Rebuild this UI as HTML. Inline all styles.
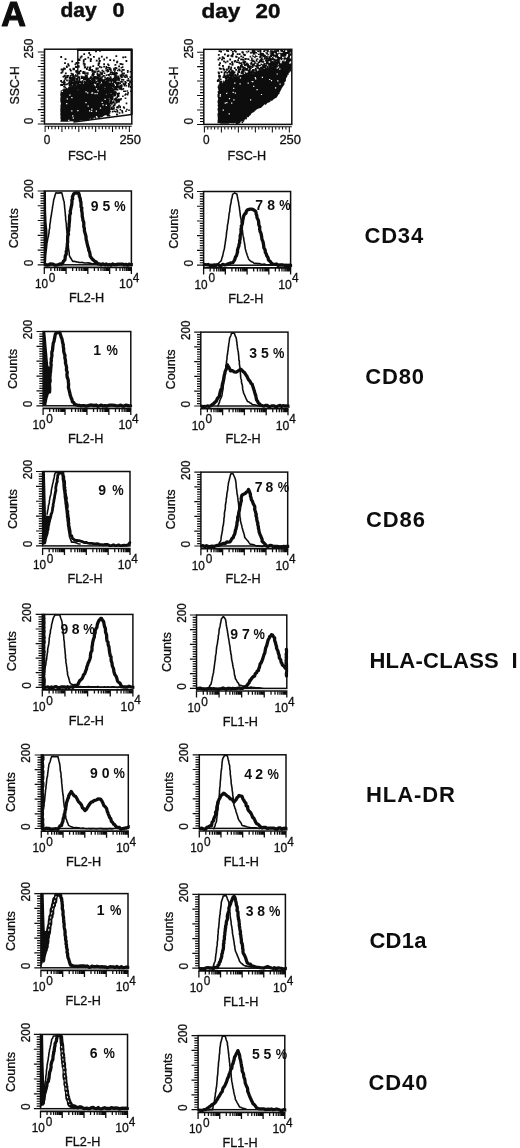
<!DOCTYPE html>
<html><head><meta charset="utf-8"><title>Figure A</title>
<style>
html,body{margin:0;padding:0;background:#fff;}
svg{display:block;}
text{font-family:"Liberation Sans",sans-serif;fill:#111;}
text.r{stroke:#111;stroke-width:0.3px;}
text.hA{stroke:#111;stroke-width:1.1px;stroke-linejoin:round;}
text.hd{stroke:#111;stroke-width:0.45px;}
</style></head><body>
<svg width="520" height="1148" viewBox="0 0 520 1148">
<rect width="520" height="1148" fill="#fff"/>
<filter id="soft" x="0" y="0" width="520" height="1148" filterUnits="userSpaceOnUse"><feGaussianBlur stdDeviation="0.45"/></filter>
<g filter="url(#soft)">
<text x="1.3" y="25.9" font-size="34.2" font-weight="bold" class="hA">A</text>
<text font-size="19.5" font-weight="bold" class="hd"><tspan x="60.4" y="17.2" textLength="36.2" lengthAdjust="spacingAndGlyphs">day</tspan> <tspan x="112.6" y="17.2" textLength="12.0" lengthAdjust="spacingAndGlyphs">0</tspan></text>
<text font-size="19.5" font-weight="bold" class="hd"><tspan x="201.4" y="18.2" textLength="38.8" lengthAdjust="spacingAndGlyphs">day</tspan> <tspan x="255.6" y="18.2" textLength="24.8" lengthAdjust="spacingAndGlyphs">20</tspan></text>
<rect x="44.5" y="49.2" width="87.3" height="74.8" fill="none" stroke="#111" stroke-width="1.5"/>
<path d="M37.8 124.00H44.5M40.7 121.12H44.5M40.7 118.25H44.5M40.7 115.37H44.5M40.7 112.49H44.5M37.8 109.62H44.5M40.7 106.74H44.5M40.7 103.86H44.5M40.7 100.98H44.5M40.7 98.11H44.5M37.8 95.23H44.5M40.7 92.35H44.5M40.7 89.48H44.5M40.7 86.60H44.5M40.7 83.72H44.5M37.8 80.85H44.5M40.7 77.97H44.5M40.7 75.09H44.5M40.7 72.22H44.5M40.7 69.34H44.5M37.8 66.46H44.5M40.7 63.58H44.5M40.7 60.71H44.5M40.7 57.83H44.5M40.7 54.95H44.5M37.8 52.08H44.5" stroke="#111" stroke-width="1.05" fill="none"/>
<path d="M44.5 126.3H131.8M45.10 126.3v5.8M48.47 126.3v2.9M51.84 126.3v2.9M55.21 126.3v2.9M58.58 126.3v2.9M61.95 126.3v5.8M65.32 126.3v2.9M68.69 126.3v2.9M72.07 126.3v2.9M75.44 126.3v2.9M78.81 126.3v5.8M82.18 126.3v2.9M85.55 126.3v2.9M88.92 126.3v2.9M92.29 126.3v2.9M95.66 126.3v5.8M99.03 126.3v2.9M102.40 126.3v2.9M105.77 126.3v2.9M109.14 126.3v2.9M112.51 126.3v5.8M115.88 126.3v2.9M119.25 126.3v2.9M122.63 126.3v2.9M126.00 126.3v2.9M129.37 126.3v5.8" stroke="#111" stroke-width="1.05" fill="none"/>
<text x="43.7" y="144.0" font-size="12" class="r" textLength="6.6" lengthAdjust="spacingAndGlyphs">0</text>
<text x="119.4" y="144.0" font-size="12" class="r" textLength="21.6" lengthAdjust="spacingAndGlyphs">250</text>
<text x="87.2" y="159.8" font-size="12.3" class="r" textLength="38.6" lengthAdjust="spacingAndGlyphs" text-anchor="middle">FSC-H</text>
<text transform="translate(33.3,58.4) rotate(-90)" font-size="12" class="r" textLength="19.8" lengthAdjust="spacingAndGlyphs">250</text>
<text transform="translate(33.3,124.2) rotate(-90)" font-size="12" class="r" textLength="6.6" lengthAdjust="spacingAndGlyphs">0</text>
<text transform="translate(19.1,104.4) rotate(-90)" font-size="12.3" class="r" textLength="38.2" lengthAdjust="spacingAndGlyphs">SSC-H</text>
<clipPath id="c1"><rect x="45.0" y="49.7" width="86.30000000000001" height="73.8"/></clipPath><g clip-path="url(#c1)">
<path d="M60.5 91.1 L60.7 91.7 L60.3 94.2 L60.3 95.6 L60.7 96.7 L60.3 98.0 L60.3 99.8 L60.3 101.5 L61.0 103.4 L60.5 105.3 L60.3 105.7 L60.5 107.1 L60.3 109.3 L60.3 111.4 L60.5 112.4 L60.3 113.6 L60.3 115.1 L60.6 116.7 L60.3 118.0 L60.8 119.8 L60.3 121.8 L61.9 121.8 L63.6 121.8 L64.4 121.8 L66.6 121.8 L68.0 121.8 L69.1 121.6 L71.0 121.3 L73.3 121.6 L75.1 121.8 L76.1 121.8 L77.8 121.1 L79.0 120.9 L80.5 120.5 L82.8 120.4 L83.9 120.3 L85.8 120.6 L86.3 120.6 L88.9 120.4 L89.9 119.1 L91.0 119.9 L93.0 118.6 L95.0 119.0 L96.1 118.4 L97.5 117.8 L98.7 118.2 L101.0 117.3 L102.4 117.1 L103.7 116.1 L105.3 115.3 L108.1 114.8 L108.8 113.3 L110.9 111.8 L110.4 110.5 L110.0 108.5 L110.5 107.3 L109.5 105.6 L108.9 103.9 L109.6 101.6 L108.6 101.1 L107.6 99.3 L108.2 97.7 L107.3 95.7 L105.8 94.3 L105.0 92.7 L105.2 91.4 L103.0 90.1 L102.4 89.4 L101.1 88.6 L99.0 88.3 L97.5 87.1 L95.2 86.8 L93.4 86.1 L91.1 85.5 L89.9 86.4 L87.7 86.3 L86.4 86.3 L84.8 86.6 L82.9 85.7 L81.2 85.1 L79.7 86.2 L79.0 85.0 L77.1 85.5 L75.6 86.2 L73.6 87.0 L72.3 87.0 L71.0 86.9 L68.6 87.6 L68.1 88.6 L66.5 88.1 L65.3 89.5 L63.8 89.6 L62.4 89.4Z" fill="#111"/>
<path d="M84.3 87.6h0M100.4 87.0h0M98.1 93.2h0M86.5 87.9h0M92.9 87.8h0M82.6 90.5h0M76.6 79.8h0M95.5 90.0h0M105.9 93.0h0M72.2 89.9h0M99.5 88.5h0M87.1 79.9h0M106.1 90.8h0M104.7 90.3h0M94.3 76.7h0M110.6 92.3h0M68.9 88.1h0M107.5 92.4h0M97.5 93.5h0M82.6 93.2h0M83.1 91.8h0M72.5 92.9h0M104.5 73.2h0M89.2 88.5h0M92.2 88.5h0M98.4 92.2h0M73.4 91.8h0M92.3 84.4h0M73.3 92.7h0M95.3 88.7h0M96.9 87.4h0M92.1 90.9h0M105.5 85.3h0M87.4 91.2h0M82.3 90.9h0M66.6 92.0h0M82.3 93.0h0M85.5 84.6h0M95.6 87.5h0M103.1 88.5h0M106.6 91.0h0M84.5 81.7h0M91.6 89.1h0M72.4 78.1h0M84.5 92.7h0M101.7 91.7h0M107.5 88.7h0M101.7 87.0h0M68.2 90.9h0M84.0 92.0h0M103.2 90.0h0M76.5 90.6h0M75.0 89.5h0M107.0 81.2h0M109.7 92.6h0M98.0 91.9h0M75.7 83.3h0M103.9 93.2h0M86.9 86.7h0M80.1 90.5h0M85.3 91.0h0M67.9 90.6h0M100.1 90.0h0M92.2 92.7h0M79.5 93.4h0M104.7 92.5h0M99.7 88.4h0M76.9 91.7h0M105.6 91.2h0M75.5 81.8h0M89.1 91.5h0M103.7 91.6h0M84.7 92.3h0M101.2 89.5h0M70.5 90.4h0M80.0 87.1h0M88.9 89.1h0M65.5 90.0h0M107.4 92.4h0M88.8 85.3h0M75.7 85.4h0M87.3 85.6h0M93.3 88.7h0M89.1 87.5h0M82.7 93.0h0M87.3 92.4h0M108.2 85.9h0M94.7 91.5h0M82.3 90.1h0M72.2 86.9h0M105.1 93.1h0M86.5 88.5h0M80.5 82.1h0M65.9 93.2h0M81.1 88.9h0M75.2 90.0h0M70.9 89.3h0M102.7 81.7h0M91.2 88.3h0M72.8 92.6h0M100.4 88.7h0M71.5 91.0h0M95.5 88.5h0M81.1 93.0h0M92.2 93.0h0M78.3 92.3h0M83.3 93.2h0M72.4 86.9h0M75.6 90.8h0M101.5 80.1h0M108.1 86.9h0M107.1 89.0h0M98.2 81.1h0M97.2 83.5h0M83.2 89.0h0M80.5 88.6h0M97.8 84.6h0M81.7 90.5h0M91.8 79.4h0M99.3 76.9h0M77.6 87.7h0M94.2 78.4h0M90.9 93.2h0M92.0 84.7h0M104.8 93.2h0M71.5 89.2h0M78.8 93.2h0M70.2 91.3h0M101.9 88.0h0M79.0 93.3h0M86.5 88.5h0M64.0 86.7h0M110.2 88.0h0M72.6 82.9h0M88.4 92.0h0M91.3 91.7h0M64.4 86.3h0M104.5 92.3h0M91.0 93.3h0M97.6 90.2h0M104.9 92.7h0M97.0 90.3h0M77.0 88.8h0M75.8 91.7h0M74.2 87.3h0M93.0 90.6h0M84.4 91.9h0M77.2 92.2h0M95.5 92.9h0M79.7 92.5h0M80.4 87.7h0M85.2 89.6h0M95.1 89.4h0M72.2 93.1h0M70.8 83.8h0M68.4 90.6h0M83.2 71.9h0M70.1 90.2h0M75.4 92.4h0M88.2 90.3h0M108.2 90.6h0M96.4 87.6h0M105.5 93.2h0M89.9 92.1h0M98.2 90.5h0M96.2 92.2h0M109.6 92.1h0M76.3 88.4h0M87.2 89.4h0M93.8 92.5h0M73.0 93.2h0M86.2 93.4h0M86.8 82.1h0M71.4 91.0h0M79.1 92.0h0M97.1 92.2h0M104.5 92.1h0M85.4 89.9h0M90.6 93.3h0M74.1 84.9h0M79.6 89.1h0M76.6 87.6h0M87.6 88.8h0M75.3 89.7h0M73.8 92.0h0M99.4 83.9h0M93.8 93.5h0M93.6 86.2h0M78.9 89.3h0M98.0 93.5h0M96.8 92.7h0M90.5 83.4h0M100.2 87.2h0M81.4 91.1h0M77.1 83.8h0M88.0 89.3h0M82.2 86.9h0M86.0 93.3h0M81.4 84.2h0M74.5 92.2h0M89.2 91.6h0M76.0 88.5h0M108.2 91.3h0M66.4 90.2h0M103.8 88.5h0M87.2 85.7h0M94.6 91.7h0M78.6 88.6h0M101.5 92.3h0M85.7 89.4h0M64.4 92.1h0M98.3 92.1h0M108.9 92.2h0M94.1 93.2h0M99.9 91.4h0M105.1 91.7h0M68.9 92.2h0M67.9 89.5h0M79.1 91.4h0M92.4 90.2h0M77.2 93.5h0M77.0 83.2h0M83.9 77.2h0M88.2 87.8h0M99.6 82.5h0M89.7 91.9h0M88.0 92.0h0M79.1 84.9h0M105.1 77.2h0M89.1 92.5h0M87.8 92.0h0M80.9 93.4h0M75.8 75.1h0M67.9 90.8h0M83.1 93.4h0M87.0 87.2h0M99.4 86.4h0M76.5 93.5h0M90.3 86.2h0M93.1 92.3h0M95.9 89.0h0M107.2 89.7h0M99.8 88.3h0M108.4 89.4h0M75.5 93.3h0M87.5 93.1h0M99.3 75.4h0M93.7 91.9h0M91.1 87.6h0M70.9 90.2h0M97.6 90.9h0M71.8 83.0h0M88.6 85.9h0M109.0 91.8h0M104.3 92.5h0M79.7 92.0h0M92.2 89.4h0M91.3 92.4h0M72.4 93.5h0M80.0 93.0h0M80.5 92.4h0M69.2 87.9h0M70.2 89.8h0M104.2 92.9h0M92.0 92.1h0M96.7 90.0h0M78.0 87.9h0M97.6 75.1h0M89.4 91.5h0M109.1 90.4h0M78.8 89.7h0M84.0 87.5h0M83.8 88.3h0M107.2 91.9h0M71.0 87.4h0M84.8 93.2h0M110.9 90.1h0M87.3 92.3h0M65.3 87.5h0M77.1 91.6h0M89.5 91.9h0M101.0 89.8h0M92.4 89.8h0M79.4 90.9h0M96.7 88.8h0M107.1 82.3h0M99.6 89.6h0M101.6 87.5h0M102.3 76.6h0M87.4 84.1h0M66.1 89.6h0M64.1 89.3h0M67.8 84.0h0M83.1 92.0h0M63.3 76.7h0M68.0 93.2h0M89.9 90.9h0M76.0 88.8h0M75.3 87.1h0M101.4 92.9h0M90.7 85.3h0M99.0 89.1h0M67.1 90.2h0M85.7 90.6h0M92.8 92.6h0M104.9 93.3h0M80.7 87.9h0M101.5 85.5h0M86.8 89.1h0M87.3 93.3h0M99.2 78.8h0M97.4 90.0h0M89.5 84.6h0M106.3 66.7h0M94.5 93.3h0M80.7 92.3h0M101.0 84.4h0M80.9 86.0h0M97.7 88.3h0M81.3 82.7h0M97.2 84.8h0M86.4 91.8h0M94.0 87.9h0M66.2 88.5h0M101.9 92.1h0M84.8 89.0h0M105.9 92.8h0M101.5 91.8h0M108.7 91.0h0M99.9 92.6h0M102.0 89.2h0M103.5 93.0h0M95.1 92.3h0M73.1 88.6h0M93.6 78.9h0M67.0 93.4h0M106.7 90.5h0M98.8 91.1h0M71.7 93.4h0M105.2 92.4h0M101.5 80.1h0M65.5 92.8h0M85.1 74.0h0M105.3 88.9h0M91.5 92.3h0M66.5 84.4h0M68.3 75.8h0M90.6 59.2h0M103.5 92.2h0M81.0 93.2h0M86.2 84.2h0M89.9 83.7h0M68.7 92.5h0M92.5 93.0h0M100.6 85.7h0M96.2 91.6h0M67.0 90.1h0M83.6 91.1h0M87.7 90.8h0M106.3 90.9h0M109.7 92.4h0M86.6 93.1h0M102.4 76.9h0M96.5 93.5h0M100.6 87.2h0M88.3 84.4h0M69.9 85.6h0M101.6 91.7h0M101.8 90.6h0M82.0 88.5h0M74.5 88.7h0M104.9 90.9h0M87.5 91.8h0M99.5 81.7h0M100.7 85.4h0M89.0 91.4h0M92.2 92.0h0M109.8 89.9h0M82.8 82.9h0M66.5 91.1h0M93.5 76.0h0M110.0 92.3h0M87.2 88.1h0M104.0 93.1h0M79.2 90.8h0M90.7 93.0h0M97.5 91.6h0M106.3 92.4h0M77.8 92.9h0M90.7 90.0h0M98.7 91.1h0M103.2 82.9h0M84.6 92.9h0M84.2 90.5h0M75.6 85.5h0M100.0 92.0h0M90.9 87.5h0M101.2 73.9h0M73.6 88.6h0M70.0 86.4h0" stroke="#111" stroke-width="1.6" stroke-linecap="square" fill="none"/>
<path d="M120.7 85.8h0M87.0 77.8h0M113.4 85.5h0M83.3 87.9h0M94.8 80.4h0M64.6 82.4h0M94.3 80.5h0M98.5 65.1h0M85.0 79.5h0M84.8 83.3h0M129.1 84.5h0M76.4 63.0h0M79.1 86.8h0M83.2 73.0h0M117.4 82.8h0M102.6 84.9h0M84.8 64.2h0M89.7 85.8h0M115.1 69.8h0M81.5 84.9h0M121.7 74.8h0M121.1 81.9h0M98.2 80.4h0M108.0 80.6h0M109.7 86.7h0M79.1 77.2h0M117.1 84.2h0M90.6 83.5h0M83.9 79.5h0M98.7 78.4h0M93.4 74.2h0M80.2 82.3h0M69.8 81.6h0M121.7 71.5h0M130.4 77.1h0M108.1 79.6h0M117.2 82.9h0M95.7 83.4h0M101.8 56.7h0M78.6 62.9h0M80.2 85.2h0M98.7 83.1h0M91.6 81.8h0M78.9 85.9h0M103.6 71.6h0M92.5 81.0h0M114.4 82.1h0M96.9 86.2h0M91.9 86.6h0M99.2 80.9h0M94.1 82.7h0M85.6 86.0h0M90.2 70.2h0M109.7 67.9h0M108.0 64.4h0M118.9 79.2h0M68.2 64.2h0M90.3 87.2h0M90.0 68.7h0M99.9 80.3h0M89.3 82.5h0M88.3 57.6h0M110.3 86.6h0M100.0 87.2h0M77.2 72.9h0M119.7 70.3h0M113.9 81.4h0M87.2 80.0h0M111.1 79.2h0M84.5 65.5h0M116.1 77.7h0M93.3 86.9h0M83.4 85.0h0M90.7 61.0h0M84.0 77.6h0M100.3 82.1h0M100.0 87.4h0M97.6 87.7h0M87.5 87.5h0M98.6 63.7h0M64.8 75.6h0M101.2 85.6h0M116.2 76.4h0M101.7 87.8h0M90.4 67.1h0M93.9 56.8h0M94.7 86.7h0M87.7 85.0h0M87.1 88.0h0M81.3 87.3h0M117.2 83.0h0M96.7 81.6h0M113.3 85.8h0M92.7 71.0h0M98.2 75.4h0M94.1 87.3h0M104.9 83.8h0M111.1 80.6h0M101.1 87.6h0M85.5 83.2h0M83.7 61.5h0M125.2 81.8h0M92.2 75.2h0M92.1 69.8h0M121.9 77.2h0M115.5 67.8h0M106.1 84.3h0M90.2 87.2h0M103.7 75.8h0M106.3 86.7h0M94.1 86.3h0M73.0 83.0h0M74.3 78.0h0M103.9 75.9h0M103.7 87.3h0M92.9 84.0h0M77.1 86.3h0M72.5 87.5h0M91.4 85.1h0M72.2 87.4h0M112.3 79.7h0M116.6 80.3h0M111.9 85.2h0M86.9 69.0h0M82.2 82.4h0M86.9 81.0h0M94.0 82.8h0M113.5 84.8h0M107.4 81.6h0M107.0 87.9h0M100.6 86.5h0M108.2 85.7h0M121.6 85.1h0M78.9 77.3h0M89.2 70.1h0M73.4 85.8h0M124.5 85.5h0M119.0 80.3h0M109.8 84.6h0M76.6 86.7h0M99.9 60.9h0M93.0 75.4h0M98.4 75.3h0M93.8 82.4h0M105.8 85.7h0M90.3 80.3h0M111.5 84.8h0M101.1 87.6h0M92.0 82.1h0M95.1 82.3h0M89.5 81.0h0M110.8 69.3h0M92.4 84.1h0M102.0 74.3h0M90.3 78.1h0M71.8 83.3h0M112.4 84.5h0M79.0 73.4h0M104.1 66.7h0M68.8 65.7h0M80.9 82.2h0M88.3 81.9h0M83.0 84.8h0M76.9 79.5h0M109.6 86.5h0M92.9 73.7h0M103.6 83.0h0M89.7 86.4h0M102.2 84.3h0M84.2 77.8h0M96.5 68.4h0M106.9 79.4h0M97.8 68.5h0M89.2 53.0h0M78.5 85.5h0M99.8 66.8h0M102.9 84.2h0M92.6 79.2h0M83.9 85.2h0M106.2 82.4h0M91.9 84.2h0M103.4 71.7h0M99.1 87.4h0M85.0 87.9h0M120.5 75.4h0M92.7 85.4h0M83.8 60.1h0M93.3 77.7h0M99.8 74.6h0M87.5 86.6h0M96.1 78.6h0M74.0 87.8h0M93.2 66.2h0M110.2 77.4h0M130.5 81.4h0M109.0 86.4h0M101.6 78.7h0M117.1 79.6h0M114.3 80.3h0M125.3 84.0h0M115.4 76.1h0M95.0 77.8h0M101.4 79.2h0M100.0 50.8h0M102.1 73.2h0M100.4 72.5h0M83.7 77.3h0M61.2 57.0h0M85.6 77.1h0M62.6 69.6h0M98.2 87.4h0M97.1 84.9h0M108.7 87.1h0M111.7 86.2h0M98.6 71.2h0M125.4 75.5h0M128.8 86.5h0M76.5 71.0h0M114.6 74.9h0M104.5 84.2h0M104.1 64.2h0M112.9 85.6h0M84.8 86.2h0M86.9 86.4h0M82.9 77.7h0M84.2 54.1h0M72.3 87.9h0M79.2 87.6h0M106.8 83.2h0M95.8 76.8h0M103.5 81.8h0M64.9 68.8h0M83.7 63.6h0M87.6 67.3h0M97.6 77.7h0M87.0 87.9h0M112.9 86.4h0M96.0 51.4h0M97.3 71.9h0M97.2 84.7h0M109.0 83.3h0M89.0 85.8h0M116.1 73.0h0M104.8 84.7h0M99.6 79.2h0M97.7 84.4h0" stroke="#111" stroke-width="1.8" stroke-linecap="square" fill="none"/>
<path d="M109.7 94.9h0M113.1 85.8h0M110.0 86.2h0M114.3 89.1h0M113.7 101.2h0M111.1 74.5h0M109.1 85.4h0M114.7 95.7h0M109.2 89.7h0M118.1 106.9h0M128.1 92.9h0M111.9 92.3h0M122.5 112.6h0M107.0 105.7h0M106.9 67.7h0M123.3 75.1h0M114.6 82.0h0M106.3 83.5h0M119.7 78.4h0M111.0 92.1h0M107.4 112.0h0M117.3 77.8h0M117.5 111.9h0M111.7 95.3h0M108.4 86.1h0M127.6 94.6h0M122.3 111.5h0M117.3 97.1h0M126.5 103.4h0M109.0 112.4h0M109.4 104.7h0M115.7 79.4h0M108.3 90.4h0M112.3 102.5h0M119.7 78.5h0M122.6 67.1h0M121.8 86.6h0M129.0 110.2h0M111.2 100.9h0M113.2 106.4h0M106.4 75.3h0M115.7 98.2h0M106.2 91.5h0M112.0 96.9h0M110.5 105.8h0M107.8 113.5h0M117.9 101.1h0M109.8 74.3h0M107.4 106.1h0M118.6 78.4h0M109.8 83.7h0M126.9 109.5h0M128.7 83.8h0M114.2 95.0h0M112.9 92.6h0M106.8 78.2h0M116.4 89.3h0M106.2 90.6h0M114.8 79.3h0M118.0 107.7h0M109.5 79.2h0M121.8 89.4h0M118.0 99.4h0M126.7 75.4h0M122.7 64.4h0M110.9 70.7h0M117.3 114.7h0M112.6 109.2h0M111.4 98.7h0M110.7 72.6h0M107.0 92.4h0M130.9 91.2h0M107.2 92.8h0M110.9 89.9h0M120.2 107.2h0M113.8 105.3h0M125.3 77.3h0M124.1 84.3h0M111.7 90.9h0M111.3 94.9h0M121.4 67.8h0M118.9 86.5h0M116.7 99.9h0M122.5 69.9h0M119.6 113.0h0M107.8 94.5h0M112.2 72.3h0M113.9 109.0h0M115.6 79.9h0M107.2 110.9h0M113.1 89.1h0M109.5 112.2h0M109.1 99.6h0M118.9 101.9h0M108.2 114.4h0M122.8 82.0h0M119.0 86.3h0M111.9 103.9h0M114.9 104.7h0M106.5 92.6h0M109.2 110.9h0M111.2 86.7h0M107.7 100.4h0M107.2 115.0h0M106.5 86.2h0M107.5 83.0h0M109.0 110.0h0M107.3 88.8h0M112.2 93.9h0M113.2 94.4h0M106.5 88.2h0M122.9 96.3h0M111.1 94.6h0M108.4 102.9h0M107.7 115.7h0M112.0 88.5h0M113.9 105.2h0M123.4 88.9h0M115.1 94.9h0M108.6 111.6h0M117.7 89.7h0M115.1 91.8h0M108.2 89.1h0M114.6 77.0h0M108.2 90.3h0M116.0 93.7h0M125.8 94.1h0M114.4 111.2h0M117.7 70.5h0M117.1 73.4h0M116.9 78.6h0M107.4 112.8h0M114.0 74.1h0M117.3 110.7h0M113.5 102.1h0M123.9 91.3h0M109.5 113.0h0M109.7 69.1h0M106.1 95.9h0M115.9 86.8h0M120.0 88.5h0M120.1 89.3h0M106.8 97.9h0M118.0 76.4h0M106.5 85.1h0M106.1 80.1h0M121.3 64.1h0M116.0 100.6h0M119.1 69.4h0M130.5 71.7h0M110.9 87.5h0M119.1 87.9h0M124.2 76.6h0M112.9 96.5h0M115.9 83.2h0M114.7 71.9h0M109.5 92.5h0M110.5 97.4h0M108.3 67.6h0M108.8 65.2h0M112.1 80.8h0M108.9 88.9h0M118.5 76.8h0M125.5 98.3h0M127.7 72.2h0M109.1 94.4h0M107.5 79.3h0M115.6 111.7h0M114.0 68.5h0M110.0 96.9h0M112.6 111.6h0M120.4 109.6h0M111.7 107.5h0M108.6 113.8h0M125.3 91.3h0M111.1 99.8h0M124.3 84.5h0M118.5 84.0h0M108.0 100.8h0M113.9 85.9h0M113.1 94.3h0M106.0 68.4h0M127.4 91.0h0M108.0 103.8h0M107.7 82.4h0M123.5 79.9h0M110.9 89.3h0M111.5 98.2h0M109.0 75.5h0M110.9 109.2h0M106.2 70.4h0M116.8 87.2h0M107.9 77.9h0M107.1 94.7h0M116.5 83.4h0M112.8 94.3h0M112.9 94.8h0M109.4 78.9h0M122.1 110.7h0M110.6 90.6h0M122.3 73.4h0M110.1 92.5h0M112.9 102.7h0M106.1 108.6h0M125.1 95.0h0M126.3 85.8h0M107.4 71.7h0M111.2 107.6h0M114.0 107.8h0M109.0 115.4h0M119.6 86.6h0M108.5 105.0h0M120.0 106.6h0M114.4 105.3h0M110.1 96.6h0M122.0 76.0h0M123.7 107.1h0M113.5 102.4h0M123.5 83.9h0M107.4 84.4h0M124.3 108.0h0M119.0 105.5h0M111.2 83.7h0M118.1 87.4h0M116.4 109.5h0M121.9 79.6h0M113.2 84.1h0M116.8 114.4h0M107.2 110.4h0M121.2 88.4h0M115.0 103.4h0M109.5 115.8h0M126.0 82.7h0M118.9 99.4h0M117.3 110.6h0M108.6 71.1h0M120.9 76.4h0M121.3 81.5h0M107.9 109.4h0M112.1 108.3h0M114.3 105.8h0M112.8 79.2h0M107.9 83.6h0M126.0 111.3h0M116.2 82.5h0M128.3 78.7h0M111.9 98.5h0M116.9 107.2h0M110.8 77.4h0" stroke="#111" stroke-width="1.6" stroke-linecap="square" fill="none"/>
<path d="M99.3 78.9h0M89.9 81.3h0M93.9 80.0h0M86.2 86.0h0M103.3 81.7h0M106.4 82.7h0M93.4 73.8h0M119.7 86.9h0M71.7 78.8h0M90.0 82.4h0M117.3 86.2h0M87.4 73.6h0M70.9 81.6h0M112.9 73.7h0M101.0 79.6h0M76.6 71.5h0M104.2 82.3h0M79.0 82.1h0M74.5 78.6h0M91.2 77.5h0M86.6 76.3h0M77.9 83.2h0M88.2 78.9h0M79.2 59.8h0M94.2 81.5h0M93.0 80.6h0M103.8 80.6h0M87.0 84.6h0M74.6 81.9h0M74.8 84.9h0M89.9 83.3h0M114.9 73.8h0M105.2 83.1h0M84.3 72.5h0M106.6 86.6h0M77.1 86.7h0M107.6 86.4h0M88.0 83.4h0M104.1 84.7h0M102.1 80.4h0M89.4 86.6h0M97.9 78.4h0M78.4 66.5h0M92.3 84.0h0M108.5 80.5h0M103.2 84.5h0M94.6 71.7h0M79.1 84.9h0M108.2 85.8h0M70.1 82.5h0M82.1 77.8h0M98.4 86.0h0M76.4 82.9h0M115.0 78.6h0M108.7 86.6h0M85.4 78.6h0M85.6 82.5h0M74.8 81.7h0M73.7 69.0h0M99.6 80.1h0M102.1 86.7h0M98.3 75.5h0M97.1 78.1h0M85.5 85.3h0M98.4 84.4h0M72.7 74.8h0M93.5 86.8h0M114.1 79.3h0M111.9 85.0h0M86.8 79.3h0M88.7 79.5h0M112.7 86.2h0M118.5 83.0h0M72.3 82.8h0" stroke="#111" stroke-width="2.5" stroke-linecap="square" fill="none"/>
<path d="M108.4 92.6h0M115.7 99.1h0M107.7 85.4h0M108.5 83.7h0M112.6 90.8h0M113.1 93.7h0M106.8 89.0h0M112.2 90.2h0M118.3 94.8h0M106.8 96.8h0M106.5 90.8h0M107.1 90.6h0M110.8 84.8h0M108.4 92.6h0M113.3 85.7h0M106.8 88.9h0M109.5 95.4h0M116.1 89.4h0M112.7 80.1h0M114.1 92.6h0M114.7 94.5h0M106.7 83.7h0M118.2 95.7h0M108.5 96.1h0M118.0 95.6h0M116.3 89.1h0M111.0 101.6h0M108.3 90.7h0M106.8 96.2h0M109.3 89.1h0M108.0 100.6h0M116.2 87.3h0M109.5 84.3h0M106.8 84.3h0M110.0 89.7h0M113.1 93.9h0M106.7 82.8h0M111.1 84.0h0M107.7 99.5h0M114.1 92.5h0M112.4 99.0h0M110.8 88.2h0" stroke="#111" stroke-width="2.4" stroke-linecap="square" fill="none"/>
<path d="M110.6 98.7h0M106.1 81.9h0M114.0 87.3h0M116.7 99.9h0M106.5 81.9h0M107.8 79.0h0M110.3 80.2h0M114.7 89.0h0M112.1 98.0h0M118.4 86.9h0M116.8 86.6h0M115.7 92.4h0M107.9 85.8h0M106.7 91.3h0M119.9 99.5h0M106.7 100.8h0M106.8 83.2h0M113.8 79.0h0M108.8 97.5h0M108.1 78.6h0M112.4 89.4h0M111.1 96.8h0M119.8 83.5h0M116.7 84.1h0M106.5 83.7h0M109.5 97.8h0M120.6 99.7h0M116.4 101.7h0M121.1 98.9h0M111.4 95.6h0M117.6 93.7h0M106.9 81.9h0M109.6 103.9h0M107.9 93.9h0M111.9 92.3h0M110.9 98.7h0M119.1 93.2h0M110.3 101.6h0M107.5 102.5h0M113.5 102.5h0M115.6 87.5h0M111.0 103.8h0M106.5 89.6h0M114.6 94.9h0M113.8 81.6h0M116.0 92.5h0M110.7 86.6h0M112.3 96.8h0M111.3 101.8h0M109.2 84.6h0M119.2 100.8h0M112.5 97.1h0M111.7 92.3h0M110.2 103.2h0M110.0 89.3h0M117.8 93.5h0M113.5 83.6h0M106.0 85.0h0M116.4 102.8h0M110.3 92.8h0M120.2 83.2h0M107.9 100.2h0M114.8 99.6h0M117.1 102.3h0M119.1 101.0h0M111.6 80.1h0M118.6 100.8h0M113.7 80.2h0M111.2 96.7h0M118.2 99.7h0M115.5 92.3h0M111.6 84.4h0M111.7 88.5h0M106.7 103.8h0M108.9 94.4h0M111.8 84.6h0M111.1 79.5h0M107.5 92.7h0M108.6 80.7h0M108.9 90.2h0" stroke="#111" stroke-width="1.6" stroke-linecap="square" fill="none"/>
<path d="M71.0 78.2h0M71.7 85.6h0M70.1 69.4h0M64.2 84.1h0M76.7 78.6h0M70.1 83.0h0M61.6 69.5h0M66.9 66.5h0M73.4 77.5h0M64.4 83.0h0M74.2 80.0h0M64.6 76.4h0M66.0 77.3h0M63.2 69.9h0M76.0 76.1h0M66.8 67.0h0M73.8 85.9h0M76.2 81.3h0M65.8 73.4h0M61.1 85.0h0M69.9 84.9h0M65.0 63.1h0M75.9 67.0h0M63.8 82.4h0M73.3 83.5h0M61.4 72.9h0M65.6 78.4h0M64.3 80.6h0M75.5 64.3h0M71.2 79.8h0M72.2 61.3h0M66.2 77.4h0M76.2 83.4h0M71.4 73.6h0M73.9 85.8h0M69.5 85.5h0M64.5 83.6h0M76.5 66.8h0M65.5 59.2h0M63.9 82.1h0M72.0 83.3h0M62.5 71.8h0M74.0 79.5h0M73.1 76.1h0M67.5 77.4h0M69.8 78.4h0M69.3 80.5h0M62.3 85.1h0M62.4 85.0h0M67.0 80.3h0M61.1 81.0h0M64.2 76.4h0M67.2 75.8h0M71.7 80.4h0M69.8 77.3h0M64.0 83.7h0M73.9 84.0h0M74.5 84.5h0M72.3 82.4h0M72.7 80.0h0M65.3 78.8h0M75.3 82.2h0M70.9 70.6h0M64.0 68.4h0M72.6 74.4h0M71.7 77.9h0M70.7 75.8h0M69.0 83.1h0M74.0 76.2h0M73.4 83.0h0M71.0 84.7h0M62.1 82.3h0M64.9 84.7h0" stroke="#111" stroke-width="1.8" stroke-linecap="square" fill="none"/>
<path d="M111.4 82.0h0M123.2 57.3h0M115.4 64.9h0M85.2 67.1h0M101.0 77.7h0M89.1 80.9h0M113.4 73.2h0M115.9 74.8h0M117.3 61.7h0M97.5 74.2h0M110.1 84.2h0M89.8 68.1h0M127.4 80.6h0M127.8 70.8h0M80.6 71.0h0M108.3 74.8h0M116.3 56.1h0M91.0 59.1h0M80.7 57.5h0M79.1 71.9h0M115.8 77.3h0M79.6 78.8h0M99.1 58.8h0M120.5 63.8h0M81.7 56.3h0M115.8 76.7h0M101.4 67.3h0M99.3 61.4h0M104.2 59.5h0M97.3 88.5h0M123.8 69.8h0M113.8 90.1h0M99.2 63.3h0M85.3 59.1h0M105.2 79.1h0M130.9 87.0h0M125.4 57.1h0M82.5 85.0h0M97.5 74.0h0M103.4 86.7h0M100.1 88.3h0M84.8 67.6h0M88.7 88.1h0M106.8 57.7h0M116.5 68.3h0M116.2 68.2h0M113.9 60.3h0M114.0 69.9h0M79.4 80.6h0M90.3 54.8h0M96.5 69.7h0M92.3 71.5h0M99.2 58.4h0M99.8 76.2h0M96.7 60.6h0M79.5 73.3h0M124.0 73.4h0M128.8 80.5h0M111.0 87.9h0M93.2 87.5h0M102.4 70.6h0M126.4 61.0h0M110.2 60.2h0M115.2 82.0h0M115.4 80.9h0M130.0 82.3h0M113.1 83.8h0M84.6 73.1h0M105.3 86.4h0M127.0 76.8h0M85.7 75.8h0M81.7 84.0h0M81.6 76.6h0M82.6 81.2h0M87.5 87.7h0M119.1 66.3h0M110.2 80.5h0M117.0 62.4h0M107.9 70.0h0M97.4 85.4h0" stroke="#111" stroke-width="1.8" stroke-linecap="square" fill="none"/>
<path d="M106.3 105.4h0M105.1 99.3h0M96.4 111.1h0M100.5 108.1h0M102.2 102.4h0M89.6 110.8h0M72.7 115.8h0M62.3 91.4h0M96.5 116.6h0M96.5 88.9h0M95.1 93.5h0M88.2 106.2h0M91.8 93.0h0M94.5 118.4h0M86.0 102.5h0M91.8 109.2h0M71.8 110.9h0M86.1 91.9h0M90.4 119.3h0M87.7 92.9h0M73.3 118.0h0M67.3 98.8h0M91.6 111.4h0M66.7 103.6h0M98.0 90.9h0M69.9 95.0h0M97.0 117.3h0M77.9 110.7h0M103.0 104.9h0M71.9 97.6h0M68.8 120.3h0M92.6 92.9h0M97.1 93.6h0M77.6 89.9h0" stroke="#fff" stroke-width="1.25" stroke-linecap="square" fill="none"/>
</g>
<path d="M77.8 49.5 L77.8 92.0" fill="none" stroke="#111" stroke-width="1.4" stroke-linejoin="round" stroke-linecap="round" />
<path d="M74.0 121.9 L131.6 114.4" fill="none" stroke="#111" stroke-width="1.5" stroke-linejoin="round" stroke-linecap="round" />
<path d="M77.8 49.8 L131.6 49.8 L131.6 114.3" fill="none" stroke="#111" stroke-width="2.2" stroke-linejoin="round" stroke-linecap="round" />
<rect x="203.8" y="49.3" width="88.0" height="75.1" fill="none" stroke="#111" stroke-width="1.5"/>
<path d="M197.1 124.40H203.8M200.0 121.51H203.8M200.0 118.62H203.8M200.0 115.73H203.8M200.0 112.85H203.8M197.1 109.96H203.8M200.0 107.07H203.8M200.0 104.18H203.8M200.0 101.29H203.8M200.0 98.40H203.8M197.1 95.52H203.8M200.0 92.63H203.8M200.0 89.74H203.8M200.0 86.85H203.8M200.0 83.96H203.8M197.1 81.07H203.8M200.0 78.18H203.8M200.0 75.30H203.8M200.0 72.41H203.8M200.0 69.52H203.8M197.1 66.63H203.8M200.0 63.74H203.8M200.0 60.85H203.8M200.0 57.97H203.8M200.0 55.08H203.8M197.1 52.19H203.8" stroke="#111" stroke-width="1.05" fill="none"/>
<path d="M203.8 126.7H291.8M204.40 126.7v5.8M207.80 126.7v2.9M211.20 126.7v2.9M214.59 126.7v2.9M217.99 126.7v2.9M221.39 126.7v5.8M224.79 126.7v2.9M228.18 126.7v2.9M231.58 126.7v2.9M234.98 126.7v2.9M238.38 126.7v5.8M241.77 126.7v2.9M245.17 126.7v2.9M248.57 126.7v2.9M251.97 126.7v2.9M255.37 126.7v5.8M258.76 126.7v2.9M262.16 126.7v2.9M265.56 126.7v2.9M268.96 126.7v2.9M272.35 126.7v5.8M275.75 126.7v2.9M279.15 126.7v2.9M282.55 126.7v2.9M285.94 126.7v2.9M289.34 126.7v5.8" stroke="#111" stroke-width="1.05" fill="none"/>
<text x="203.0" y="144.4" font-size="12" class="r" textLength="6.6" lengthAdjust="spacingAndGlyphs">0</text>
<text x="279.4" y="144.4" font-size="12" class="r" textLength="21.6" lengthAdjust="spacingAndGlyphs">250</text>
<text x="246.8" y="160.2" font-size="12.3" class="r" textLength="38.6" lengthAdjust="spacingAndGlyphs" text-anchor="middle">FSC-H</text>
<text transform="translate(192.6,58.5) rotate(-90)" font-size="12" class="r" textLength="19.8" lengthAdjust="spacingAndGlyphs">250</text>
<text transform="translate(192.6,124.6) rotate(-90)" font-size="12" class="r" textLength="6.6" lengthAdjust="spacingAndGlyphs">0</text>
<text transform="translate(178.4,104.6) rotate(-90)" font-size="12.3" class="r" textLength="38.2" lengthAdjust="spacingAndGlyphs">SSC-H</text>
<clipPath id="c2"><rect x="204.3" y="49.8" width="87.0" height="74.10000000000001"/></clipPath><g clip-path="url(#c2)">
<path d="M217.5 91.5 L218.0 93.5 L217.5 94.3 L217.5 96.8 L217.9 97.8 L218.2 99.6 L217.5 100.9 L217.5 102.4 L218.0 104.0 L217.5 105.5 L218.2 107.4 L217.5 108.5 L217.5 109.4 L218.2 112.4 L217.5 113.3 L217.5 114.3 L217.5 115.5 L217.8 117.5 L217.8 119.8 L217.6 120.5 L217.5 122.5 L217.8 123.8 L218.4 123.0 L221.1 123.8 L221.4 123.8 L222.8 123.7 L225.1 123.8 L225.9 123.8 L228.7 123.8 L229.9 122.9 L231.8 123.3 L232.8 123.3 L233.5 123.5 L235.7 122.4 L236.8 122.2 L238.4 122.8 L239.8 121.0 L242.0 119.7 L242.4 120.0 L243.9 119.0 L246.5 118.1 L246.7 116.5 L248.8 116.6 L250.3 115.1 L251.5 113.5 L252.9 111.9 L253.9 112.2 L254.9 110.8 L257.1 109.3 L258.6 108.6 L260.1 108.0 L260.8 108.1 L262.5 106.6 L262.8 106.0 L264.7 104.3 L265.7 104.9 L267.3 102.9 L268.8 102.6 L270.5 101.8 L270.4 100.5 L272.0 101.0 L273.6 99.3 L275.7 97.9 L276.2 98.0 L277.8 95.7 L278.2 94.7 L279.7 93.6 L279.6 92.3 L280.2 91.6 L281.1 89.7 L281.8 88.3 L282.6 86.9 L283.9 85.2 L284.6 84.1 L284.3 82.4 L286.2 80.7 L285.8 80.5 L286.1 77.9 L287.0 77.3 L287.4 76.0 L288.0 73.8 L289.6 72.3 L289.8 70.6 L290.0 70.0 L290.8 68.0 L291.7 67.0 L291.2 63.9 L292.2 62.6 L291.8 61.0 L290.4 61.8 L288.6 60.9 L287.2 61.4 L285.6 61.8 L283.8 63.4 L281.0 64.1 L280.3 63.6 L279.2 64.9 L276.9 66.0 L274.9 65.3 L274.4 65.8 L272.7 66.3 L271.1 67.1 L269.2 67.9 L267.2 68.2 L266.0 68.0 L264.9 69.6 L262.1 69.1 L260.8 70.4 L259.4 70.2 L258.2 70.6 L256.5 72.0 L254.0 72.2 L253.2 73.4 L251.1 73.1 L250.5 73.1 L248.9 73.8 L246.5 75.1 L245.0 74.2 L243.2 75.2 L242.4 74.8 L240.6 75.2 L239.6 75.5 L237.6 76.7 L235.4 77.0 L234.2 76.8 L232.3 77.2 L231.4 77.3 L230.1 77.4 L227.5 79.0 L227.1 79.5 L225.9 79.5 L224.2 80.5 L223.5 82.6 L222.3 83.5 L221.0 83.8 L220.4 85.5 L219.4 87.1 L218.5 89.3 L218.4 91.0Z" fill="#111"/>
<path d="M267.8 72.6h0M240.9 75.6h0M260.8 74.6h0M220.3 84.8h0M249.0 66.7h0M287.2 59.7h0M226.9 88.4h0M256.8 77.0h0M272.7 67.6h0M289.9 54.3h0M244.6 61.4h0M271.2 49.9h0M226.9 81.9h0M270.2 70.0h0M236.9 79.5h0M279.5 63.2h0M285.2 55.6h0M255.9 63.5h0M228.2 83.1h0M220.9 92.5h0M249.6 78.8h0M231.2 87.2h0M222.9 91.0h0M241.6 76.6h0M260.4 51.4h0M287.6 62.7h0M277.0 67.9h0M220.2 84.2h0M244.9 83.2h0M259.0 76.8h0M233.5 87.6h0M282.1 66.6h0M245.0 65.1h0M274.7 51.4h0M282.1 60.9h0M234.9 87.6h0M268.9 69.9h0M231.8 84.4h0M279.2 57.1h0M268.7 59.2h0M267.9 69.6h0M289.5 56.0h0M279.2 59.5h0M224.8 88.3h0M240.3 84.7h0M279.9 60.3h0M242.7 79.0h0M274.1 57.3h0M286.0 64.4h0M236.0 83.7h0M231.4 50.0h0M268.1 73.6h0M283.5 62.3h0M281.2 49.8h0M258.8 76.4h0M233.4 88.2h0M283.9 65.4h0M264.8 72.8h0M272.6 67.7h0M273.8 52.2h0M269.8 69.6h0M237.8 75.7h0M219.1 76.0h0M261.9 76.2h0M263.2 74.2h0M256.0 56.0h0M248.8 64.8h0M290.1 59.0h0M283.5 62.7h0M287.6 59.3h0M243.7 68.5h0M227.7 85.8h0M261.8 67.6h0M225.7 76.2h0M289.9 55.8h0M259.5 69.7h0M239.8 83.4h0M254.5 61.5h0M284.3 60.0h0M290.3 61.0h0M254.9 78.7h0M252.5 63.8h0M260.6 57.2h0M229.4 70.7h0M253.4 51.1h0M276.3 69.3h0M263.7 71.2h0M230.8 77.1h0M257.3 58.8h0M278.8 59.9h0M282.3 66.9h0M275.6 70.3h0M254.9 72.9h0M244.4 81.8h0M242.7 78.6h0M248.7 77.4h0M227.8 56.0h0M287.8 54.1h0M242.2 82.5h0M281.5 67.3h0M231.0 88.7h0M275.9 59.1h0M242.7 79.0h0M234.1 85.6h0M261.9 58.6h0M247.6 76.7h0M252.5 55.9h0M269.0 63.3h0M290.2 62.5h0M278.5 67.5h0M266.1 72.7h0M230.9 80.4h0M278.8 54.6h0M274.2 62.4h0M252.3 58.1h0M280.6 66.5h0M290.4 50.6h0M273.7 66.6h0M281.8 67.0h0M226.8 69.4h0M247.2 80.1h0M232.5 86.0h0M282.1 64.7h0M273.1 70.3h0M284.7 60.5h0M253.9 76.2h0M238.6 82.5h0M288.1 62.7h0M252.7 63.2h0M246.5 81.0h0M270.0 62.4h0M276.4 67.8h0M278.2 61.5h0M278.9 62.6h0M270.1 52.8h0M272.9 53.1h0M233.0 82.4h0M246.6 75.8h0M253.3 77.3h0M253.0 72.5h0M266.6 69.2h0M259.7 76.3h0M278.0 62.3h0M244.4 74.7h0M231.8 83.6h0M268.5 58.9h0M232.9 74.7h0M226.9 77.5h0M226.3 79.1h0M279.4 64.1h0M278.5 56.2h0M244.9 55.0h0M246.6 63.4h0M219.9 85.6h0M227.4 88.1h0M233.8 76.8h0M288.2 61.0h0M245.5 77.9h0M225.6 81.4h0M280.9 63.7h0M263.9 56.8h0M244.0 75.3h0M250.9 77.4h0M246.0 80.0h0M263.8 74.1h0M262.2 67.5h0M236.6 56.9h0M219.9 76.2h0M268.7 64.0h0M222.4 87.6h0M228.8 89.7h0M222.2 87.7h0M256.2 73.0h0M218.9 80.7h0M284.3 62.9h0M267.1 63.2h0M238.7 82.9h0M265.6 73.2h0M284.2 55.8h0M276.1 68.2h0M248.8 65.7h0M243.4 78.2h0M263.6 70.2h0M282.9 66.4h0M246.1 69.8h0M248.7 81.5h0M267.4 71.1h0M228.7 67.5h0M282.9 63.1h0M276.0 68.7h0M287.6 59.0h0M255.4 63.9h0M242.6 79.5h0M236.4 83.9h0M262.8 74.9h0M291.7 61.3h0M273.6 66.2h0M266.5 71.0h0M244.0 80.7h0M253.7 65.6h0M260.3 54.1h0M225.4 82.9h0M232.8 83.2h0M289.5 56.2h0M229.6 75.4h0M234.6 85.1h0M262.2 74.4h0M221.8 84.6h0M249.6 75.1h0M273.9 69.1h0M273.0 54.6h0M228.7 71.8h0M234.1 78.2h0M275.6 63.4h0M281.1 64.2h0M240.3 76.1h0M267.7 72.1h0M275.9 60.6h0M240.9 79.9h0M258.2 68.3h0M253.9 64.0h0M282.2 66.3h0M248.3 78.8h0M221.1 84.8h0M257.5 65.4h0M247.8 76.6h0M253.1 78.1h0M257.0 64.0h0M284.9 53.7h0M251.4 71.8h0M273.3 68.0h0M275.1 66.4h0M257.9 74.6h0M286.5 64.8h0M259.8 68.8h0M290.3 63.8h0M288.6 54.5h0M262.0 74.6h0M263.8 60.5h0M268.0 60.7h0M248.8 73.7h0M259.4 65.3h0M248.7 73.0h0M233.0 85.6h0M252.0 76.6h0M230.4 76.1h0M291.6 54.7h0M288.4 55.3h0M265.3 71.8h0M251.5 73.4h0M255.3 59.2h0M252.0 72.3h0M252.8 52.3h0M254.0 75.1h0M221.8 92.4h0M265.4 68.4h0M278.2 51.0h0M270.9 64.0h0M285.0 62.8h0M248.6 81.0h0M243.0 78.2h0M246.4 80.8h0M246.7 78.1h0M236.2 82.1h0M253.9 78.6h0M266.2 71.7h0M269.9 66.5h0M270.1 72.7h0M255.8 76.9h0M223.2 86.1h0M273.2 65.3h0M270.6 61.5h0M229.0 85.0h0M268.4 61.4h0M287.2 58.6h0M251.2 75.8h0M264.7 58.4h0M228.2 76.1h0M243.0 72.3h0M242.0 71.9h0M283.4 54.5h0M223.7 88.2h0M262.1 74.0h0M265.4 62.1h0M259.4 74.9h0M237.2 84.5h0M273.8 55.1h0M273.5 62.2h0M282.9 56.1h0M241.5 82.1h0M273.3 59.1h0M264.2 51.3h0M275.9 69.0h0M267.7 62.3h0M265.6 69.3h0M277.6 68.7h0M248.6 64.8h0M255.5 72.3h0M239.1 69.1h0M283.5 66.8h0M261.6 68.2h0M261.2 60.4h0M291.5 50.4h0M246.8 79.1h0M229.0 81.5h0M219.1 88.8h0M258.4 77.8h0M232.4 72.7h0M253.5 76.5h0M239.3 69.8h0M281.0 67.1h0M265.7 66.0h0M225.8 87.8h0M266.7 72.9h0M284.3 55.9h0M237.5 86.1h0M265.0 66.8h0M248.3 76.2h0M263.0 73.6h0M268.1 70.0h0M284.2 66.1h0M270.2 68.8h0M241.6 76.1h0M251.0 72.1h0M261.2 62.8h0M284.4 63.4h0M222.2 92.8h0M270.1 50.8h0M278.8 55.9h0M272.8 55.0h0M274.1 56.3h0M271.5 59.2h0M224.3 81.0h0M231.8 84.8h0M238.2 67.3h0M243.0 83.9h0M284.9 65.6h0M242.5 84.5h0M228.8 86.2h0M247.7 66.1h0M281.8 58.9h0M237.7 80.2h0M278.6 66.9h0M265.1 74.3h0M232.3 85.8h0M220.2 92.5h0M233.7 73.2h0M288.4 53.8h0M282.3 64.3h0M287.1 61.0h0M259.1 73.8h0M269.9 67.9h0M258.1 77.6h0M220.6 85.8h0M224.4 83.2h0M290.6 63.5h0M264.4 64.7h0M270.3 65.5h0M245.1 79.9h0M268.2 49.5h0M254.1 79.2h0M218.6 87.2h0M257.5 62.8h0M232.6 63.7h0M276.9 60.3h0M241.7 79.8h0M274.3 69.0h0M236.8 85.7h0M227.3 75.2h0M273.8 65.7h0M262.5 65.5h0M257.1 66.5h0M291.0 63.5h0M263.9 60.5h0M225.4 90.5h0M256.0 70.4h0M261.2 74.1h0M252.8 77.5h0M257.2 66.2h0M268.3 69.7h0M266.2 72.3h0M257.1 76.9h0M250.8 66.3h0M265.0 65.6h0M272.0 54.5h0M262.4 64.8h0M223.2 86.1h0M226.7 85.1h0M270.0 66.6h0M246.3 80.2h0M276.4 69.8h0M226.0 89.3h0M254.0 78.2h0M232.4 56.4h0M257.3 61.4h0M287.2 52.2h0M227.7 89.2h0M241.0 77.7h0M263.1 75.8h0M226.2 88.5h0M264.0 61.8h0M256.8 73.3h0M263.5 74.6h0M218.4 80.0h0M248.6 79.7h0M280.3 68.4h0M242.1 72.2h0M263.4 69.9h0M240.9 81.1h0M281.0 62.3h0M245.0 76.8h0M228.2 87.9h0M275.6 68.1h0M273.4 63.1h0M259.4 73.7h0M251.8 80.6h0M232.1 62.1h0M269.2 58.6h0M248.2 67.5h0M260.8 71.4h0M236.0 77.9h0M262.6 74.3h0M263.8 72.8h0M223.1 91.8h0M219.3 93.2h0M236.1 76.2h0M250.0 76.4h0M291.6 57.8h0M269.9 59.6h0M276.9 68.7h0M258.8 65.4h0M226.2 87.2h0M284.2 63.8h0M260.1 61.6h0M239.2 85.2h0M248.2 70.4h0M235.1 86.6h0M266.3 60.3h0M249.0 77.3h0M283.3 56.0h0M217.8 81.0h0M253.6 71.5h0M270.7 66.2h0M260.2 65.3h0M221.7 83.5h0M247.0 69.3h0M284.6 58.6h0M291.4 53.9h0M220.6 91.1h0M280.4 60.0h0M273.5 67.7h0M283.4 66.7h0M226.3 78.2h0M286.0 60.6h0M270.2 64.4h0M252.8 76.2h0M260.0 72.0h0M274.9 70.2h0M220.6 81.6h0M268.1 72.6h0M221.5 81.8h0M277.4 69.0h0M234.9 81.7h0M247.4 64.2h0M243.3 62.2h0M224.4 83.1h0M256.4 77.7h0M254.3 76.6h0M260.4 75.8h0M245.3 69.5h0M262.1 67.2h0M277.4 57.3h0M270.2 66.7h0M237.0 62.1h0M239.2 72.0h0M250.5 79.6h0M282.0 63.5h0M246.2 78.5h0M285.7 58.1h0M235.8 81.0h0M249.1 75.1h0M288.6 57.7h0M278.1 68.4h0M228.0 84.5h0M285.1 65.1h0M264.6 72.9h0M262.9 73.8h0M223.0 92.2h0M274.6 67.1h0M223.8 85.9h0M284.3 55.4h0M233.2 74.9h0M263.8 71.8h0M290.0 55.8h0M255.4 74.6h0M274.8 69.1h0M247.4 76.4h0M219.2 93.1h0M265.7 74.7h0M256.9 74.3h0M252.6 79.2h0M260.3 70.4h0M284.0 52.0h0M226.6 77.4h0M244.9 80.7h0M241.8 81.7h0M261.7 68.1h0M283.0 65.9h0M227.2 80.8h0M239.0 83.8h0M245.9 69.2h0M246.4 59.1h0M265.7 74.4h0M261.3 68.0h0M280.3 62.9h0M287.8 50.4h0M251.5 58.8h0M284.2 58.1h0M279.1 62.7h0M243.4 70.6h0M249.8 67.6h0M241.7 80.3h0M251.7 71.4h0M263.7 61.5h0M255.8 72.8h0M248.6 79.0h0M260.8 68.2h0M230.4 72.8h0M229.7 85.5h0M241.5 66.3h0M260.3 76.0h0M219.4 77.8h0M246.1 75.1h0M271.0 72.3h0M236.0 79.4h0M228.6 87.0h0M269.8 68.8h0M239.0 81.8h0M228.7 68.6h0M243.9 73.9h0M282.8 63.5h0M254.5 74.6h0M246.5 73.7h0M264.5 55.2h0M221.2 92.7h0M261.2 72.4h0M251.0 63.5h0M291.6 61.0h0M278.5 68.9h0M267.9 67.0h0M249.2 64.8h0M264.9 60.6h0M275.3 56.7h0M269.9 64.3h0M253.9 70.1h0M275.5 63.7h0M282.3 53.8h0M237.4 77.9h0M257.4 76.4h0M232.4 87.6h0M225.4 84.6h0M236.7 85.2h0M262.3 55.5h0M230.4 77.1h0M224.3 90.8h0M222.2 84.9h0M286.0 53.4h0M278.9 69.2h0M232.1 76.2h0M220.1 83.1h0M267.1 71.5h0M260.1 76.3h0M285.8 57.9h0M264.0 63.3h0M267.9 55.0h0M290.1 61.4h0M237.8 73.6h0M226.3 87.4h0M257.0 73.9h0M276.6 51.2h0M237.0 82.7h0M259.5 74.2h0M260.3 60.6h0M222.3 84.4h0M241.8 83.5h0M246.1 74.0h0M278.4 67.1h0M242.8 66.9h0M290.4 60.3h0M240.3 85.2h0M243.2 57.3h0M243.3 59.9h0M286.2 63.8h0M259.5 74.1h0M241.5 73.1h0M248.7 80.6h0M286.1 64.7h0M244.9 72.7h0M268.7 72.5h0M231.0 88.3h0M228.1 81.0h0M273.7 63.1h0M284.2 53.2h0M240.2 69.2h0M245.5 74.0h0M268.2 50.6h0M233.5 87.0h0M268.8 70.5h0M238.7 70.1h0M250.6 78.2h0M222.3 92.5h0M231.1 88.2h0M273.7 65.0h0M276.4 69.8h0M241.1 59.4h0M229.9 72.4h0M233.9 83.6h0M250.6 78.9h0M284.1 52.0h0M248.8 80.3h0M228.5 81.7h0M241.8 65.0h0M247.8 76.8h0M257.9 77.1h0M282.8 53.7h0M289.3 58.2h0M231.4 85.5h0M249.6 81.1h0M256.2 78.6h0M275.9 65.2h0M270.4 63.4h0M226.7 84.2h0M224.9 86.0h0M285.0 55.2h0M253.4 76.3h0M232.7 84.3h0M249.1 79.7h0M260.2 53.5h0M270.6 68.7h0M242.4 52.2h0M229.9 82.3h0M254.8 76.3h0M220.1 63.1h0M281.4 68.0h0M235.6 75.2h0M282.7 67.3h0M224.8 76.6h0M267.1 53.8h0M250.0 81.0h0M226.6 88.3h0M254.4 76.5h0M279.1 62.3h0M245.8 64.7h0M252.8 70.1h0M267.7 70.0h0M285.6 65.2h0M239.6 84.2h0M261.3 70.5h0M284.7 65.1h0M250.5 74.2h0M262.5 61.8h0M272.1 67.6h0M226.9 88.8h0M288.6 52.0h0M236.1 78.4h0M252.5 72.6h0M269.3 71.7h0M229.3 74.6h0M230.6 85.4h0M261.7 64.5h0M276.5 56.9h0M270.9 63.9h0M270.9 65.9h0M257.8 73.9h0M238.3 82.6h0M234.8 79.2h0M226.4 78.3h0M289.1 59.7h0M276.5 67.7h0M265.6 73.9h0M255.0 76.7h0M277.3 54.8h0M227.9 86.9h0M235.4 86.8h0M234.6 72.3h0M277.6 55.5h0M240.5 67.4h0M262.8 54.5h0M256.3 66.0h0M237.0 82.6h0M251.3 71.3h0M218.6 72.3h0M243.3 69.7h0M261.1 59.8h0M271.8 65.3h0M257.0 73.9h0M242.3 82.8h0M267.1 70.2h0M232.2 82.7h0M228.8 77.8h0M263.9 67.3h0M291.6 61.1h0M221.7 88.2h0M245.5 76.4h0M264.0 72.5h0M264.5 73.7h0M289.0 49.8h0M270.8 70.5h0M286.0 53.9h0M232.5 74.8h0M285.7 61.2h0M258.9 64.8h0M289.5 59.4h0M234.8 68.1h0M254.0 76.5h0M260.7 74.7h0M244.5 77.8h0M268.9 70.3h0M281.5 60.5h0M239.8 84.6h0M254.9 72.8h0M281.8 66.6h0M246.3 68.8h0M266.6 72.4h0M260.5 50.9h0M232.6 75.9h0M219.0 92.8h0M235.8 87.1h0M236.8 85.6h0M251.9 79.8h0M284.5 63.2h0M220.9 68.9h0M246.2 82.5h0M255.6 77.4h0M248.1 80.5h0M243.9 78.8h0M243.4 75.6h0M282.0 66.4h0M252.0 77.6h0M272.1 63.7h0M219.0 73.5h0M286.2 61.8h0M246.6 52.2h0M262.4 68.5h0M251.2 76.5h0M224.4 69.8h0M228.2 84.6h0M271.6 68.9h0M283.6 63.0h0M279.9 68.2h0M278.5 66.2h0M224.2 75.9h0M271.6 63.0h0M275.7 68.4h0M241.8 80.6h0M263.0 72.5h0M231.2 74.6h0M289.0 55.6h0M242.1 83.9h0M280.5 54.2h0M290.5 64.1h0M270.0 71.6h0M283.1 63.5h0M220.7 92.9h0M267.5 60.8h0M271.6 68.8h0M244.8 78.4h0M223.5 49.6h0M250.3 80.5h0M279.5 68.1h0M268.7 55.6h0M255.1 77.9h0M252.1 60.6h0M249.1 74.6h0M258.6 77.7h0M253.1 76.9h0M245.1 79.9h0M232.8 51.8h0M269.6 56.6h0M255.8 68.6h0M266.3 73.9h0M235.3 60.8h0M232.9 71.2h0M252.4 67.1h0M286.5 54.6h0M285.4 65.3h0M269.9 64.1h0M266.0 70.7h0M281.3 65.2h0M262.2 67.2h0M230.4 80.5h0M248.0 76.3h0M260.3 74.7h0M260.3 50.2h0M253.4 69.9h0M261.2 72.5h0M269.2 71.6h0M242.0 80.6h0M278.7 58.0h0M285.4 52.7h0M261.0 61.7h0M234.1 87.2h0M227.2 72.8h0M271.0 67.1h0M273.6 68.5h0M229.2 85.9h0M284.7 63.2h0M258.1 75.9h0M232.7 82.7h0M238.9 83.3h0M247.0 80.5h0M263.7 70.0h0M272.6 65.0h0M220.2 91.1h0M268.7 61.6h0M289.9 60.4h0M233.8 87.3h0M234.0 72.2h0M246.6 80.8h0M290.0 59.2h0M256.4 65.5h0M257.8 66.6h0M282.1 57.3h0M273.2 70.6h0M291.6 55.3h0M246.7 73.6h0M276.7 64.6h0M224.0 82.2h0M254.0 60.7h0M253.4 75.1h0M271.8 49.7h0M256.8 50.0h0M250.9 79.2h0M277.1 63.0h0M243.2 81.2h0M276.4 66.1h0M241.7 59.4h0M258.0 74.9h0M281.6 60.0h0M287.0 65.4h0M244.2 63.7h0M246.3 81.1h0M249.0 71.4h0M259.8 62.1h0M256.6 71.4h0M259.4 71.8h0M220.1 87.8h0M223.8 85.2h0M228.7 81.7h0M229.2 88.1h0M227.8 85.3h0M249.1 71.8h0M258.9 75.7h0M238.6 71.8h0M252.9 52.1h0M226.3 84.4h0M275.4 67.3h0M248.4 76.4h0M288.8 57.1h0M263.7 61.1h0M252.7 79.3h0M280.9 67.9h0M279.3 68.0h0M229.5 85.6h0M257.4 75.1h0M244.1 80.9h0M275.0 61.5h0M248.3 79.4h0M288.7 58.1h0M249.1 76.5h0M245.9 81.0h0M225.3 91.6h0M263.1 67.8h0M243.3 67.8h0M258.8 72.7h0M276.3 53.6h0M231.2 84.4h0M291.6 60.5h0M251.7 80.1h0M276.0 67.7h0M228.7 71.8h0M283.9 64.9h0M221.4 85.2h0M256.9 77.6h0M233.7 87.7h0M249.7 79.6h0M265.7 65.5h0M220.6 79.4h0M287.7 60.5h0M231.4 86.2h0M265.0 61.0h0M281.8 64.2h0M224.8 76.4h0M275.3 67.9h0M254.0 75.7h0M290.9 55.8h0M273.8 62.7h0M263.4 62.3h0M267.4 67.8h0M291.2 63.7h0M228.8 89.1h0M269.7 58.4h0M264.1 75.1h0M232.8 81.7h0M239.2 77.8h0M242.2 72.0h0M265.7 61.4h0M247.2 73.8h0M249.1 80.9h0M278.4 68.4h0M222.3 87.0h0M222.5 89.2h0M253.8 77.8h0M286.2 61.8h0M230.9 76.3h0M243.4 80.4h0M263.6 65.7h0M260.5 72.5h0M237.8 75.1h0M268.6 61.1h0M257.6 67.4h0M253.2 78.5h0M274.4 69.3h0M281.5 67.6h0M271.1 56.3h0M261.8 76.3h0M240.0 83.6h0M220.4 92.2h0M260.6 72.9h0M250.0 78.4h0M219.9 88.2h0M244.5 83.5h0M286.7 65.4h0M256.1 65.2h0M244.8 78.0h0M223.3 92.2h0M270.5 69.2h0M219.1 85.3h0M236.9 85.6h0M260.0 74.5h0M249.1 72.9h0M244.7 81.2h0M239.8 79.9h0M269.7 70.2h0M276.9 68.8h0" stroke="#111" stroke-width="1.85" stroke-linecap="square" fill="none"/>
<path d="M275.0 51.0h0M278.9 56.5h0M287.9 54.3h0M255.9 51.1h0M257.4 61.2h0M252.3 63.7h0M266.4 52.7h0M265.2 52.1h0M259.3 59.6h0M276.5 58.7h0M259.6 53.5h0M261.1 61.9h0M289.6 56.3h0M263.6 55.5h0M253.5 56.9h0M269.5 59.1h0M288.1 54.0h0M261.8 58.6h0M256.1 64.7h0M287.7 52.8h0M288.4 55.2h0M265.9 62.9h0M254.7 63.8h0M263.1 53.9h0M282.3 50.6h0M253.1 50.7h0M266.1 57.4h0M277.4 51.8h0M289.7 55.3h0M272.2 52.9h0M272.8 53.1h0M291.4 63.5h0M267.6 58.2h0M253.3 65.0h0M266.4 65.4h0M261.6 55.3h0M279.3 59.5h0M276.2 56.5h0M270.7 55.9h0M256.9 52.2h0M281.9 59.9h0M277.8 56.6h0M274.7 59.7h0M262.0 54.8h0M266.0 57.9h0M256.2 65.5h0M266.3 50.7h0M269.6 62.9h0M276.9 52.2h0M265.8 60.7h0M274.3 56.2h0M255.9 52.7h0M284.2 63.4h0M250.5 64.3h0M281.6 55.4h0M285.8 57.8h0M261.8 63.9h0M275.4 56.1h0M260.0 52.9h0M266.8 52.4h0M282.1 58.7h0M269.2 60.1h0M289.6 50.9h0M277.0 64.2h0M255.0 57.1h0M269.9 56.7h0M261.0 55.2h0M268.2 55.5h0M252.8 50.9h0M278.6 60.3h0M276.5 56.0h0M275.5 55.7h0M254.8 51.3h0M260.7 63.5h0M283.0 64.1h0M287.5 59.2h0M253.6 52.5h0M270.6 61.1h0M287.8 53.6h0M281.9 54.8h0M276.9 62.1h0M272.5 55.0h0M282.7 64.0h0M270.8 53.9h0M251.0 52.9h0M269.2 61.3h0M284.0 60.2h0M267.9 51.1h0M267.7 51.3h0M263.0 57.5h0M267.6 54.4h0M275.6 52.1h0M277.9 53.2h0M264.3 55.9h0M291.7 56.2h0M273.0 51.7h0M269.8 53.0h0M261.1 60.5h0M263.2 64.7h0M253.8 50.1h0M260.2 56.3h0M287.4 55.6h0M272.7 54.1h0M253.6 62.5h0M263.3 64.0h0M258.2 63.9h0M266.6 56.4h0M279.7 53.8h0M281.9 63.1h0M291.0 59.1h0M258.7 51.0h0M261.6 60.5h0M289.2 64.7h0M252.3 60.3h0M290.7 58.8h0M263.0 65.4h0M284.7 52.2h0M268.9 64.8h0M254.3 64.6h0M258.6 54.2h0M254.2 52.6h0M282.3 63.3h0M266.0 56.1h0M253.6 51.9h0M275.2 59.9h0M251.8 62.8h0M286.2 50.2h0M281.4 58.3h0M282.8 61.3h0M281.2 54.4h0M257.3 53.1h0M266.5 63.1h0M271.6 65.0h0M253.9 51.3h0M279.9 56.3h0M252.8 62.3h0M286.0 56.6h0M288.9 52.6h0M283.5 63.2h0M279.3 56.1h0M284.7 55.1h0M278.8 56.3h0M280.0 53.5h0M262.4 55.0h0M258.8 62.4h0M290.4 56.8h0M282.4 51.5h0M285.4 60.8h0M266.7 56.6h0M254.7 51.1h0M291.9 64.4h0M253.6 53.9h0M271.7 51.9h0M267.1 61.3h0M277.1 54.9h0M261.6 60.4h0M268.4 58.6h0M261.6 53.5h0M280.0 56.9h0M254.4 53.2h0M288.4 64.6h0M284.4 54.1h0M254.8 63.6h0M250.8 51.0h0M288.6 60.6h0M273.2 58.1h0M281.3 50.8h0M250.5 56.7h0M265.9 53.1h0M256.3 60.4h0M253.4 62.4h0M250.2 59.8h0M282.3 57.7h0M281.3 62.6h0M289.5 59.4h0M284.8 52.7h0M290.7 51.7h0M277.2 59.4h0M270.3 51.6h0M286.4 56.9h0M284.6 50.3h0M258.3 52.1h0M281.9 57.7h0M287.7 58.2h0M281.8 56.3h0M264.0 58.4h0M274.3 56.1h0M272.2 53.8h0M271.3 59.3h0M262.0 59.3h0M252.5 62.3h0M262.4 64.6h0M266.5 54.8h0M288.9 60.8h0M276.4 55.4h0M253.4 51.6h0M255.1 51.5h0M277.3 55.7h0M275.1 64.4h0M272.3 61.9h0M266.2 56.5h0M266.5 59.2h0M280.2 58.4h0M282.4 54.4h0M286.9 61.5h0M288.5 54.2h0M284.1 51.8h0M287.5 59.7h0M272.9 57.5h0M264.5 51.2h0M257.4 56.9h0M289.5 55.6h0M263.8 57.6h0M260.2 57.3h0M283.3 55.8h0M278.7 58.5h0M291.9 62.8h0M282.2 55.3h0M273.7 59.9h0M277.2 51.2h0M290.1 57.6h0M254.7 55.1h0M279.3 54.4h0M289.9 65.1h0M291.5 51.6h0M282.2 54.9h0M291.1 57.5h0M254.1 51.1h0M284.4 52.0h0M267.8 55.7h0" stroke="#111" stroke-width="1.7" stroke-linecap="square" fill="none"/>
<path d="M255.0 58.6h0M281.3 60.9h0M253.1 62.8h0M264.3 60.5h0M290.7 62.1h0M255.7 64.4h0M251.7 56.1h0M257.7 52.7h0M269.5 52.9h0M286.3 57.0h0M246.4 60.2h0M269.4 62.1h0M245.8 52.8h0M290.6 57.8h0M266.0 51.6h0M276.1 58.5h0M256.9 62.6h0M266.8 55.3h0M282.9 60.0h0M250.4 59.4h0M254.9 59.8h0M259.0 53.1h0M282.8 57.6h0M286.4 51.3h0M279.5 56.3h0M256.3 51.2h0M259.5 64.0h0M278.8 55.3h0M265.5 54.0h0M261.0 63.1h0M290.8 56.6h0M256.8 57.7h0M280.9 62.6h0M253.1 57.8h0M287.0 56.0h0M258.1 60.8h0M287.4 54.7h0M277.7 52.6h0M285.2 60.6h0M274.3 57.5h0M249.7 64.5h0M263.3 58.1h0M290.0 63.0h0M250.7 51.1h0M269.5 50.8h0M269.0 55.4h0M265.1 62.2h0M257.9 57.2h0M259.2 59.0h0M254.4 55.6h0M257.1 55.3h0M246.7 55.1h0M279.5 54.5h0M286.1 51.0h0M255.1 60.0h0M247.6 54.8h0M262.7 63.4h0M250.0 58.8h0M264.6 52.7h0M256.7 54.6h0" stroke="#fff" stroke-width="1.5" stroke-linecap="square" fill="none"/>
<path d="M224.4 74.2h0M244.4 74.3h0M226.9 50.5h0M237.6 54.2h0M233.2 83.8h0M230.9 69.4h0M248.3 59.1h0M235.9 51.7h0M228.9 66.6h0M224.0 61.3h0M228.4 55.4h0M224.6 72.3h0M241.2 56.3h0M238.9 58.1h0M242.9 81.1h0M244.2 62.4h0M238.1 60.2h0M224.6 76.5h0M240.4 67.7h0M218.8 54.9h0M234.7 79.4h0M223.6 69.3h0M242.4 69.9h0M241.4 63.2h0M229.6 78.9h0M238.5 71.5h0M242.9 52.6h0M235.9 81.0h0M226.9 69.8h0M222.0 59.5h0M248.5 51.4h0M221.1 51.5h0M224.9 54.3h0M245.3 59.0h0M219.7 68.5h0M223.0 57.9h0M231.0 77.6h0M223.3 68.4h0M219.4 65.0h0M245.1 65.0h0M224.1 58.4h0M250.0 68.8h0M219.7 58.2h0M227.6 61.3h0M238.0 67.9h0M221.5 72.2h0M234.7 61.5h0M235.0 75.2h0M239.0 62.5h0M232.3 55.2h0M249.8 70.2h0M225.6 62.4h0M240.9 65.9h0M233.0 54.0h0M245.2 61.8h0M236.2 56.6h0M247.9 73.7h0M223.4 77.1h0M227.2 77.5h0M237.1 81.9h0M240.2 63.4h0M231.3 72.4h0M231.2 67.5h0M250.7 68.2h0M250.6 72.9h0M219.5 51.1h0M240.4 79.7h0M248.1 64.6h0M219.8 76.4h0M243.8 54.6h0M238.4 67.2h0M236.1 69.9h0M227.6 77.1h0M243.7 70.9h0M225.7 71.8h0M224.4 82.4h0M230.2 59.5h0M252.7 65.7h0M232.2 80.8h0M223.0 66.0h0M232.0 70.7h0M244.8 67.7h0M243.1 73.8h0M246.9 77.1h0M228.2 51.1h0M230.2 63.8h0M248.0 76.2h0M231.4 55.9h0M235.9 77.3h0M240.0 76.6h0M250.0 75.3h0M218.5 59.6h0M239.7 54.2h0M235.9 82.9h0M232.4 64.8h0M228.4 81.6h0M231.2 73.4h0M234.7 50.9h0M225.7 78.0h0M242.3 75.9h0M246.7 69.7h0M232.2 55.7h0M222.6 57.1h0" stroke="#111" stroke-width="1.8" stroke-linecap="square" fill="none"/>
<path d="M257.8 102.3h0M278.1 81.5h0M290.7 70.6h0M248.8 113.5h0M239.7 121.9h0M260.2 101.1h0M282.2 76.2h0M280.8 80.1h0M269.1 90.6h0M249.8 114.4h0M244.3 116.0h0M244.8 116.5h0M243.4 121.1h0M237.9 121.3h0M264.2 96.7h0M255.1 107.7h0M255.7 106.2h0M251.4 109.7h0M280.3 82.3h0M252.2 109.3h0M244.8 117.8h0M251.8 110.0h0M249.9 112.1h0M255.4 104.9h0M257.3 106.6h0M248.7 112.9h0M271.2 92.1h0M244.7 115.6h0M286.9 71.4h0M285.5 74.6h0M263.6 98.6h0M276.9 82.7h0M248.0 114.1h0M252.3 108.1h0M286.9 72.3h0M262.5 95.5h0M277.5 83.4h0M281.5 80.6h0M275.3 86.9h0M261.4 102.2h0M257.2 104.5h0M239.4 122.6h0M284.4 74.5h0M274.8 86.0h0M239.5 121.6h0M282.7 71.9h0M251.9 111.9h0M283.7 76.7h0M244.4 118.9h0M237.2 122.0h0M284.1 76.6h0M285.8 74.2h0M263.6 95.0h0M287.1 69.2h0M241.0 120.6h0M244.4 116.6h0M290.4 68.1h0M288.6 69.2h0M274.9 88.3h0M254.8 104.8h0M276.0 82.7h0M236.0 122.7h0M255.9 104.5h0M283.7 75.0h0M248.8 113.5h0M243.2 116.6h0M263.5 99.1h0M273.7 89.4h0M253.4 110.7h0M281.8 81.2h0M286.8 74.1h0M248.1 114.1h0M257.6 107.6h0M282.8 78.1h0M264.1 100.8h0M277.8 82.4h0M253.5 105.7h0M281.8 76.3h0M282.8 77.3h0M279.4 81.8h0M285.2 73.9h0M257.9 106.0h0M264.9 95.3h0M281.2 77.8h0M276.5 85.8h0M266.1 95.9h0M238.0 123.1h0M248.2 116.3h0M261.4 102.5h0M278.2 81.1h0M286.7 72.8h0M291.2 64.5h0M257.5 104.8h0M290.1 69.0h0M257.4 102.4h0M246.2 118.4h0M288.0 74.0h0M241.9 120.6h0M262.7 100.9h0M279.4 83.2h0M271.1 90.0h0M283.6 77.6h0M265.7 96.8h0M260.9 99.0h0M254.9 106.2h0M270.9 89.6h0M267.6 95.8h0M264.5 97.7h0M274.1 88.5h0M264.3 97.0h0M274.9 84.1h0M264.0 101.2h0M279.4 85.1h0M247.4 115.5h0M256.2 106.0h0M253.1 111.2h0M285.2 72.5h0M268.5 92.8h0M288.7 67.9h0M267.2 95.3h0M288.4 70.8h0M277.4 82.6h0M286.1 72.2h0M252.7 107.4h0M291.7 65.2h0M252.8 111.6h0M277.9 82.1h0M270.7 92.7h0M255.9 105.2h0M241.8 119.8h0M238.5 121.8h0M236.6 123.5h0M266.9 96.2h0M267.4 91.2h0M242.1 120.8h0M237.1 123.6h0M268.5 93.3h0M278.2 81.9h0M286.3 74.0h0M262.3 100.0h0M277.6 81.7h0M249.3 113.3h0M268.2 94.0h0M254.2 108.3h0M258.5 104.2h0M242.4 118.6h0M274.7 85.5h0M285.5 71.0h0M277.6 82.7h0M243.6 119.9h0M251.2 110.6h0M247.0 113.9h0M291.5 68.2h0M257.8 104.9h0M244.2 118.0h0M281.6 79.2h0M247.9 115.5h0M240.4 121.0h0M256.8 104.4h0M261.7 100.6h0M260.4 100.7h0M253.5 109.3h0M267.2 96.5h0M280.1 77.9h0M255.1 109.4h0M251.2 111.0h0M271.7 92.7h0M259.5 103.8h0M250.5 111.8h0M289.0 71.7h0M247.7 116.5h0M258.4 103.5h0M252.3 110.5h0M281.3 78.0h0M273.2 89.4h0M286.9 70.1h0M251.1 111.0h0M282.2 74.5h0M273.4 88.6h0M242.3 116.1h0M250.0 110.8h0M283.0 77.2h0M260.4 101.4h0M245.0 116.4h0M243.3 117.2h0M252.3 109.4h0M272.3 86.4h0M243.5 118.9h0M244.8 118.6h0M283.8 77.0h0M250.8 111.6h0M274.2 88.8h0M282.7 77.9h0M277.9 84.1h0M271.1 90.9h0M261.2 101.1h0M275.4 84.3h0M256.5 101.9h0M278.8 82.7h0M275.1 85.7h0M242.4 122.5h0M236.4 121.0h0M273.2 89.3h0M262.7 98.0h0M270.0 91.5h0M273.2 86.6h0M262.2 100.5h0M243.4 118.5h0M268.5 94.5h0M252.2 110.5h0M264.0 98.8h0M289.7 69.7h0M246.2 115.8h0M291.6 68.6h0M280.4 79.6h0M257.6 105.4h0M267.7 93.6h0M248.3 113.1h0M236.7 119.2h0M263.7 99.5h0M239.9 119.7h0M245.9 117.4h0M266.9 92.9h0M273.4 89.1h0M289.8 68.7h0M249.6 113.5h0M282.9 75.1h0M268.9 92.8h0M256.5 108.2h0M290.9 70.8h0M277.0 84.2h0M273.5 87.1h0M275.2 89.1h0M289.6 68.9h0M266.2 95.7h0M243.6 118.5h0M238.8 123.1h0M267.8 95.0h0M245.9 115.4h0M288.4 70.3h0M290.7 70.6h0M267.6 96.6h0M270.2 92.0h0M243.3 119.1h0M281.4 78.3h0M259.8 104.1h0M278.2 81.5h0M260.0 102.5h0M280.9 78.5h0M242.8 118.1h0M290.6 68.0h0M274.3 86.7h0" stroke="#111" stroke-width="1.5" stroke-linecap="square" fill="none"/>
<path d="M233.7 88.4h0M261.5 65.9h0M261.5 94.5h0M223.3 110.2h0M240.5 77.8h0M253.7 86.3h0M265.0 62.4h0M257.1 89.6h0M262.4 77.3h0M278.5 67.2h0M277.8 80.8h0M233.2 92.4h0M277.3 68.1h0M233.9 99.8h0M220.2 96.2h0M271.5 80.7h0M279.8 69.1h0M226.8 102.6h0M269.7 79.5h0M225.3 103.1h0M280.4 60.1h0M250.6 99.9h0M252.2 81.5h0M280.1 84.1h0M240.1 83.8h0M255.7 78.8h0M226.7 93.4h0M231.7 103.1h0M255.3 77.7h0M277.2 74.0h0M244.5 73.2h0M220.4 94.7h0M235.3 93.2h0M252.8 81.6h0M224.2 80.7h0M229.5 98.6h0M234.8 83.2h0M275.6 87.9h0M248.2 83.2h0M229.2 113.9h0" stroke="#fff" stroke-width="1.2" stroke-linecap="square" fill="none"/>
</g>
<rect x="44.3" y="191.0" width="87.1" height="73.8" fill="none" stroke="#111" stroke-width="1.5"/>
<path d="M37.7 264.80H44.3M40.5 262.34H44.3M40.5 259.88H44.3M40.5 257.42H44.3M40.5 254.96H44.3M40.5 252.50H44.3M37.7 250.04H44.3M40.5 247.58H44.3M40.5 245.12H44.3M40.5 242.66H44.3M40.5 240.20H44.3M40.5 237.74H44.3M37.7 235.28H44.3M40.5 232.82H44.3M40.5 230.36H44.3M40.5 227.90H44.3M40.5 225.44H44.3M40.5 222.98H44.3M37.7 220.52H44.3M40.5 218.06H44.3M40.5 215.60H44.3M40.5 213.14H44.3M40.5 210.68H44.3M40.5 208.22H44.3M37.7 205.76H44.3M40.5 203.30H44.3M40.5 200.84H44.3M40.5 198.38H44.3M40.5 195.92H44.3M40.5 193.46H44.3M37.7 191.00H44.3" stroke="#111" stroke-width="1.2" fill="none"/>
<path d="M43.7 267.4H132.0" stroke="#111" stroke-width="1.7" fill="none"/>
<path d="M44.30 267.7v6.3M50.85 267.7v3.4M54.69 267.7v3.4M57.41 267.7v3.4M59.52 267.7v3.4M61.24 267.7v3.4M62.70 267.7v3.4M63.96 267.7v3.4M65.08 267.7v3.4M66.08 267.7v6.3M72.63 267.7v3.4M76.46 267.7v3.4M79.18 267.7v3.4M81.30 267.7v3.4M83.02 267.7v3.4M84.48 267.7v3.4M85.74 267.7v3.4M86.85 267.7v3.4M87.85 267.7v6.3M94.40 267.7v3.4M98.24 267.7v3.4M100.96 267.7v3.4M103.07 267.7v3.4M104.79 267.7v3.4M106.25 267.7v3.4M107.51 267.7v3.4M108.63 267.7v3.4M109.62 267.7v6.3M116.18 267.7v3.4M120.01 267.7v3.4M122.73 267.7v3.4M124.85 267.7v3.4M126.57 267.7v3.4M128.03 267.7v3.4M129.29 267.7v3.4M130.40 267.7v3.4M131.40 267.7v6.3" stroke="#111" stroke-width="1.3" fill="none"/>
<text font-size="12" class="r"><tspan x="34.9" y="288.3" textLength="13.1" lengthAdjust="spacingAndGlyphs">10</tspan><tspan x="48.8" y="282.0" textLength="6.6" lengthAdjust="spacingAndGlyphs">0</tspan></text>
<text font-size="12" class="r"><tspan x="119.1" y="288.3" textLength="13.6" lengthAdjust="spacingAndGlyphs">10</tspan><tspan x="132.7" y="281.9" textLength="6.6" lengthAdjust="spacingAndGlyphs">4</tspan></text>
<text x="86.5" y="302.2" font-size="12.4" class="r" textLength="35.2" lengthAdjust="spacingAndGlyphs" text-anchor="middle">FL2-H</text>
<text transform="translate(33.3,198.8) rotate(-90)" font-size="12" class="r" textLength="19.5" lengthAdjust="spacingAndGlyphs">200</text>
<text transform="translate(33.3,266.2) rotate(-90)" font-size="12" class="r" textLength="6.6" lengthAdjust="spacingAndGlyphs">0</text>
<text transform="translate(18.3,248.3) rotate(-90)" font-size="12" class="r" textLength="40.0" lengthAdjust="spacingAndGlyphs">Counts</text>
<clipPath id="h11"><rect x="43.6" y="190.3" width="89.3" height="77.4"/></clipPath><g clip-path="url(#h11)">
<path d="M44.3 191.0 L46.0 191.0 L46.1 210.0 L46.6 222.0 L47.5 232.0 L47.5 246.0 L46.4 256.0 L46.0 264.8 L44.3 264.8Z" fill="#111"/>
<path d="M45.2 249.0 L45.6 247.2 L46.3 245.7 L46.5 244.0 L47.1 242.1 L47.5 240.5 L47.7 239.2 L48.0 237.6 L48.4 236.3 L48.6 234.5 L49.1 232.8 L49.0 231.6 L49.3 229.6 L49.7 228.2 L49.8 226.7 L49.8 225.1 L50.1 223.1 L50.4 222.0 L50.5 220.2 L50.7 218.7 L51.0 216.8 L51.3 215.5 L51.5 214.0 L51.7 212.3 L52.1 210.3 L52.3 208.9 L52.5 207.1 L52.8 205.6 L53.1 203.9 L53.3 202.4 L53.6 200.7 L53.8 199.4 L54.4 197.7 L54.9 195.8 L55.4 194.2 L55.9 192.8 L57.8 193.1 L59.9 192.9 L61.8 192.7 L62.2 194.4 L62.7 196.6 L63.1 198.1 L63.6 200.3 L64.2 202.0 L64.2 203.7 L64.5 205.1 L64.6 207.0 L64.8 208.9 L65.0 210.5 L65.1 212.0 L65.3 213.7 L65.4 215.7 L65.7 217.3 L65.6 219.1 L65.9 220.9 L66.1 222.4 L66.4 224.0 L66.4 225.6 L66.5 227.2 L66.7 229.3 L66.9 230.9 L67.1 232.6 L67.2 234.2 L67.4 235.5 L67.4 237.2 L67.5 239.0 L67.6 240.7 L67.9 242.1 L68.0 243.9 L68.3 245.4 L68.4 247.4 L68.6 249.1 L68.8 250.5 L69.2 252.3 L69.2 254.0 L69.4 255.6 L70.5 257.8 L71.5 259.3 L72.7 261.4 L74.5 261.2 L75.9 261.9 L77.4 262.0 L79.1 262.4 L80.9 262.5 L82.4 262.4 L84.3 263.0 L86.1 263.0 L87.9 262.9 L89.8 263.1 L91.5 263.5 L93.5 263.8 L95.5 263.8 L97.5 264.4" fill="none" stroke="#111" stroke-width="1.6" stroke-linejoin="round" stroke-linecap="round" />
<path d="M45.2 264.7 L47.0 265.0 L48.9 264.9 L50.3 263.8 L52.7 264.1 L55.2 265.2 L57.1 264.9 L58.6 264.5 L60.4 263.9 L62.0 264.0 L63.0 262.5 L63.4 261.2 L64.9 260.0 L65.1 258.1 L65.2 257.0 L65.4 255.6 L66.3 254.2 L66.2 251.4 L67.0 250.2 L66.8 248.6 L67.2 246.6 L67.2 245.6 L67.5 243.1 L67.7 242.0 L67.6 240.5 L67.6 239.3 L67.7 237.2 L67.8 235.6 L68.5 234.4 L68.1 232.3 L68.8 230.1 L68.6 229.1 L69.0 227.1 L69.1 225.7 L69.1 223.9 L69.4 222.3 L69.5 220.1 L69.6 219.2 L69.6 216.4 L69.7 215.6 L70.5 213.1 L70.2 211.3 L70.6 210.0 L71.0 207.9 L71.3 206.6 L71.6 205.4 L71.9 203.3 L72.0 201.7 L71.9 199.9 L72.7 198.8 L72.4 196.8 L73.6 194.1 L74.6 193.2 L77.1 192.8 L78.5 192.8 L79.3 194.9 L79.2 196.0 L80.2 198.3 L80.4 200.5 L80.9 202.3 L81.0 203.2 L81.0 205.8 L81.1 207.0 L81.9 208.0 L81.5 209.9 L81.9 211.6 L82.2 213.8 L82.2 215.5 L82.4 217.1 L82.8 218.4 L82.8 219.7 L83.5 221.6 L83.8 222.6 L83.8 225.0 L83.8 227.0 L84.3 227.8 L84.4 230.1 L84.5 231.2 L85.0 232.9 L85.6 235.0 L86.1 236.9 L86.0 238.0 L86.2 239.6 L86.9 242.0 L87.0 243.1 L87.7 245.6 L87.7 246.2 L88.6 248.6 L88.8 250.6 L89.5 251.6 L90.1 254.6 L90.1 255.7 L91.0 257.4 L92.0 258.8 L93.5 260.2 L94.5 261.2 L96.3 262.1 L97.6 263.8 L99.5 263.9 L101.0 264.8 L102.6 263.8 L104.9 264.8 L106.1 264.0 L108.1 264.9 L109.6 264.5 L111.1 265.1 L112.8 263.9 L114.1 264.6 L116.2 264.7 L117.9 264.2 L119.2 264.2 L120.9 264.2 L122.8 264.1 L124.0 264.9 L125.8 264.4 L127.9 265.2 L129.0 264.1 L130.8 264.7 L132.5 264.7" fill="none" stroke="#111" stroke-width="3.3" stroke-linejoin="round" stroke-linecap="round" />
</g>
<text font-size="14" font-weight="bold"><tspan x="90.8" y="210.8">9</tspan><tspan x="102.5" y="210.8">5</tspan> <tspan x="114.2" y="210.8" textLength="11.4" lengthAdjust="spacingAndGlyphs">%</tspan></text>
<rect x="43.1" y="331.5" width="87.7" height="74.3" fill="none" stroke="#111" stroke-width="1.5"/>
<path d="M36.5 405.80H43.1M39.3 403.32H43.1M39.3 400.85H43.1M39.3 398.37H43.1M39.3 395.89H43.1M39.3 393.42H43.1M36.5 390.94H43.1M39.3 388.46H43.1M39.3 385.99H43.1M39.3 383.51H43.1M39.3 381.03H43.1M39.3 378.56H43.1M36.5 376.08H43.1M39.3 373.60H43.1M39.3 371.13H43.1M39.3 368.65H43.1M39.3 366.17H43.1M39.3 363.70H43.1M36.5 361.22H43.1M39.3 358.74H43.1M39.3 356.27H43.1M39.3 353.79H43.1M39.3 351.31H43.1M39.3 348.84H43.1M36.5 346.36H43.1M39.3 343.88H43.1M39.3 341.41H43.1M39.3 338.93H43.1M39.3 336.45H43.1M39.3 333.98H43.1M36.5 331.50H43.1" stroke="#111" stroke-width="1.2" fill="none"/>
<path d="M42.5 408.4H131.4" stroke="#111" stroke-width="1.7" fill="none"/>
<path d="M43.10 408.7v6.3M49.70 408.7v3.4M53.56 408.7v3.4M56.30 408.7v3.4M58.42 408.7v3.4M60.16 408.7v3.4M61.63 408.7v3.4M62.90 408.7v3.4M64.02 408.7v3.4M65.03 408.7v6.3M71.63 408.7v3.4M75.49 408.7v3.4M78.23 408.7v3.4M80.35 408.7v3.4M82.09 408.7v3.4M83.55 408.7v3.4M84.83 408.7v3.4M85.95 408.7v3.4M86.95 408.7v6.3M93.55 408.7v3.4M97.41 408.7v3.4M100.15 408.7v3.4M102.27 408.7v3.4M104.01 408.7v3.4M105.48 408.7v3.4M106.75 408.7v3.4M107.87 408.7v3.4M108.88 408.7v6.3M115.48 408.7v3.4M119.34 408.7v3.4M122.08 408.7v3.4M124.20 408.7v3.4M125.94 408.7v3.4M127.40 408.7v3.4M128.68 408.7v3.4M129.80 408.7v3.4M130.80 408.7v6.3" stroke="#111" stroke-width="1.3" fill="none"/>
<text font-size="12" class="r"><tspan x="32.4" y="429.3" textLength="13.1" lengthAdjust="spacingAndGlyphs">10</tspan><tspan x="46.3" y="423.0" textLength="6.6" lengthAdjust="spacingAndGlyphs">0</tspan></text>
<text font-size="12" class="r"><tspan x="118.5" y="429.3" textLength="13.6" lengthAdjust="spacingAndGlyphs">10</tspan><tspan x="132.1" y="422.9" textLength="6.6" lengthAdjust="spacingAndGlyphs">4</tspan></text>
<text x="85.7" y="443.2" font-size="12.4" class="r" textLength="35.2" lengthAdjust="spacingAndGlyphs" text-anchor="middle">FL2-H</text>
<text transform="translate(32.1,339.3) rotate(-90)" font-size="12" class="r" textLength="19.5" lengthAdjust="spacingAndGlyphs">200</text>
<text transform="translate(32.1,407.2) rotate(-90)" font-size="12" class="r" textLength="6.6" lengthAdjust="spacingAndGlyphs">0</text>
<text transform="translate(17.1,389.0) rotate(-90)" font-size="12" class="r" textLength="40.0" lengthAdjust="spacingAndGlyphs">Counts</text>
<clipPath id="h21"><rect x="42.4" y="330.8" width="89.9" height="77.9"/></clipPath><g clip-path="url(#h21)">
<path d="M43.1 331.5 L45.3 331.5 L45.9 338.0 L46.9 350.0 L48.3 366.0 L50.8 368.0 L50.9 384.0 L49.5 392.0 L47.4 399.0 L46.2 405.8 L43.1 405.8Z" fill="#111"/>
<path d="M49.6 392.0 L49.6 390.4 L49.8 388.9 L49.6 387.0 L49.5 384.4 L49.6 382.7 L50.2 381.3 L50.0 379.7 L49.9 377.4 L50.0 376.9 L50.2 374.7 L50.2 373.5 L50.6 371.4 L50.6 369.9 L50.8 368.5 L50.9 367.4 L51.2 364.6 L50.9 363.0 L51.0 362.4 L51.4 360.5 L51.2 359.2 L51.7 356.8 L52.0 354.9 L51.8 354.3 L51.9 351.7 L52.4 350.9 L52.7 348.4 L52.7 347.5 L53.1 345.0 L53.2 343.3 L54.1 341.2 L54.1 340.6 L54.7 337.7 L55.1 335.5 L55.5 333.7 L56.9 332.9 L59.8 332.2 L60.5 334.9 L60.9 336.0 L61.2 337.2 L62.0 338.9 L62.3 340.7 L62.8 343.4 L63.3 344.7 L63.2 346.5 L63.7 348.9 L63.6 350.1 L63.8 351.8 L64.6 354.6 L65.0 355.1 L64.8 357.9 L65.2 358.9 L65.6 361.4 L65.4 362.6 L65.7 363.8 L66.2 365.7 L66.6 367.5 L66.4 369.6 L66.6 370.5 L67.3 372.4 L66.9 374.5 L67.1 376.7 L67.3 377.4 L68.2 379.9 L68.4 382.2 L68.5 382.8 L68.6 384.7 L68.4 387.6 L68.9 389.3 L69.4 391.3 L69.9 393.4 L70.2 395.1 L70.8 396.6 L71.2 398.1 L71.9 399.4 L72.4 401.7 L73.6 402.4 L74.7 404.4 L77.3 405.1 L79.1 405.3 L80.5 405.8 L82.6 405.6 L84.2 405.7 L86.1 406.1 L88.3 405.6 L90.1 405.2 L91.6 405.0 L93.1 405.3 L94.7 405.5 L96.2 405.0 L98.0 406.3 L100.0 405.5 L101.2 405.1 L103.0 405.9 L104.9 405.6 L106.6 406.1 L108.2 405.5 L109.6 405.2 L111.3 405.1 L112.8 405.2 L114.5 405.3 L115.8 405.6 L117.7 405.8 L119.1 405.7 L120.9 405.2 L122.6 406.0 L124.1 406.1 L126.1 405.1 L127.3 405.5 L129.2 405.8 L130.8 405.8" fill="none" stroke="#111" stroke-width="3.3" stroke-linejoin="round" stroke-linecap="round" />
</g>
<text font-size="14" font-weight="bold"><tspan x="93.2" y="354.6">1</tspan> <tspan x="106.5" y="354.6" textLength="11.4" lengthAdjust="spacingAndGlyphs">%</tspan></text>
<rect x="42.6" y="471.5" width="87.4" height="74.4" fill="none" stroke="#111" stroke-width="1.5"/>
<path d="M36.0 545.90H42.6M38.8 543.42H42.6M38.8 540.94H42.6M38.8 538.46H42.6M38.8 535.98H42.6M38.8 533.50H42.6M36.0 531.02H42.6M38.8 528.54H42.6M38.8 526.06H42.6M38.8 523.58H42.6M38.8 521.10H42.6M38.8 518.62H42.6M36.0 516.14H42.6M38.8 513.66H42.6M38.8 511.18H42.6M38.8 508.70H42.6M38.8 506.22H42.6M38.8 503.74H42.6M36.0 501.26H42.6M38.8 498.78H42.6M38.8 496.30H42.6M38.8 493.82H42.6M38.8 491.34H42.6M38.8 488.86H42.6M36.0 486.38H42.6M38.8 483.90H42.6M38.8 481.42H42.6M38.8 478.94H42.6M38.8 476.46H42.6M38.8 473.98H42.6M36.0 471.50H42.6" stroke="#111" stroke-width="1.2" fill="none"/>
<path d="M42.0 548.5H130.6" stroke="#111" stroke-width="1.7" fill="none"/>
<path d="M42.60 548.8v6.3M49.18 548.8v3.4M53.03 548.8v3.4M55.76 548.8v3.4M57.87 548.8v3.4M59.60 548.8v3.4M61.07 548.8v3.4M62.33 548.8v3.4M63.45 548.8v3.4M64.45 548.8v6.3M71.03 548.8v3.4M74.88 548.8v3.4M77.61 548.8v3.4M79.72 548.8v3.4M81.45 548.8v3.4M82.92 548.8v3.4M84.18 548.8v3.4M85.30 548.8v3.4M86.30 548.8v6.3M92.88 548.8v3.4M96.73 548.8v3.4M99.46 548.8v3.4M101.57 548.8v3.4M103.30 548.8v3.4M104.77 548.8v3.4M106.03 548.8v3.4M107.15 548.8v3.4M108.15 548.8v6.3M114.73 548.8v3.4M118.58 548.8v3.4M121.31 548.8v3.4M123.42 548.8v3.4M125.15 548.8v3.4M126.62 548.8v3.4M127.88 548.8v3.4M129.00 548.8v3.4M130.00 548.8v6.3" stroke="#111" stroke-width="1.3" fill="none"/>
<text font-size="12" class="r"><tspan x="32.9" y="569.4" textLength="13.1" lengthAdjust="spacingAndGlyphs">10</tspan><tspan x="46.8" y="563.1" textLength="6.6" lengthAdjust="spacingAndGlyphs">0</tspan></text>
<text font-size="12" class="r"><tspan x="117.7" y="569.4" textLength="13.6" lengthAdjust="spacingAndGlyphs">10</tspan><tspan x="131.3" y="563.0" textLength="6.6" lengthAdjust="spacingAndGlyphs">4</tspan></text>
<text x="85.0" y="583.3" font-size="12.4" class="r" textLength="35.2" lengthAdjust="spacingAndGlyphs" text-anchor="middle">FL2-H</text>
<text transform="translate(31.6,479.3) rotate(-90)" font-size="12" class="r" textLength="19.5" lengthAdjust="spacingAndGlyphs">200</text>
<text transform="translate(31.6,547.3) rotate(-90)" font-size="12" class="r" textLength="6.6" lengthAdjust="spacingAndGlyphs">0</text>
<text transform="translate(16.6,529.1) rotate(-90)" font-size="12" class="r" textLength="40.0" lengthAdjust="spacingAndGlyphs">Counts</text>
<clipPath id="h31"><rect x="41.9" y="470.8" width="89.6" height="78.0"/></clipPath><g clip-path="url(#h31)">
<path d="M42.6 471.5 L44.9 471.5 L45.5 495.0 L46.0 515.4 L51.2 516.2 L48.0 530.0 L44.8 543.0 L42.6 546.0Z" fill="#111"/>
<path d="M47.1 514.2 L47.4 512.3 L47.6 510.8 L48.0 509.5 L48.2 507.9 L48.4 505.8 L48.8 504.6 L49.3 502.9 L49.3 501.3 L49.6 499.8 L49.9 497.8 L50.2 496.5 L50.8 494.5 L51.1 493.2 L51.2 491.1 L51.5 489.6 L51.8 487.8 L52.2 486.6 L52.4 484.9 L52.9 483.1 L53.3 481.6 L53.6 479.4 L54.1 477.9 L54.4 476.0 L54.7 474.4 L55.3 472.9 L58.0 472.3" fill="none" stroke="#111" stroke-width="1.6" stroke-linejoin="round" stroke-linecap="round" />
<path d="M62.0 474.0 L62.2 476.0 L62.5 477.2 L62.4 479.2 L62.8 480.8 L63.0 482.3 L63.1 483.7 L63.2 485.9 L63.3 487.1 L63.5 489.0 L63.8 490.6 L64.1 492.4 L64.2 493.9 L64.4 495.2 L64.4 497.2 L64.7 498.7 L65.0 500.4 L65.1 501.9 L65.2 503.7 L65.6 505.0 L65.6 506.7 L65.9 508.4 L66.2 510.0 L66.3 511.8 L66.5 513.5 L66.7 515.0 L66.6 516.4 L67.0 518.1 L67.1 519.5 L67.3 521.3 L67.6 522.7 L67.6 524.8 L67.8 526.2 L68.1 527.6 L68.3 529.7 L68.7 531.0 L68.9 532.9 L69.2 534.1 L69.3 536.3 L70.1 538.1 L70.9 540.1 L71.5 542.1 L73.4 542.1 L75.0 542.4 L76.7 543.1 L78.4 543.7 L80.0 544.0" fill="none" stroke="#111" stroke-width="1.6" stroke-linejoin="round" stroke-linecap="round" />
<path d="M44.6 543.0 L45.1 541.3 L45.5 538.7 L46.0 537.2 L46.5 535.5 L46.8 534.7 L47.4 532.6 L47.3 531.2 L47.9 530.1 L48.2 527.8 L48.3 526.5 L48.9 524.0 L49.0 522.5 L49.6 521.1 L49.7 519.6 L50.5 517.7 L51.0 515.7 L50.8 514.9 L51.6 513.3 L52.2 511.3 L52.5 509.8 L52.6 508.0 L53.2 506.1 L53.1 504.7 L53.6 502.5 L53.9 500.8 L54.0 499.7 L54.4 498.3 L54.7 495.9 L54.8 495.2 L55.2 493.7 L55.5 491.7 L55.9 490.7 L55.7 487.8 L56.0 486.3 L56.2 485.7 L56.5 483.3 L57.3 481.6 L57.1 479.7 L57.5 478.1 L57.7 476.5 L57.7 475.5 L59.3 472.7 L60.7 473.2 L62.9 472.4 L63.3 475.6 L63.8 476.5 L63.8 478.4 L64.0 480.5 L64.6 481.4 L64.7 484.2 L64.4 486.2 L65.1 487.6 L64.7 488.9 L65.4 490.7 L65.1 492.6 L65.5 493.5 L65.7 494.9 L65.9 496.4 L66.5 498.2 L66.2 500.1 L66.5 501.8 L67.0 503.2 L67.3 505.1 L67.4 506.6 L67.0 509.0 L67.2 510.4 L67.9 511.3 L67.7 513.4 L68.2 515.4 L68.1 516.6 L68.5 517.7 L68.8 520.3 L68.5 521.6 L69.0 523.2 L68.7 524.0 L69.1 525.8 L69.6 528.4 L70.0 530.4 L70.2 531.5 L70.2 533.9 L70.9 535.7 L71.8 535.9 L72.3 538.0 L73.2 538.9 L75.1 540.4 L76.9 540.5 L78.9 540.7 L80.4 541.0 L82.1 541.6 L84.1 542.6 L86.0 542.4 L87.8 543.0 L89.5 543.4 L91.7 543.3 L93.5 543.7 L94.9 543.8 L96.8 543.7 L98.6 543.9 L100.1 544.7 L101.9 544.6 L103.5 544.8 L105.1 544.5 L106.9 544.3 L108.1 544.6 L109.8 545.7 L111.7 545.6 L113.5 544.7 L115.4 545.7 L116.6 545.6 L118.6 544.8 L120.2 545.7 L121.8 545.6 L124.0 545.1 L125.8 545.3 L128.0 544.8 L130.0 542.5" fill="none" stroke="#111" stroke-width="2.8" stroke-linejoin="round" stroke-linecap="round" />
</g>
<text font-size="14" font-weight="bold"><tspan x="98.2" y="494.6">9</tspan> <tspan x="112.3" y="494.6" textLength="11.4" lengthAdjust="spacingAndGlyphs">%</tspan></text>
<rect x="42.3" y="614.4" width="90.6" height="72.9" fill="none" stroke="#111" stroke-width="1.5"/>
<path d="M35.7 687.30H42.3M38.5 684.87H42.3M38.5 682.44H42.3M38.5 680.01H42.3M38.5 677.58H42.3M38.5 675.15H42.3M35.7 672.72H42.3M38.5 670.29H42.3M38.5 667.86H42.3M38.5 665.43H42.3M38.5 663.00H42.3M38.5 660.57H42.3M35.7 658.14H42.3M38.5 655.71H42.3M38.5 653.28H42.3M38.5 650.85H42.3M38.5 648.42H42.3M38.5 645.99H42.3M35.7 643.56H42.3M38.5 641.13H42.3M38.5 638.70H42.3M38.5 636.27H42.3M38.5 633.84H42.3M38.5 631.41H42.3M35.7 628.98H42.3M38.5 626.55H42.3M38.5 624.12H42.3M38.5 621.69H42.3M38.5 619.26H42.3M38.5 616.83H42.3M35.7 614.40H42.3" stroke="#111" stroke-width="1.2" fill="none"/>
<path d="M41.7 689.9H133.5" stroke="#111" stroke-width="1.7" fill="none"/>
<path d="M42.30 690.2v6.3M49.12 690.2v3.4M53.11 690.2v3.4M55.94 690.2v3.4M58.13 690.2v3.4M59.93 690.2v3.4M61.44 690.2v3.4M62.75 690.2v3.4M63.91 690.2v3.4M64.95 690.2v6.3M71.77 690.2v3.4M75.76 690.2v3.4M78.59 690.2v3.4M80.78 690.2v3.4M82.58 690.2v3.4M84.09 690.2v3.4M85.40 690.2v3.4M86.56 690.2v3.4M87.60 690.2v6.3M94.42 690.2v3.4M98.41 690.2v3.4M101.24 690.2v3.4M103.43 690.2v3.4M105.23 690.2v3.4M106.74 690.2v3.4M108.05 690.2v3.4M109.21 690.2v3.4M110.25 690.2v6.3M117.07 690.2v3.4M121.06 690.2v3.4M123.89 690.2v3.4M126.08 690.2v3.4M127.88 690.2v3.4M129.39 690.2v3.4M130.70 690.2v3.4M131.86 690.2v3.4M132.90 690.2v6.3" stroke="#111" stroke-width="1.3" fill="none"/>
<text font-size="12" class="r"><tspan x="32.4" y="710.8" textLength="13.1" lengthAdjust="spacingAndGlyphs">10</tspan><tspan x="46.3" y="704.5" textLength="6.6" lengthAdjust="spacingAndGlyphs">0</tspan></text>
<text font-size="12" class="r"><tspan x="120.6" y="710.8" textLength="13.6" lengthAdjust="spacingAndGlyphs">10</tspan><tspan x="134.2" y="704.4" textLength="6.6" lengthAdjust="spacingAndGlyphs">4</tspan></text>
<text x="86.3" y="724.7" font-size="12.4" class="r" textLength="35.2" lengthAdjust="spacingAndGlyphs" text-anchor="middle">FL2-H</text>
<text transform="translate(31.3,622.2) rotate(-90)" font-size="12" class="r" textLength="19.5" lengthAdjust="spacingAndGlyphs">200</text>
<text transform="translate(31.3,688.7) rotate(-90)" font-size="12" class="r" textLength="6.6" lengthAdjust="spacingAndGlyphs">0</text>
<text transform="translate(16.3,671.2) rotate(-90)" font-size="12" class="r" textLength="40.0" lengthAdjust="spacingAndGlyphs">Counts</text>
<clipPath id="h41"><rect x="41.6" y="613.7" width="92.8" height="76.5"/></clipPath><g clip-path="url(#h41)">
<path d="M43.6 673.1 L44.1 671.4 L44.5 669.8 L45.0 668.2 L45.2 666.6 L45.7 665.3 L45.9 663.6 L46.1 661.5 L46.4 660.3 L46.7 658.5 L46.8 657.1 L47.0 655.5 L47.2 653.8 L47.6 652.0 L47.6 650.3 L47.8 648.6 L48.1 647.2 L48.4 645.7 L48.8 643.9 L49.0 641.9 L49.2 640.0 L49.2 638.3 L49.6 637.0 L49.7 635.1 L50.2 633.6 L50.4 631.6 L50.5 630.0 L51.1 628.5 L51.4 626.3 L51.6 624.5 L52.1 623.1 L52.4 621.4 L52.9 619.8 L53.3 618.0 L54.2 616.4 L55.3 614.6 L57.6 615.0 L59.9 614.8 L60.3 616.8 L60.9 618.5 L61.5 620.0 L62.0 621.9 L62.2 623.9 L62.3 625.3 L62.6 627.3 L62.8 629.0 L63.0 630.5 L63.1 631.9 L63.3 633.7 L63.6 635.7 L63.8 637.5 L63.8 639.0 L64.1 640.8 L64.4 642.5 L64.3 643.9 L64.5 645.5 L64.6 647.6 L64.9 649.1 L65.0 650.6 L65.1 652.3 L65.3 654.3 L65.5 655.5 L65.4 657.5 L65.8 659.1 L65.9 660.5 L65.9 662.6 L66.3 664.0 L66.5 665.8 L66.8 667.4 L67.0 669.3 L67.1 670.9 L67.5 672.1 L67.5 674.0 L67.9 675.7 L68.5 677.2 L68.9 678.7 L69.4 680.7 L69.9 682.5 L70.6 683.6 L72.2 684.5 L73.8 685.5 L75.3 686.6 L77.1 686.3 L78.5 686.6 L80.4 686.5 L82.0 686.7 L83.4 686.8 L85.0 686.7 L86.6 686.7 L88.5 686.5 L89.8 686.8 L91.7 686.8 L93.3 686.7 L94.9 686.7 L96.5 686.8 L98.1 686.6 L99.6 687.2 L101.3 687.0 L102.8 687.3 L104.4 686.8 L105.9 687.2 L107.8 686.9 L109.4 687.3 L110.9 687.1 L112.7 686.9 L114.5 686.9 L115.9 687.3 L117.6 687.4 L119.3 687.0 L120.9 687.5 L122.5 687.1 L124.4 687.0 L125.9 687.6 L127.7 687.1 L129.2 687.3" fill="none" stroke="#111" stroke-width="1.6" stroke-linejoin="round" stroke-linecap="round" />
<path d="M43.9 614.8 L43.6 616.4 L44.0 618.5 L43.7 619.5 L43.9 621.0 L44.0 622.9 L43.8 624.9 L43.7 626.2 L44.1 627.5 L43.6 628.6 L44.1 631.4 L44.0 631.9 L43.7 634.8 L43.9 635.7 L44.2 638.0 L43.7 639.3 L44.1 641.1 L44.2 642.6 L43.6 643.5 L43.7 645.6 L43.9 647.7 L43.7 648.1 L43.6 649.8 L44.2 652.0 L43.7 653.6 L44.0 654.9 L43.5 657.0 L43.9 657.7 L43.9 659.4 L43.8 661.9 L44.0 662.9 L44.1 664.4 L44.0 666.1 L44.0 668.1 L44.0 670.1 L44.1 671.9 L43.7 673.5 L44.0 674.0 L43.5 675.7 L43.9 677.9 L44.2 679.8 L44.2 681.4 L44.1 683.2 L44.1 683.6 L43.9 685.7 L43.9 687.3" fill="none" stroke="#111" stroke-width="3.3" stroke-linejoin="round" stroke-linecap="round" />
<path d="M43.1 687.6 L44.8 687.3 L46.7 687.2 L48.0 687.0 L50.0 688.0 L51.6 687.0 L52.8 687.9 L54.9 686.8 L56.2 686.6 L58.1 687.7 L59.8 687.6 L61.1 686.9 L62.9 687.0 L64.8 687.0 L66.1 687.6 L67.6 686.7 L69.1 687.5 L71.1 686.8 L73.0 687.4 L74.3 685.3 L76.5 685.5 L78.1 684.2 L78.8 682.5 L79.8 680.6 L80.8 679.9 L82.2 678.4 L83.1 676.3 L83.5 674.8 L84.5 674.0 L85.1 672.6 L86.0 670.0 L86.5 669.1 L86.8 666.9 L87.5 665.4 L88.1 663.1 L88.4 662.6 L89.2 660.9 L90.0 658.7 L90.5 656.8 L90.4 655.7 L90.7 653.2 L91.2 651.7 L91.9 650.8 L92.0 649.1 L92.0 646.5 L92.4 645.3 L92.6 642.9 L93.0 641.2 L93.4 639.5 L93.8 638.3 L94.3 637.2 L94.4 634.9 L95.2 632.7 L95.2 631.1 L95.2 630.5 L96.2 628.3 L96.9 627.4 L97.2 625.1 L97.4 624.2 L98.5 621.4 L99.1 620.2 L100.4 619.0 L100.7 618.4 L101.7 618.7 L102.4 620.1 L103.6 621.6 L104.1 624.2 L104.1 624.6 L104.8 627.2 L105.3 628.1 L105.5 630.0 L105.5 631.9 L106.3 634.1 L106.6 635.0 L106.6 636.6 L106.8 639.2 L107.1 641.0 L108.0 642.0 L108.1 644.4 L108.5 645.9 L108.9 646.5 L109.2 649.1 L109.3 649.9 L109.6 652.3 L110.0 654.0 L110.3 655.9 L111.0 656.6 L111.1 659.4 L111.1 660.6 L111.9 662.6 L112.1 663.9 L112.3 665.9 L113.3 668.1 L113.7 669.5 L113.8 671.0 L114.2 672.8 L114.8 674.6 L116.0 676.0 L116.7 677.9 L117.3 680.1 L117.5 680.8 L118.2 682.0 L120.0 683.2 L121.2 685.8 L122.4 686.8 L123.9 687.0 L125.9 686.9 L127.6 687.0 L129.0 686.3 L130.8 686.9 L132.3 687.2 L133.8 687.3" fill="none" stroke="#111" stroke-width="3.3" stroke-linejoin="round" stroke-linecap="round" />
</g>
<text font-size="14" font-weight="bold"><tspan x="60.5" y="633.6">9</tspan><tspan x="71.7" y="633.6">8</tspan> <tspan x="83.2" y="633.6" textLength="11.4" lengthAdjust="spacingAndGlyphs">%</tspan></text>
<rect x="41.3" y="755.0" width="87.0" height="73.5" fill="none" stroke="#111" stroke-width="1.5"/>
<path d="M34.7 828.50H41.3M37.5 826.05H41.3M37.5 823.60H41.3M37.5 821.15H41.3M37.5 818.70H41.3M37.5 816.25H41.3M34.7 813.80H41.3M37.5 811.35H41.3M37.5 808.90H41.3M37.5 806.45H41.3M37.5 804.00H41.3M37.5 801.55H41.3M34.7 799.10H41.3M37.5 796.65H41.3M37.5 794.20H41.3M37.5 791.75H41.3M37.5 789.30H41.3M37.5 786.85H41.3M34.7 784.40H41.3M37.5 781.95H41.3M37.5 779.50H41.3M37.5 777.05H41.3M37.5 774.60H41.3M37.5 772.15H41.3M34.7 769.70H41.3M37.5 767.25H41.3M37.5 764.80H41.3M37.5 762.35H41.3M37.5 759.90H41.3M37.5 757.45H41.3M34.7 755.00H41.3" stroke="#111" stroke-width="1.2" fill="none"/>
<path d="M40.7 831.1H128.9" stroke="#111" stroke-width="1.7" fill="none"/>
<path d="M41.30 831.4v6.3M47.85 831.4v3.4M51.68 831.4v3.4M54.39 831.4v3.4M56.50 831.4v3.4M58.22 831.4v3.4M59.68 831.4v3.4M60.94 831.4v3.4M62.05 831.4v3.4M63.05 831.4v6.3M69.60 831.4v3.4M73.43 831.4v3.4M76.14 831.4v3.4M78.25 831.4v3.4M79.97 831.4v3.4M81.43 831.4v3.4M82.69 831.4v3.4M83.80 831.4v3.4M84.80 831.4v6.3M91.35 831.4v3.4M95.18 831.4v3.4M97.89 831.4v3.4M100.00 831.4v3.4M101.72 831.4v3.4M103.18 831.4v3.4M104.44 831.4v3.4M105.55 831.4v3.4M106.55 831.4v6.3M113.10 831.4v3.4M116.93 831.4v3.4M119.64 831.4v3.4M121.75 831.4v3.4M123.47 831.4v3.4M124.93 831.4v3.4M126.19 831.4v3.4M127.30 831.4v3.4M128.30 831.4v6.3" stroke="#111" stroke-width="1.3" fill="none"/>
<text font-size="12" class="r"><tspan x="32.4" y="852.0" textLength="13.1" lengthAdjust="spacingAndGlyphs">10</tspan><tspan x="46.3" y="845.7" textLength="6.6" lengthAdjust="spacingAndGlyphs">0</tspan></text>
<text font-size="12" class="r"><tspan x="116.0" y="852.0" textLength="13.6" lengthAdjust="spacingAndGlyphs">10</tspan><tspan x="129.6" y="845.6" textLength="6.6" lengthAdjust="spacingAndGlyphs">4</tspan></text>
<text x="83.5" y="865.9" font-size="12.4" class="r" textLength="35.2" lengthAdjust="spacingAndGlyphs" text-anchor="middle">FL2-H</text>
<text transform="translate(30.3,762.8) rotate(-90)" font-size="12" class="r" textLength="19.5" lengthAdjust="spacingAndGlyphs">200</text>
<text transform="translate(30.3,829.9) rotate(-90)" font-size="12" class="r" textLength="6.6" lengthAdjust="spacingAndGlyphs">0</text>
<text transform="translate(15.3,812.1) rotate(-90)" font-size="12" class="r" textLength="40.0" lengthAdjust="spacingAndGlyphs">Counts</text>
<clipPath id="h51"><rect x="40.6" y="754.3" width="89.2" height="77.1"/></clipPath><g clip-path="url(#h51)">
<path d="M42.5 815.8 L42.7 814.1 L43.1 812.5 L43.1 810.7 L43.6 808.8 L43.6 807.5 L44.0 805.8 L44.1 804.0 L44.3 802.1 L44.6 800.8 L44.8 798.6 L44.8 797.3 L45.1 795.3 L45.2 794.0 L45.4 791.8 L45.5 790.1 L45.9 788.6 L46.0 786.6 L46.1 785.4 L46.4 783.4 L46.5 782.0 L46.7 779.9 L46.9 778.3 L47.4 776.6 L47.6 774.8 L47.8 773.0 L48.0 771.4 L48.2 769.9 L48.4 768.0 L48.7 766.6 L48.9 764.5 L49.6 762.9 L50.1 761.7 L50.6 759.8 L51.0 758.3 L51.7 756.6 L53.7 756.6 L55.8 756.8 L58.0 756.6 L58.2 758.0 L58.7 759.9 L59.1 761.6 L59.5 763.0 L59.8 764.5 L60.0 766.3 L60.2 767.8 L60.2 769.8 L60.5 771.3 L60.9 772.9 L61.1 775.1 L61.0 776.8 L61.4 778.2 L61.6 780.3 L61.6 781.6 L61.8 783.7 L62.0 784.9 L62.1 787.0 L62.3 788.7 L62.4 790.1 L62.6 791.6 L62.8 793.4 L63.0 795.0 L63.4 796.8 L63.3 798.2 L63.6 799.9 L63.6 801.4 L63.9 803.4 L64.1 804.8 L64.2 806.6 L64.7 808.1 L64.7 809.8 L65.0 811.4 L65.2 813.3 L65.5 815.1 L65.8 816.7 L65.9 818.6 L66.6 819.9 L67.2 822.1 L68.0 823.6 L68.5 825.4 L70.5 826.4 L72.8 827.3 L74.3 827.8 L75.9 827.5 L77.8 827.9 L79.3 827.9 L81.1 828.5 L82.9 828.1 L84.6 828.5 L86.1 828.7 L87.7 828.8 L89.6 828.6 L91.1 828.9 L93.0 828.5 L94.7 828.8 L96.2 828.9 L98.0 828.7 L99.6 828.6 L101.3 828.6 L102.9 828.9 L104.8 828.9 L106.5 828.9 L108.1 828.9 L109.6 828.5 L111.3 828.9 L113.1 828.8" fill="none" stroke="#111" stroke-width="1.6" stroke-linejoin="round" stroke-linecap="round" />
<path d="M42.5 755.7 L42.9 757.0 L42.9 759.4 L42.3 760.7 L42.4 762.6 L42.4 763.7 L42.6 765.2 L42.7 767.3 L42.2 768.8 L42.5 770.9 L42.9 771.4 L42.7 773.8 L42.5 774.7 L42.8 777.0 L42.6 779.1 L42.3 779.9 L42.2 781.4 L42.9 783.2 L42.8 785.5 L42.6 787.0 L42.3 787.6 L42.3 789.3 L42.3 790.8 L42.2 792.5 L42.6 794.4 L42.9 796.5 L42.8 798.3 L42.8 800.2 L42.5 800.8 L42.2 803.5 L42.4 805.1 L42.7 806.5 L42.2 808.3 L42.2 809.7 L42.2 811.6 L42.2 812.1 L42.5 813.7 L42.3 815.6 L42.2 817.5 L42.7 819.1 L42.6 820.3 L42.5 822.5 L42.8 824.0 L42.9 825.4 L42.6 827.5 L42.5 828.8" fill="none" stroke="#111" stroke-width="3.3" stroke-linejoin="round" stroke-linecap="round" />
<path d="M42.5 828.8 L44.0 829.3 L46.2 828.2 L47.8 828.6 L49.1 828.4 L50.8 829.3 L53.0 829.1 L54.3 829.0 L56.0 828.7 L57.5 829.3 L58.9 827.8 L60.0 825.9 L61.6 825.5 L61.9 823.5 L62.4 822.6 L63.0 820.9 L63.1 818.8 L63.9 817.0 L64.1 815.4 L64.4 813.7 L65.0 813.0 L65.0 811.1 L65.6 809.6 L65.9 807.0 L66.2 805.3 L66.4 803.4 L66.4 802.9 L67.3 800.7 L67.9 798.4 L68.5 797.8 L68.6 796.3 L69.5 794.3 L71.2 791.5 L72.5 793.4 L74.2 795.7 L75.7 796.5 L76.9 798.5 L77.6 799.9 L78.3 801.3 L79.3 802.4 L80.4 803.5 L81.5 805.0 L82.4 807.8 L83.7 808.7 L85.0 810.6 L86.5 809.3 L87.2 807.8 L88.1 806.4 L89.0 805.0 L90.4 803.0 L91.4 802.1 L92.8 801.7 L93.9 800.7 L96.4 800.0 L98.0 798.9 L100.6 799.1 L101.8 800.9 L102.8 802.7 L103.8 805.5 L105.2 806.7 L106.4 808.2 L106.6 808.7 L107.3 811.6 L107.9 812.6 L108.3 814.2 L109.2 815.9 L109.6 817.4 L110.8 818.8 L111.4 821.4 L112.4 822.2 L113.8 824.3 L114.6 824.6 L116.1 826.8 L117.7 827.5 L119.5 827.4 L120.9 829.2 L122.8 828.6 L124.9 828.2 L126.2 828.0 L128.8 826.9 L131.1 826.5" fill="none" stroke="#111" stroke-width="3.3" stroke-linejoin="round" stroke-linecap="round" />
</g>
<text font-size="14" font-weight="bold"><tspan x="90.0" y="778.0">9</tspan><tspan x="101.7" y="778.0">0</tspan> <tspan x="113.4" y="778.0" textLength="11.4" lengthAdjust="spacingAndGlyphs">%</tspan></text>
<rect x="40.9" y="893.6" width="87.1" height="74.2" fill="none" stroke="#111" stroke-width="1.5"/>
<path d="M34.3 967.80H40.9M37.1 965.33H40.9M37.1 962.85H40.9M37.1 960.38H40.9M37.1 957.91H40.9M37.1 955.43H40.9M34.3 952.96H40.9M37.1 950.49H40.9M37.1 948.01H40.9M37.1 945.54H40.9M37.1 943.07H40.9M37.1 940.59H40.9M34.3 938.12H40.9M37.1 935.65H40.9M37.1 933.17H40.9M37.1 930.70H40.9M37.1 928.23H40.9M37.1 925.75H40.9M34.3 923.28H40.9M37.1 920.81H40.9M37.1 918.33H40.9M37.1 915.86H40.9M37.1 913.39H40.9M37.1 910.91H40.9M34.3 908.44H40.9M37.1 905.97H40.9M37.1 903.49H40.9M37.1 901.02H40.9M37.1 898.55H40.9M37.1 896.07H40.9M34.3 893.60H40.9" stroke="#111" stroke-width="1.2" fill="none"/>
<path d="M40.3 970.4H128.6" stroke="#111" stroke-width="1.7" fill="none"/>
<path d="M40.90 970.7v6.3M47.45 970.7v3.4M51.29 970.7v3.4M54.01 970.7v3.4M56.12 970.7v3.4M57.84 970.7v3.4M59.30 970.7v3.4M60.56 970.7v3.4M61.68 970.7v3.4M62.67 970.7v6.3M69.23 970.7v3.4M73.06 970.7v3.4M75.78 970.7v3.4M77.90 970.7v3.4M79.62 970.7v3.4M81.08 970.7v3.4M82.34 970.7v3.4M83.45 970.7v3.4M84.45 970.7v6.3M91.00 970.7v3.4M94.84 970.7v3.4M97.56 970.7v3.4M99.67 970.7v3.4M101.39 970.7v3.4M102.85 970.7v3.4M104.11 970.7v3.4M105.23 970.7v3.4M106.22 970.7v6.3M112.78 970.7v3.4M116.61 970.7v3.4M119.33 970.7v3.4M121.45 970.7v3.4M123.17 970.7v3.4M124.63 970.7v3.4M125.89 970.7v3.4M127.00 970.7v3.4M128.00 970.7v6.3" stroke="#111" stroke-width="1.3" fill="none"/>
<text font-size="12" class="r"><tspan x="32.4" y="991.3" textLength="13.1" lengthAdjust="spacingAndGlyphs">10</tspan><tspan x="46.3" y="985.0" textLength="6.6" lengthAdjust="spacingAndGlyphs">0</tspan></text>
<text font-size="12" class="r"><tspan x="115.7" y="991.3" textLength="13.6" lengthAdjust="spacingAndGlyphs">10</tspan><tspan x="129.3" y="984.9" textLength="6.6" lengthAdjust="spacingAndGlyphs">4</tspan></text>
<text x="83.2" y="1005.2" font-size="12.4" class="r" textLength="35.2" lengthAdjust="spacingAndGlyphs" text-anchor="middle">FL2-H</text>
<text transform="translate(29.9,901.4) rotate(-90)" font-size="12" class="r" textLength="19.5" lengthAdjust="spacingAndGlyphs">200</text>
<text transform="translate(29.9,969.2) rotate(-90)" font-size="12" class="r" textLength="6.6" lengthAdjust="spacingAndGlyphs">0</text>
<text transform="translate(14.9,951.1) rotate(-90)" font-size="12" class="r" textLength="40.0" lengthAdjust="spacingAndGlyphs">Counts</text>
<clipPath id="h61"><rect x="40.2" y="892.9" width="89.3" height="77.8"/></clipPath><g clip-path="url(#h61)">
<path d="M40.9 893.8 L43.7 893.8 L44.2 915.0 L44.8 930.8 L49.4 932.0 L46.5 946.0 L43.7 959.6 L40.9 968.3Z" fill="#111"/>
<path d="M43.4 961.0 L43.7 959.7 L43.8 957.8 L44.2 956.3 L44.6 954.5 L45.2 952.5 L45.4 951.4 L46.1 950.2 L46.4 948.0 L47.1 946.9 L47.1 944.6 L47.7 942.7 L47.9 940.7 L47.7 939.1 L48.3 937.5 L48.3 935.4 L48.5 934.8 L49.3 932.9 L49.5 930.9 L49.6 929.5 L49.8 928.1 L49.9 925.9 L50.5 924.5 L50.7 923.1 L50.7 921.1 L50.7 919.4 L51.5 917.4 L51.9 916.8 L52.1 914.2 L52.6 913.7 L52.6 910.8 L52.9 909.3 L53.3 907.4 L53.6 906.1 L54.4 905.4 L54.3 903.6 L55.5 901.8 L55.8 899.0 L56.1 897.0 L56.7 895.1 L58.9 894.8 L60.7 895.3 L60.9 897.6 L61.6 898.4 L61.8 901.1 L62.1 901.8 L62.1 904.1 L62.5 905.3 L62.3 907.0 L62.4 909.3 L63.0 910.6 L63.1 912.9 L62.9 914.5 L63.2 915.7 L63.5 917.1 L63.6 919.2 L63.8 920.5 L63.7 922.3 L64.2 923.7 L64.1 926.5 L64.2 927.2 L64.7 929.7 L65.1 931.3 L65.1 932.9 L65.0 935.1 L65.7 937.2 L65.5 938.2 L65.7 940.3 L66.2 941.3 L66.0 944.1 L66.5 944.8 L66.5 946.9 L67.0 949.1 L67.3 949.9 L67.0 952.3 L67.6 953.3 L67.7 956.0 L68.1 957.8 L68.5 958.7 L69.1 960.6 L69.5 962.1 L70.1 964.0 L70.6 965.2 L72.8 965.7 L74.4 966.4 L75.7 966.2 L78.0 966.5 L79.1 966.1 L80.7 965.8 L82.6 965.9 L84.3 965.9 L85.5 966.5 L87.1 966.0 L89.3 967.3 L90.7 967.0 L92.0 966.1 L93.7 966.7 L95.7 966.7 L97.0 966.2 L98.5 966.7 L100.2 966.8 L102.1 966.6 L103.9 967.0 L105.6 966.9 L106.9 967.7 L108.4 967.3 L110.3 966.7 L111.7 966.9 L113.1 966.8 L114.9 967.6 L117.0 966.5 L118.3 967.4 L119.7 967.7 L121.4 966.7 L122.8 967.6 L125.1 967.4 L126.7 967.0 L128.0 967.4" fill="none" stroke="#111" stroke-width="3.3" stroke-linejoin="round" stroke-linecap="round" />
<path d="M47.6 932.0 L47.7 930.7 L48.0 928.8 L48.5 926.6 L48.8 925.2 L49.3 923.8 L49.4 921.3 L49.6 919.4 L50.1 918.2 L49.9 916.8 L50.7 915.3 L51.3 913.0 L51.1 910.8 L51.4 909.2 L52.2 907.3 L52.4 906.6 L52.6 904.8 L53.3 903.1 L53.5 901.3 L54.1 898.6 L55.3 897.8 L55.9 894.8 L57.0 895.0" fill="none" stroke="#111" stroke-width="3.3" stroke-linejoin="round" stroke-linecap="round" />
<path d="M48.6 931.0 L50.6 918.0 L54.0 903.0 L56.2 896.0" fill="none" stroke="#fff" stroke-width="0.9" stroke-dasharray="2.2 2"/>
</g>
<text font-size="14" font-weight="bold"><tspan x="96.7" y="915.2">1</tspan> <tspan x="110.0" y="915.2" textLength="11.4" lengthAdjust="spacingAndGlyphs">%</tspan></text>
<rect x="40.5" y="1034.4" width="87.0" height="74.3" fill="none" stroke="#111" stroke-width="1.5"/>
<path d="M33.9 1108.70H40.5M36.7 1106.22H40.5M36.7 1103.75H40.5M36.7 1101.27H40.5M36.7 1098.79H40.5M36.7 1096.32H40.5M33.9 1093.84H40.5M36.7 1091.36H40.5M36.7 1088.89H40.5M36.7 1086.41H40.5M36.7 1083.93H40.5M36.7 1081.46H40.5M33.9 1078.98H40.5M36.7 1076.50H40.5M36.7 1074.03H40.5M36.7 1071.55H40.5M36.7 1069.07H40.5M36.7 1066.60H40.5M33.9 1064.12H40.5M36.7 1061.64H40.5M36.7 1059.17H40.5M36.7 1056.69H40.5M36.7 1054.21H40.5M36.7 1051.74H40.5M33.9 1049.26H40.5M36.7 1046.78H40.5M36.7 1044.31H40.5M36.7 1041.83H40.5M36.7 1039.35H40.5M36.7 1036.88H40.5M33.9 1034.40H40.5" stroke="#111" stroke-width="1.2" fill="none"/>
<path d="M39.9 1111.3H128.1" stroke="#111" stroke-width="1.7" fill="none"/>
<path d="M40.50 1111.6v6.3M47.05 1111.6v3.4M50.88 1111.6v3.4M53.59 1111.6v3.4M55.70 1111.6v3.4M57.42 1111.6v3.4M58.88 1111.6v3.4M60.14 1111.6v3.4M61.25 1111.6v3.4M62.25 1111.6v6.3M68.80 1111.6v3.4M72.63 1111.6v3.4M75.34 1111.6v3.4M77.45 1111.6v3.4M79.17 1111.6v3.4M80.63 1111.6v3.4M81.89 1111.6v3.4M83.00 1111.6v3.4M84.00 1111.6v6.3M90.55 1111.6v3.4M94.38 1111.6v3.4M97.09 1111.6v3.4M99.20 1111.6v3.4M100.92 1111.6v3.4M102.38 1111.6v3.4M103.64 1111.6v3.4M104.75 1111.6v3.4M105.75 1111.6v6.3M112.30 1111.6v3.4M116.13 1111.6v3.4M118.84 1111.6v3.4M120.95 1111.6v3.4M122.67 1111.6v3.4M124.13 1111.6v3.4M125.39 1111.6v3.4M126.50 1111.6v3.4M127.50 1111.6v6.3" stroke="#111" stroke-width="1.3" fill="none"/>
<text font-size="12" class="r"><tspan x="31.8" y="1132.2" textLength="13.1" lengthAdjust="spacingAndGlyphs">10</tspan><tspan x="45.7" y="1125.9" textLength="6.6" lengthAdjust="spacingAndGlyphs">0</tspan></text>
<text font-size="12" class="r"><tspan x="115.2" y="1132.2" textLength="13.6" lengthAdjust="spacingAndGlyphs">10</tspan><tspan x="128.8" y="1125.8" textLength="6.6" lengthAdjust="spacingAndGlyphs">4</tspan></text>
<text x="82.7" y="1146.1" font-size="12.4" class="r" textLength="35.2" lengthAdjust="spacingAndGlyphs" text-anchor="middle">FL2-H</text>
<text transform="translate(29.5,1042.2) rotate(-90)" font-size="12" class="r" textLength="19.5" lengthAdjust="spacingAndGlyphs">200</text>
<text transform="translate(29.5,1110.1) rotate(-90)" font-size="12" class="r" textLength="6.6" lengthAdjust="spacingAndGlyphs">0</text>
<text transform="translate(14.5,1092.0) rotate(-90)" font-size="12" class="r" textLength="40.0" lengthAdjust="spacingAndGlyphs">Counts</text>
<clipPath id="h71"><rect x="39.8" y="1033.7" width="89.2" height="77.9"/></clipPath><g clip-path="url(#h71)">
<path d="M40.5 1034.4 L43.1 1034.4 L43.5 1060.0 L44.2 1085.0 L47.7 1088.0 L45.4 1096.0 L43.1 1103.0 L40.5 1108.8Z" fill="#111"/>
<path d="M44.8 1085.8 L44.9 1084.0 L45.1 1082.3 L45.4 1081.0 L45.7 1079.4 L45.8 1077.5 L45.9 1076.0 L46.2 1074.2 L46.4 1072.4 L46.4 1071.1 L46.6 1069.5 L47.0 1067.5 L47.0 1066.0 L47.3 1064.1 L47.6 1062.4 L47.9 1060.8 L48.2 1059.5 L48.3 1057.9 L48.7 1056.1 L48.9 1054.2 L49.0 1052.8 L49.4 1051.2 L49.6 1049.5 L50.1 1047.9 L50.4 1046.0 L50.9 1044.4 L51.0 1043.1 L51.5 1041.2 L51.6 1039.6 L52.7 1038.0 L53.4 1036.0 L55.3 1035.9 L57.0 1035.6" fill="none" stroke="#111" stroke-width="1.6" stroke-linejoin="round" stroke-linecap="round" />
<path d="M42.8 1104.0 L43.3 1103.2 L43.4 1101.1 L44.0 1099.2 L44.2 1097.3 L44.4 1095.4 L44.6 1093.8 L45.0 1092.2 L45.4 1091.4 L46.0 1088.6 L46.2 1088.0 L46.9 1085.6 L46.9 1084.1 L47.5 1082.3 L48.3 1081.4 L48.6 1079.5 L49.0 1078.2 L49.2 1075.8 L49.4 1074.3 L49.7 1072.1 L50.5 1070.2 L50.5 1069.6 L51.1 1067.4 L51.0 1064.9 L51.4 1063.3 L51.8 1061.6 L52.0 1061.2 L52.9 1059.2 L53.0 1057.1 L53.1 1055.6 L53.6 1053.8 L53.6 1052.0 L54.1 1051.5 L54.4 1048.8 L54.4 1047.9 L55.0 1045.8 L55.0 1043.7 L55.6 1042.6 L56.3 1041.2 L56.7 1038.6 L57.1 1036.9 L57.8 1035.4 L60.8 1035.7 L61.5 1036.9 L61.6 1039.2 L61.9 1041.4 L61.8 1041.9 L62.3 1043.7 L62.6 1045.9 L62.6 1047.8 L62.9 1049.4 L62.8 1051.4 L62.9 1052.6 L63.4 1054.4 L63.6 1056.7 L63.8 1058.2 L63.7 1059.7 L64.1 1062.1 L64.4 1063.5 L64.5 1064.4 L64.4 1067.4 L64.8 1068.8 L65.1 1070.0 L64.7 1072.2 L65.1 1073.5 L65.1 1074.9 L65.7 1077.6 L65.4 1078.8 L65.8 1080.5 L65.9 1082.6 L66.2 1083.9 L66.5 1085.6 L66.8 1086.7 L66.6 1087.9 L67.1 1090.6 L67.5 1091.9 L67.4 1093.3 L68.0 1095.5 L68.4 1096.7 L68.6 1097.8 L69.2 1100.2 L70.1 1102.2 L70.7 1103.4 L71.3 1104.5 L72.7 1106.0 L74.3 1105.8 L76.2 1107.0 L77.8 1107.8 L79.3 1106.8 L81.4 1107.0 L83.5 1108.4 L84.8 1108.5 L86.6 1108.1 L88.2 1108.6 L89.8 1108.7 L91.4 1107.7 L93.5 1107.5 L94.6 1108.3 L96.8 1108.7 L98.2 1107.5 L99.4 1108.6 L101.6 1108.9 L102.9 1108.3 L104.5 1107.7 L106.4 1108.6 L107.6 1108.4 L109.8 1108.7 L111.0 1107.7 L112.6 1107.9 L114.3 1108.4 L116.0 1107.9 L117.6 1108.1 L119.6 1108.9 L121.3 1108.4 L122.8 1108.1 L124.1 1108.4 L125.7 1108.2 L127.5 1108.6" fill="none" stroke="#111" stroke-width="3.3" stroke-linejoin="round" stroke-linecap="round" />
<path d="M60.8 1038.0 L61.2 1039.6 L61.2 1040.9 L61.4 1043.3 L61.6 1044.3 L61.8 1046.8 L61.4 1047.8 L61.7 1050.3 L62.0 1050.8 L62.1 1053.3 L61.9 1054.9 L62.5 1056.7 L62.3 1058.7 L62.7 1060.0 L62.7 1060.9 L62.8 1063.4 L63.6 1065.3 L63.1 1066.1 L64.0 1068.4 L64.1 1070.6 L64.2 1072.5 L64.1 1073.4 L64.0 1076.0 L64.2 1077.5 L64.4 1078.8 L65.2 1080.4 L65.1 1082.0 L65.0 1084.3 L65.6 1086.0 L65.8 1086.6 L66.0 1088.7 L65.9 1090.4 L66.6 1091.3 L66.6 1093.5 L66.7 1095.5 L66.8 1096.2 L67.0 1098.3 L67.9 1100.2 L68.5 1101.6 L68.6 1103.8 L69.5 1105.4 L70.6 1106.1 L72.6 1106.7 L74.0 1107.6" fill="none" stroke="#111" stroke-width="3.3" stroke-linejoin="round" stroke-linecap="round" />
<path d="M61.6 1046.0 L63.0 1060.0 L64.6 1076.0 L66.2 1090.0 L68.0 1100.0 L70.0 1105.0" fill="none" stroke="#fff" stroke-width="0.9" stroke-dasharray="2.2 2"/>
</g>
<text font-size="14" font-weight="bold"><tspan x="89.7" y="1058.0">6</tspan> <tspan x="103.6" y="1058.0" textLength="11.4" lengthAdjust="spacingAndGlyphs">%</tspan></text>
<rect x="203.6" y="191.5" width="87.0" height="73.7" fill="none" stroke="#111" stroke-width="1.5"/>
<path d="M197.0 265.20H203.6M199.8 262.74H203.6M199.8 260.29H203.6M199.8 257.83H203.6M199.8 255.37H203.6M199.8 252.92H203.6M197.0 250.46H203.6M199.8 248.00H203.6M199.8 245.55H203.6M199.8 243.09H203.6M199.8 240.63H203.6M199.8 238.18H203.6M197.0 235.72H203.6M199.8 233.26H203.6M199.8 230.81H203.6M199.8 228.35H203.6M199.8 225.89H203.6M199.8 223.44H203.6M197.0 220.98H203.6M199.8 218.52H203.6M199.8 216.07H203.6M199.8 213.61H203.6M199.8 211.15H203.6M199.8 208.70H203.6M197.0 206.24H203.6M199.8 203.78H203.6M199.8 201.33H203.6M199.8 198.87H203.6M199.8 196.41H203.6M199.8 193.96H203.6M197.0 191.50H203.6" stroke="#111" stroke-width="1.2" fill="none"/>
<path d="M203.0 267.8H291.2" stroke="#111" stroke-width="1.7" fill="none"/>
<path d="M203.60 268.1v6.3M210.15 268.1v3.4M213.98 268.1v3.4M216.69 268.1v3.4M218.80 268.1v3.4M220.52 268.1v3.4M221.98 268.1v3.4M223.24 268.1v3.4M224.35 268.1v3.4M225.35 268.1v6.3M231.90 268.1v3.4M235.73 268.1v3.4M238.44 268.1v3.4M240.55 268.1v3.4M242.27 268.1v3.4M243.73 268.1v3.4M244.99 268.1v3.4M246.10 268.1v3.4M247.10 268.1v6.3M253.65 268.1v3.4M257.48 268.1v3.4M260.19 268.1v3.4M262.30 268.1v3.4M264.02 268.1v3.4M265.48 268.1v3.4M266.74 268.1v3.4M267.85 268.1v3.4M268.85 268.1v6.3M275.40 268.1v3.4M279.23 268.1v3.4M281.94 268.1v3.4M284.05 268.1v3.4M285.77 268.1v3.4M287.23 268.1v3.4M288.49 268.1v3.4M289.60 268.1v3.4M290.60 268.1v6.3" stroke="#111" stroke-width="1.3" fill="none"/>
<text font-size="12" class="r"><tspan x="194.5" y="288.7" textLength="13.1" lengthAdjust="spacingAndGlyphs">10</tspan><tspan x="208.4" y="282.4" textLength="6.6" lengthAdjust="spacingAndGlyphs">0</tspan></text>
<text font-size="12" class="r"><tspan x="278.3" y="288.7" textLength="13.6" lengthAdjust="spacingAndGlyphs">10</tspan><tspan x="291.9" y="282.3" textLength="6.6" lengthAdjust="spacingAndGlyphs">4</tspan></text>
<text x="245.8" y="302.6" font-size="12.4" class="r" textLength="35.2" lengthAdjust="spacingAndGlyphs" text-anchor="middle">FL2-H</text>
<text transform="translate(192.6,199.3) rotate(-90)" font-size="12" class="r" textLength="19.5" lengthAdjust="spacingAndGlyphs">200</text>
<text transform="translate(192.6,266.6) rotate(-90)" font-size="12" class="r" textLength="6.6" lengthAdjust="spacingAndGlyphs">0</text>
<text transform="translate(177.6,248.8) rotate(-90)" font-size="12" class="r" textLength="40.0" lengthAdjust="spacingAndGlyphs">Counts</text>
<clipPath id="h12"><rect x="202.9" y="190.8" width="89.2" height="77.3"/></clipPath><g clip-path="url(#h12)">
<path d="M204.4 264.9 L206.2 264.7 L207.8 264.7 L209.4 264.5 L211.0 264.5 L212.9 264.6 L214.6 264.0 L216.2 264.4 L217.8 264.1 L219.0 262.9 L220.1 261.8 L221.3 260.6 L221.7 258.9 L222.1 257.5 L222.7 255.9 L223.0 254.1 L223.4 252.4 L223.7 251.1 L224.2 249.4 L224.6 247.6 L224.7 246.1 L225.1 244.2 L225.2 243.1 L225.5 241.1 L225.7 239.7 L226.0 237.8 L226.2 236.4 L226.4 234.5 L226.5 233.2 L226.7 231.6 L227.0 229.9 L227.3 228.5 L227.3 226.8 L227.5 225.0 L227.9 223.6 L228.2 221.6 L228.3 220.1 L228.7 218.5 L228.8 216.4 L229.0 215.1 L229.2 213.0 L229.7 211.7 L229.8 209.9 L230.0 207.9 L230.3 206.1 L230.5 204.7 L231.0 203.1 L231.2 201.2 L231.5 199.2 L232.1 197.6 L232.3 196.2 L232.6 194.3 L234.7 192.9 L237.0 194.2 L237.2 196.1 L237.6 197.5 L237.8 199.1 L238.2 200.8 L238.6 202.4 L238.7 203.8 L239.1 206.0 L239.4 207.2 L239.5 209.0 L239.7 210.5 L240.0 212.2 L240.1 213.7 L240.3 215.6 L240.6 217.4 L241.0 218.9 L241.2 220.5 L241.2 222.4 L241.6 223.6 L241.7 225.2 L242.0 227.4 L242.0 229.0 L242.4 230.3 L242.6 232.0 L242.8 233.8 L243.1 235.7 L243.4 237.1 L243.8 238.5 L243.9 240.6 L244.3 242.1 L244.6 243.8 L244.9 245.6 L245.1 247.3 L245.3 248.9 L245.7 250.1 L246.2 252.2 L246.7 253.4 L247.2 255.3 L247.7 256.5 L248.4 258.5 L248.9 259.5 L250.1 260.6 L251.6 261.8 L253.0 262.2 L254.3 263.5 L255.9 263.3 L257.6 263.6 L259.2 263.5 L260.9 264.1 L262.6 264.2 L264.3 264.1 L266.1 264.7 L267.8 264.8 L269.4 264.9 L271.2 264.8 L272.8 264.5 L274.3 264.8 L276.1 264.6 L277.9 264.5 L279.6 264.9 L281.3 264.5 L282.8 265.0 L284.7 265.1 L286.3 264.8 L288.1 264.8 L289.8 264.9 L291.4 264.9" fill="none" stroke="#111" stroke-width="1.6" stroke-linejoin="round" stroke-linecap="round" />
<path d="M203.6 265.2 L204.9 264.5 L207.1 264.9 L208.2 264.5 L210.0 265.7 L211.3 265.5 L213.2 265.5 L215.2 265.6 L216.3 265.3 L217.9 264.6 L219.6 265.6 L221.7 265.3 L222.8 264.4 L224.8 265.0 L226.5 264.7 L227.7 264.0 L229.7 263.4 L230.7 262.9 L232.9 262.6 L233.9 261.1 L234.8 259.5 L235.5 257.0 L236.5 255.7 L237.0 253.8 L237.6 252.0 L237.4 250.7 L238.0 248.4 L238.4 247.3 L239.0 245.9 L238.9 244.6 L239.7 242.9 L239.6 240.3 L240.1 239.5 L240.2 236.9 L240.2 235.3 L240.8 233.9 L241.0 233.0 L241.0 231.3 L241.0 228.8 L241.6 227.6 L241.3 226.0 L242.1 224.8 L242.6 222.1 L242.5 221.3 L243.2 218.6 L243.3 217.7 L243.7 215.8 L245.0 213.6 L246.0 213.3 L246.3 211.3 L247.5 209.9 L250.1 209.2 L252.2 209.2 L254.0 210.1 L255.6 211.3 L256.0 212.3 L256.2 214.2 L256.8 215.4 L257.0 217.7 L258.1 219.8 L258.3 220.4 L258.7 222.1 L258.7 224.0 L258.9 225.1 L259.8 226.9 L259.6 228.8 L260.0 231.2 L260.5 232.3 L261.1 233.7 L261.3 235.2 L261.7 236.9 L261.9 239.2 L262.3 240.0 L263.1 242.1 L263.4 243.6 L263.7 245.8 L263.8 247.6 L264.6 249.0 L265.3 250.7 L265.3 252.4 L266.4 254.1 L266.6 255.5 L267.5 256.8 L268.1 257.9 L268.5 259.9 L270.3 261.5 L271.2 263.0 L273.2 264.3 L275.0 264.4 L276.5 264.0 L278.1 265.4 L280.1 264.8 L281.6 265.0 L283.2 265.0 L284.6 265.4 L286.3 265.2 L288.3 265.6 L289.6 265.1 L291.4 265.5" fill="none" stroke="#111" stroke-width="3.3" stroke-linejoin="round" stroke-linecap="round" />
</g>
<text font-size="14" font-weight="bold"><tspan x="255.3" y="210.3">7</tspan><tspan x="267.3" y="210.3">8</tspan> <tspan x="279.2" y="210.3" textLength="11.4" lengthAdjust="spacingAndGlyphs">%</tspan></text>
<rect x="200.8" y="332.1" width="87.2" height="73.9" fill="none" stroke="#111" stroke-width="1.5"/>
<path d="M194.2 406.00H200.8M197.0 403.54H200.8M197.0 401.07H200.8M197.0 398.61H200.8M197.0 396.15H200.8M197.0 393.68H200.8M194.2 391.22H200.8M197.0 388.76H200.8M197.0 386.29H200.8M197.0 383.83H200.8M197.0 381.37H200.8M197.0 378.90H200.8M194.2 376.44H200.8M197.0 373.98H200.8M197.0 371.51H200.8M197.0 369.05H200.8M197.0 366.59H200.8M197.0 364.12H200.8M194.2 361.66H200.8M197.0 359.20H200.8M197.0 356.73H200.8M197.0 354.27H200.8M197.0 351.81H200.8M197.0 349.34H200.8M194.2 346.88H200.8M197.0 344.42H200.8M197.0 341.95H200.8M197.0 339.49H200.8M197.0 337.03H200.8M197.0 334.56H200.8M194.2 332.10H200.8" stroke="#111" stroke-width="1.2" fill="none"/>
<path d="M200.2 408.6H288.6" stroke="#111" stroke-width="1.7" fill="none"/>
<path d="M200.80 408.9v6.3M207.36 408.9v3.4M211.20 408.9v3.4M213.92 408.9v3.4M216.04 408.9v3.4M217.76 408.9v3.4M219.22 408.9v3.4M220.49 408.9v3.4M221.60 408.9v3.4M222.60 408.9v6.3M229.16 408.9v3.4M233.00 408.9v3.4M235.72 408.9v3.4M237.84 408.9v3.4M239.56 408.9v3.4M241.02 408.9v3.4M242.29 408.9v3.4M243.40 408.9v3.4M244.40 408.9v6.3M250.96 408.9v3.4M254.80 408.9v3.4M257.52 408.9v3.4M259.64 408.9v3.4M261.36 408.9v3.4M262.82 408.9v3.4M264.09 408.9v3.4M265.20 408.9v3.4M266.20 408.9v6.3M272.76 408.9v3.4M276.60 408.9v3.4M279.32 408.9v3.4M281.44 408.9v3.4M283.16 408.9v3.4M284.62 408.9v3.4M285.89 408.9v3.4M287.00 408.9v3.4M288.00 408.9v6.3" stroke="#111" stroke-width="1.3" fill="none"/>
<text font-size="12" class="r"><tspan x="191.7" y="429.5" textLength="13.1" lengthAdjust="spacingAndGlyphs">10</tspan><tspan x="205.6" y="423.2" textLength="6.6" lengthAdjust="spacingAndGlyphs">0</tspan></text>
<text font-size="12" class="r"><tspan x="275.7" y="429.5" textLength="13.6" lengthAdjust="spacingAndGlyphs">10</tspan><tspan x="289.3" y="423.1" textLength="6.6" lengthAdjust="spacingAndGlyphs">4</tspan></text>
<text x="243.1" y="443.4" font-size="12.4" class="r" textLength="35.2" lengthAdjust="spacingAndGlyphs" text-anchor="middle">FL2-H</text>
<text transform="translate(189.8,339.9) rotate(-90)" font-size="12" class="r" textLength="19.5" lengthAdjust="spacingAndGlyphs">200</text>
<text transform="translate(189.8,407.4) rotate(-90)" font-size="12" class="r" textLength="6.6" lengthAdjust="spacingAndGlyphs">0</text>
<text transform="translate(174.8,389.4) rotate(-90)" font-size="12" class="r" textLength="40.0" lengthAdjust="spacingAndGlyphs">Counts</text>
<clipPath id="h22"><rect x="200.1" y="331.4" width="89.4" height="77.5"/></clipPath><g clip-path="url(#h22)">
<path d="M217.9 406.0 L218.6 404.0 L219.3 402.7 L219.8 400.6 L220.4 399.2 L221.2 397.5 L221.9 396.0 L222.2 393.8 L222.3 392.5 L222.7 390.8 L223.0 388.7 L223.1 387.1 L223.3 385.5 L223.6 383.9 L223.7 382.2 L224.0 380.5 L224.5 378.7 L224.5 376.7 L224.9 375.1 L225.0 373.8 L225.3 372.2 L225.5 370.2 L225.7 368.6 L225.8 367.3 L226.2 365.3 L226.4 364.0 L226.5 362.1 L226.7 360.4 L227.0 358.8 L227.0 356.7 L227.3 355.3 L227.6 353.5 L227.7 352.2 L228.0 350.5 L228.2 348.8 L228.3 347.2 L228.7 345.8 L228.7 344.1 L229.1 342.4 L229.3 341.0 L229.5 339.0 L230.1 337.1 L230.9 335.5 L231.4 333.4 L234.1 333.0 L234.8 334.4 L235.4 336.4 L236.1 337.6 L236.5 339.6 L236.6 341.3 L237.0 342.6 L236.9 344.0 L237.3 345.7 L237.4 347.4 L237.7 349.1 L238.0 350.7 L238.3 352.0 L238.4 353.7 L238.6 355.1 L238.8 357.1 L238.8 358.5 L239.0 360.3 L239.4 361.7 L239.3 363.9 L239.6 365.3 L239.8 366.8 L240.1 368.6 L240.1 370.6 L240.3 371.8 L240.4 373.8 L240.6 375.2 L240.6 376.6 L240.9 378.4 L241.5 380.2 L241.4 381.8 L241.8 383.6 L242.3 385.0 L242.5 386.5 L242.6 388.3 L242.8 389.9 L243.3 391.3 L243.5 392.9 L244.3 394.5 L245.1 396.2 L245.8 398.0 L246.6 399.6 L247.5 401.4 L248.8 401.8 L250.1 403.0 L251.4 403.6 L252.8 404.8 L254.5 404.8 L256.3 405.2 L258.0 405.8 L259.6 406.0" fill="none" stroke="#111" stroke-width="1.6" stroke-linejoin="round" stroke-linecap="round" />
<path d="M201.7 406.3 L203.7 406.7 L205.3 406.5 L207.5 406.0 L209.4 406.3 L210.9 405.7 L212.5 404.4 L213.8 403.5 L215.2 402.0 L216.3 401.1 L217.2 398.9 L218.0 397.9 L219.5 396.2 L219.6 394.7 L220.1 392.3 L220.6 390.5 L220.8 389.7 L221.8 388.7 L222.1 386.2 L222.1 385.5 L222.5 383.7 L223.3 381.1 L223.6 380.0 L223.7 378.7 L224.0 376.8 L224.2 375.5 L225.0 373.1 L224.9 372.2 L225.7 370.4 L226.6 368.3 L226.7 366.2 L227.3 364.7 L228.1 366.2 L229.7 368.9 L230.5 370.9 L232.4 370.6 L234.2 371.8 L236.2 372.2 L237.9 371.1 L239.5 370.0 L240.8 369.3 L242.0 370.3 L243.7 372.0 L244.5 372.6 L245.8 374.7 L246.8 376.0 L247.8 378.1 L248.5 379.6 L250.1 381.4 L251.0 383.4 L252.2 384.1 L252.6 385.9 L253.2 387.3 L253.9 389.9 L254.4 391.0 L254.6 392.3 L255.4 394.6 L255.8 395.8 L256.0 396.9 L256.6 399.8 L257.3 400.9 L258.4 402.9 L259.6 403.9 L260.9 405.3 L262.0 405.5 L263.8 406.2 L265.4 405.5 L267.4 405.5 L268.6 406.7 L270.6 406.3 L272.1 405.8 L273.8 405.9 L275.1 406.3 L276.8 406.7 L278.3 405.8 L280.2 405.5 L281.5 406.6 L283.0 405.7 L285.1 406.1 L286.2 405.8 L288.3 406.1 L289.8 406.3" fill="none" stroke="#111" stroke-width="3.3" stroke-linejoin="round" stroke-linecap="round" />
</g>
<text font-size="14" font-weight="bold"><tspan x="249.3" y="357.5">3</tspan><tspan x="261.0" y="357.5">5</tspan> <tspan x="272.9" y="357.5" textLength="11.4" lengthAdjust="spacingAndGlyphs">%</tspan></text>
<rect x="200.9" y="472.1" width="86.8" height="73.9" fill="none" stroke="#111" stroke-width="1.5"/>
<path d="M194.3 546.00H200.9M197.1 543.54H200.9M197.1 541.07H200.9M197.1 538.61H200.9M197.1 536.15H200.9M197.1 533.68H200.9M194.3 531.22H200.9M197.1 528.76H200.9M197.1 526.29H200.9M197.1 523.83H200.9M197.1 521.37H200.9M197.1 518.90H200.9M194.3 516.44H200.9M197.1 513.98H200.9M197.1 511.51H200.9M197.1 509.05H200.9M197.1 506.59H200.9M197.1 504.12H200.9M194.3 501.66H200.9M197.1 499.20H200.9M197.1 496.73H200.9M197.1 494.27H200.9M197.1 491.81H200.9M197.1 489.34H200.9M194.3 486.88H200.9M197.1 484.42H200.9M197.1 481.95H200.9M197.1 479.49H200.9M197.1 477.03H200.9M197.1 474.56H200.9M194.3 472.10H200.9" stroke="#111" stroke-width="1.2" fill="none"/>
<path d="M200.3 548.6H288.3" stroke="#111" stroke-width="1.7" fill="none"/>
<path d="M200.90 548.9v6.3M207.43 548.9v3.4M211.25 548.9v3.4M213.96 548.9v3.4M216.07 548.9v3.4M217.79 548.9v3.4M219.24 548.9v3.4M220.50 548.9v3.4M221.61 548.9v3.4M222.60 548.9v6.3M229.13 548.9v3.4M232.95 548.9v3.4M235.66 548.9v3.4M237.77 548.9v3.4M239.49 548.9v3.4M240.94 548.9v3.4M242.20 548.9v3.4M243.31 548.9v3.4M244.30 548.9v6.3M250.83 548.9v3.4M254.65 548.9v3.4M257.36 548.9v3.4M259.47 548.9v3.4M261.19 548.9v3.4M262.64 548.9v3.4M263.90 548.9v3.4M265.01 548.9v3.4M266.00 548.9v6.3M272.53 548.9v3.4M276.35 548.9v3.4M279.06 548.9v3.4M281.17 548.9v3.4M282.89 548.9v3.4M284.34 548.9v3.4M285.60 548.9v3.4M286.71 548.9v3.4M287.70 548.9v6.3" stroke="#111" stroke-width="1.3" fill="none"/>
<text font-size="12" class="r"><tspan x="191.8" y="569.5" textLength="13.1" lengthAdjust="spacingAndGlyphs">10</tspan><tspan x="205.7" y="563.2" textLength="6.6" lengthAdjust="spacingAndGlyphs">0</tspan></text>
<text font-size="12" class="r"><tspan x="275.4" y="569.5" textLength="13.6" lengthAdjust="spacingAndGlyphs">10</tspan><tspan x="289.0" y="563.1" textLength="6.6" lengthAdjust="spacingAndGlyphs">4</tspan></text>
<text x="243.0" y="583.4" font-size="12.4" class="r" textLength="35.2" lengthAdjust="spacingAndGlyphs" text-anchor="middle">FL2-H</text>
<text transform="translate(189.9,479.9) rotate(-90)" font-size="12" class="r" textLength="19.5" lengthAdjust="spacingAndGlyphs">200</text>
<text transform="translate(189.9,547.4) rotate(-90)" font-size="12" class="r" textLength="6.6" lengthAdjust="spacingAndGlyphs">0</text>
<text transform="translate(174.9,529.5) rotate(-90)" font-size="12" class="r" textLength="40.0" lengthAdjust="spacingAndGlyphs">Counts</text>
<clipPath id="h32"><rect x="200.2" y="471.4" width="89.0" height="77.5"/></clipPath><g clip-path="url(#h32)">
<path d="M203.1 546.3 L204.8 546.5 L206.5 546.4 L208.0 546.3 L209.8 546.4 L211.3 546.4 L213.1 546.0 L214.6 546.0 L216.1 546.3 L218.0 545.8 L218.7 544.6 L219.5 542.6 L220.6 541.2 L221.0 539.4 L221.1 537.7 L221.3 536.4 L221.6 534.8 L222.0 533.1 L222.2 531.5 L222.6 529.8 L222.6 528.1 L222.9 526.4 L223.4 524.8 L223.5 523.4 L223.8 521.6 L223.9 519.9 L223.9 518.5 L224.3 517.0 L224.4 515.3 L224.4 513.5 L224.6 511.9 L225.0 510.5 L225.2 509.1 L225.4 507.0 L225.3 505.7 L225.6 504.0 L225.9 502.5 L226.1 500.9 L226.2 499.0 L226.5 497.6 L226.8 495.8 L226.9 493.7 L227.2 492.2 L227.6 490.3 L227.8 489.0 L227.8 486.9 L228.2 485.4 L228.3 483.8 L228.7 481.9 L229.1 480.5 L229.5 478.8 L230.0 476.9 L230.4 475.3 L230.8 473.7 L233.1 473.7 L233.8 475.5 L234.7 477.5 L235.3 479.0 L235.6 480.6 L235.9 482.2 L236.1 484.2 L236.2 485.8 L236.3 487.6 L236.6 489.2 L236.8 491.0 L237.0 492.7 L237.1 494.1 L237.5 495.5 L237.7 497.2 L238.0 499.3 L238.1 500.9 L238.4 502.5 L238.6 503.8 L238.7 505.5 L238.9 507.5 L239.2 508.8 L239.4 510.8 L239.4 512.1 L239.7 514.2 L239.9 515.8 L240.0 517.6 L240.4 518.8 L240.4 520.7 L240.9 522.3 L241.1 523.8 L241.7 525.3 L242.0 527.2 L242.5 529.1 L243.0 530.7 L243.4 532.1 L244.0 533.9 L244.4 535.3 L244.7 537.4 L245.9 538.7 L246.9 539.9 L248.1 541.3 L249.0 542.6 L250.1 544.1 L251.8 544.4 L253.7 544.8 L255.3 545.5 L257.0 546.1 L258.7 545.8 L260.5 546.3 L262.4 546.4 L264.0 546.0 L266.0 546.0 L267.7 546.3" fill="none" stroke="#111" stroke-width="1.6" stroke-linejoin="round" stroke-linecap="round" />
<path d="M201.2 546.3 L202.9 545.6 L204.6 546.7 L206.5 545.7 L208.3 546.6 L210.4 546.5 L212.3 546.2 L213.9 546.6 L215.2 546.0 L217.4 545.3 L218.9 545.4 L220.6 544.3 L221.6 544.1 L223.2 543.5 L225.2 543.5 L226.9 541.8 L228.1 542.2 L230.0 541.8 L231.3 539.8 L232.3 538.0 L233.2 537.8 L233.7 535.8 L234.7 534.1 L235.2 531.9 L235.5 529.9 L236.1 528.9 L236.3 527.1 L237.0 524.5 L236.9 523.6 L237.2 521.8 L237.8 519.6 L237.6 518.0 L237.8 516.9 L238.5 515.0 L238.6 513.6 L239.0 511.4 L239.2 511.1 L239.6 509.2 L239.8 506.7 L240.4 504.9 L240.6 503.5 L241.0 501.7 L241.4 500.8 L241.1 498.4 L241.6 496.5 L242.0 494.9 L245.1 493.6 L246.2 492.3 L247.6 491.5 L248.5 489.4 L249.6 491.9 L250.0 493.3 L250.4 494.1 L250.5 496.4 L251.1 497.7 L251.2 499.4 L252.5 501.4 L253.1 503.5 L253.9 504.9 L254.5 505.8 L254.9 507.8 L254.6 509.2 L255.5 511.8 L255.8 513.4 L256.3 514.5 L255.9 515.6 L256.7 517.8 L256.7 519.2 L257.1 521.2 L257.9 523.3 L257.7 524.5 L258.4 526.8 L258.4 528.3 L259.0 530.4 L259.0 531.5 L259.7 533.6 L260.3 535.3 L260.8 536.0 L261.3 537.6 L262.1 539.2 L262.1 541.2 L263.5 542.5 L264.8 543.8 L266.6 546.1 L268.3 546.3 L270.0 545.4 L271.8 545.7 L273.2 546.5 L275.1 546.4 L276.9 546.4 L278.7 546.7 L280.4 546.8 L282.1 546.8 L283.7 546.4 L285.0 546.6 L286.8 546.4 L288.7 546.3" fill="none" stroke="#111" stroke-width="3.3" stroke-linejoin="round" stroke-linecap="round" />
</g>
<text font-size="14" font-weight="bold"><tspan x="254.8" y="492.1">7</tspan><tspan x="265.5" y="492.1">8</tspan> <tspan x="277.7" y="492.1" textLength="11.4" lengthAdjust="spacingAndGlyphs">%</tspan></text>
<rect x="196.5" y="615.0" width="90.3" height="73.4" fill="none" stroke="#111" stroke-width="1.5"/>
<path d="M189.9 688.40H196.5M192.7 685.95H196.5M192.7 683.51H196.5M192.7 681.06H196.5M192.7 678.61H196.5M192.7 676.17H196.5M189.9 673.72H196.5M192.7 671.27H196.5M192.7 668.83H196.5M192.7 666.38H196.5M192.7 663.93H196.5M192.7 661.49H196.5M189.9 659.04H196.5M192.7 656.59H196.5M192.7 654.15H196.5M192.7 651.70H196.5M192.7 649.25H196.5M192.7 646.81H196.5M189.9 644.36H196.5M192.7 641.91H196.5M192.7 639.47H196.5M192.7 637.02H196.5M192.7 634.57H196.5M192.7 632.13H196.5M189.9 629.68H196.5M192.7 627.23H196.5M192.7 624.79H196.5M192.7 622.34H196.5M192.7 619.89H196.5M192.7 617.45H196.5M189.9 615.00H196.5" stroke="#111" stroke-width="1.2" fill="none"/>
<path d="M195.9 691.0H287.4" stroke="#111" stroke-width="1.7" fill="none"/>
<path d="M196.50 691.3v6.3M203.30 691.3v3.4M207.27 691.3v3.4M210.09 691.3v3.4M212.28 691.3v3.4M214.07 691.3v3.4M215.58 691.3v3.4M216.89 691.3v3.4M218.04 691.3v3.4M219.07 691.3v6.3M225.87 691.3v3.4M229.85 691.3v3.4M232.67 691.3v3.4M234.85 691.3v3.4M236.64 691.3v3.4M238.15 691.3v3.4M239.46 691.3v3.4M240.62 691.3v3.4M241.65 691.3v6.3M248.45 691.3v3.4M252.42 691.3v3.4M255.24 691.3v3.4M257.43 691.3v3.4M259.22 691.3v3.4M260.73 691.3v3.4M262.04 691.3v3.4M263.19 691.3v3.4M264.23 691.3v6.3M271.02 691.3v3.4M275.00 691.3v3.4M277.82 691.3v3.4M280.00 691.3v3.4M281.79 691.3v3.4M283.30 691.3v3.4M284.61 691.3v3.4M285.77 691.3v3.4M286.80 691.3v6.3" stroke="#111" stroke-width="1.3" fill="none"/>
<text font-size="12" class="r"><tspan x="187.4" y="711.9" textLength="13.1" lengthAdjust="spacingAndGlyphs">10</tspan><tspan x="201.3" y="705.6" textLength="6.6" lengthAdjust="spacingAndGlyphs">0</tspan></text>
<text font-size="12" class="r"><tspan x="274.5" y="711.9" textLength="13.6" lengthAdjust="spacingAndGlyphs">10</tspan><tspan x="288.1" y="705.5" textLength="6.6" lengthAdjust="spacingAndGlyphs">4</tspan></text>
<text x="240.3" y="725.8" font-size="12.4" class="r" textLength="35.2" lengthAdjust="spacingAndGlyphs" text-anchor="middle">FL1-H</text>
<text transform="translate(185.5,622.8) rotate(-90)" font-size="12" class="r" textLength="19.5" lengthAdjust="spacingAndGlyphs">200</text>
<text transform="translate(185.5,689.8) rotate(-90)" font-size="12" class="r" textLength="6.6" lengthAdjust="spacingAndGlyphs">0</text>
<text transform="translate(170.5,672.1) rotate(-90)" font-size="12" class="r" textLength="40.0" lengthAdjust="spacingAndGlyphs">Counts</text>
<clipPath id="h42"><rect x="195.8" y="614.3" width="92.5" height="77.0"/></clipPath><g clip-path="url(#h42)">
<path d="M197.7 688.7 L199.4 688.5 L201.2 688.6 L203.2 688.5 L204.7 688.5 L206.7 688.4 L208.4 688.2 L209.3 686.7 L210.1 685.2 L211.1 684.0 L211.4 682.2 L211.9 680.4 L212.1 679.1 L212.4 677.0 L212.9 675.2 L213.2 673.6 L213.6 672.4 L213.7 670.1 L214.1 668.5 L214.2 666.8 L214.4 665.6 L214.7 663.5 L214.8 662.3 L215.1 660.5 L215.4 659.0 L215.4 657.1 L215.6 655.7 L216.0 653.9 L216.2 652.3 L216.3 650.2 L216.5 649.1 L216.6 647.4 L217.0 645.4 L217.3 644.0 L217.6 642.2 L217.8 640.0 L218.2 638.7 L218.2 636.6 L218.5 635.0 L218.8 633.7 L219.0 632.0 L219.1 630.0 L219.5 628.2 L220.0 626.5 L220.2 625.4 L220.5 623.4 L220.9 622.0 L221.1 620.2 L221.5 618.7 L223.3 616.5 L224.3 617.6 L225.5 619.3 L225.8 621.0 L226.1 622.7 L226.2 624.1 L226.5 626.2 L226.9 627.9 L227.2 629.8 L227.5 631.3 L227.7 633.0 L227.9 634.5 L228.3 636.6 L228.5 637.9 L228.8 639.5 L229.1 641.5 L229.3 643.1 L229.5 644.2 L229.9 645.9 L230.1 647.8 L230.2 649.5 L230.6 651.2 L230.7 652.6 L230.9 654.0 L231.4 655.7 L231.4 657.2 L231.6 659.0 L232.0 660.9 L232.3 662.3 L232.6 663.6 L232.8 665.5 L233.1 666.9 L233.6 669.0 L233.9 670.1 L234.2 671.9 L234.3 673.6 L234.6 675.3 L235.1 676.6 L235.3 678.6 L236.5 680.2 L237.3 682.0 L238.6 683.4 L239.3 685.4 L241.1 685.4 L242.7 685.9 L244.6 686.8 L246.3 686.9 L247.8 687.2 L249.5 687.5 L251.0 687.1 L252.6 687.6 L254.1 687.6 L255.8 687.9 L257.5 687.9 L258.9 687.7 L260.7 688.1 L262.3 688.2" fill="none" stroke="#111" stroke-width="1.6" stroke-linejoin="round" stroke-linecap="round" />
<path d="M197.2 688.7 L198.7 688.3 L200.1 688.2 L202.1 688.8 L203.5 689.0 L205.4 689.2 L206.9 689.0 L208.7 688.7 L210.3 688.4 L211.5 689.2 L213.5 688.7 L215.1 689.1 L216.6 689.1 L217.8 689.3 L220.0 688.9 L221.6 688.7 L223.0 688.0 L224.3 688.5 L226.1 689.3 L228.1 688.3 L229.4 688.4 L231.2 688.9 L232.4 688.4 L234.1 688.7 L235.8 688.6 L237.4 688.3 L239.0 688.0 L240.8 688.3 L242.7 688.4 L244.1 687.0 L246.3 686.2 L247.3 684.9 L248.1 683.9 L249.1 682.9 L249.9 680.5 L250.4 680.5 L251.3 678.9 L253.2 676.6 L254.6 676.2 L255.2 673.8 L256.6 672.7 L257.2 671.1 L258.4 670.6 L258.8 668.5 L259.4 667.4 L259.9 665.0 L260.2 663.6 L260.9 663.2 L261.8 661.3 L262.3 660.0 L262.8 658.6 L263.6 655.9 L263.9 654.7 L264.7 653.2 L265.1 651.1 L265.5 648.9 L265.8 647.6 L266.6 646.0 L267.1 644.0 L267.4 642.8 L267.8 641.1 L268.2 639.9 L269.4 637.8 L269.8 636.3 L271.1 636.0 L271.5 634.6 L272.7 635.3 L273.7 637.0 L274.6 637.7 L274.6 640.2 L275.0 641.6 L275.6 643.2 L276.0 645.2 L276.6 646.7 L276.5 648.0 L277.0 649.1 L278.0 651.3 L278.2 652.5 L278.7 654.4 L279.2 655.2 L279.3 657.8 L280.2 659.2 L280.8 660.1 L281.1 662.4 L281.7 662.8 L282.4 665.1 L284.0 666.1 L285.2 668.0 L285.3 666.6 L285.9 664.6 L286.2 663.0 L286.1 660.2 L286.5 659.0 L286.2 657.2 L286.5 655.7 L286.1 654.5 L286.6 652.9 L286.6 650.2 L286.4 649.4 L286.7 650.3 L286.8 652.4 L286.5 653.5 L286.4 655.5 L286.7 657.4 L286.4 659.6 L286.3 660.5 L286.2 662.2 L286.6 664.1 L286.6 665.1 L286.7 667.3 L286.8 669.6 L286.8 671.3 L286.6 672.5 L286.4 674.0 L286.5 675.8" fill="none" stroke="#111" stroke-width="3.3" stroke-linejoin="round" stroke-linecap="round" />
</g>
<text font-size="14" font-weight="bold"><tspan x="230.3" y="638.5">9</tspan><tspan x="241.9" y="638.5">7</tspan> <tspan x="253.6" y="638.5" textLength="11.4" lengthAdjust="spacingAndGlyphs">%</tspan></text>
<rect x="199.3" y="754.8" width="86.7" height="73.6" fill="none" stroke="#111" stroke-width="1.5"/>
<path d="M192.7 828.40H199.3M195.5 825.95H199.3M195.5 823.49H199.3M195.5 821.04H199.3M195.5 818.59H199.3M195.5 816.13H199.3M192.7 813.68H199.3M195.5 811.23H199.3M195.5 808.77H199.3M195.5 806.32H199.3M195.5 803.87H199.3M195.5 801.41H199.3M192.7 798.96H199.3M195.5 796.51H199.3M195.5 794.05H199.3M195.5 791.60H199.3M195.5 789.15H199.3M195.5 786.69H199.3M192.7 784.24H199.3M195.5 781.79H199.3M195.5 779.33H199.3M195.5 776.88H199.3M195.5 774.43H199.3M195.5 771.97H199.3M192.7 769.52H199.3M195.5 767.07H199.3M195.5 764.61H199.3M195.5 762.16H199.3M195.5 759.71H199.3M195.5 757.25H199.3M192.7 754.80H199.3" stroke="#111" stroke-width="1.2" fill="none"/>
<path d="M198.7 831.0H286.6" stroke="#111" stroke-width="1.7" fill="none"/>
<path d="M199.30 831.3v6.3M205.82 831.3v3.4M209.64 831.3v3.4M212.35 831.3v3.4M214.45 831.3v3.4M216.17 831.3v3.4M217.62 831.3v3.4M218.87 831.3v3.4M219.98 831.3v3.4M220.98 831.3v6.3M227.50 831.3v3.4M231.32 831.3v3.4M234.02 831.3v3.4M236.13 831.3v3.4M237.84 831.3v3.4M239.29 831.3v3.4M240.55 831.3v3.4M241.66 831.3v3.4M242.65 831.3v6.3M249.17 831.3v3.4M252.99 831.3v3.4M255.70 831.3v3.4M257.80 831.3v3.4M259.52 831.3v3.4M260.97 831.3v3.4M262.22 831.3v3.4M263.33 831.3v3.4M264.32 831.3v6.3M270.85 831.3v3.4M274.67 831.3v3.4M277.37 831.3v3.4M279.48 831.3v3.4M281.19 831.3v3.4M282.64 831.3v3.4M283.90 831.3v3.4M285.01 831.3v3.4M286.00 831.3v6.3" stroke="#111" stroke-width="1.3" fill="none"/>
<text font-size="12" class="r"><tspan x="190.2" y="851.9" textLength="13.1" lengthAdjust="spacingAndGlyphs">10</tspan><tspan x="204.1" y="845.6" textLength="6.6" lengthAdjust="spacingAndGlyphs">0</tspan></text>
<text font-size="12" class="r"><tspan x="273.7" y="851.9" textLength="13.6" lengthAdjust="spacingAndGlyphs">10</tspan><tspan x="287.3" y="845.5" textLength="6.6" lengthAdjust="spacingAndGlyphs">4</tspan></text>
<text x="241.3" y="865.8" font-size="12.4" class="r" textLength="35.2" lengthAdjust="spacingAndGlyphs" text-anchor="middle">FL1-H</text>
<text transform="translate(188.3,762.6) rotate(-90)" font-size="12" class="r" textLength="19.5" lengthAdjust="spacingAndGlyphs">200</text>
<text transform="translate(188.3,829.8) rotate(-90)" font-size="12" class="r" textLength="6.6" lengthAdjust="spacingAndGlyphs">0</text>
<text transform="translate(173.3,812.0) rotate(-90)" font-size="12" class="r" textLength="40.0" lengthAdjust="spacingAndGlyphs">Counts</text>
<clipPath id="h52"><rect x="198.6" y="754.1" width="88.9" height="77.2"/></clipPath><g clip-path="url(#h52)">
<path d="M213.8 828.7 L214.3 827.2 L215.1 825.8 L215.3 824.1 L216.1 822.5 L216.6 820.9 L216.6 819.3 L216.9 817.9 L217.0 816.2 L217.4 814.0 L217.4 812.6 L217.6 810.9 L218.0 809.3 L218.1 807.6 L218.2 805.6 L218.5 803.8 L218.8 802.1 L218.8 800.6 L218.9 798.8 L219.2 797.4 L219.2 795.6 L219.4 794.0 L219.5 792.6 L219.5 790.8 L219.7 789.3 L219.7 787.9 L220.1 786.4 L220.1 784.8 L220.2 782.8 L220.3 781.4 L220.5 779.9 L220.7 778.0 L220.7 776.3 L220.9 774.7 L221.0 772.7 L221.2 771.2 L221.4 769.6 L221.7 767.9 L221.8 766.1 L222.0 764.3 L222.0 762.9 L222.3 761.1 L222.6 759.1 L223.5 757.2 L224.7 755.3 L227.2 755.8 L227.8 757.5 L228.1 759.5 L228.7 761.1 L228.9 762.9 L229.3 764.6 L229.8 766.1 L229.7 768.0 L230.0 769.9 L230.3 771.8 L230.2 773.5 L230.4 774.8 L230.7 776.8 L230.8 778.4 L231.1 779.9 L231.1 781.6 L231.2 783.3 L231.5 784.9 L231.8 786.8 L232.1 788.5 L232.1 790.1 L232.5 791.9 L232.7 793.6 L232.7 794.9 L233.0 796.7 L233.3 798.6 L233.4 800.3 L233.8 801.5 L233.9 803.6 L233.9 805.1 L234.6 806.8 L234.9 808.1 L235.7 809.8 L236.0 811.7 L236.7 813.4 L237.2 815.1 L237.7 816.5 L238.2 818.7 L239.1 820.4 L240.0 821.6 L241.2 823.2 L242.1 825.5 L243.9 825.9 L245.4 826.2 L247.3 826.9 L248.8 827.3 L250.6 827.8 L252.5 827.8 L254.2 827.7 L256.0 827.9 L257.9 828.2 L259.6 828.4" fill="none" stroke="#111" stroke-width="1.6" stroke-linejoin="round" stroke-linecap="round" />
<path d="M199.8 828.7 L201.8 828.2 L204.0 829.2 L205.8 829.0 L206.9 827.3 L208.7 826.7 L209.7 826.0 L211.5 825.8 L211.9 823.4 L212.2 822.1 L213.4 821.1 L213.7 819.1 L214.4 817.3 L215.5 815.3 L215.8 813.4 L215.5 812.2 L216.4 811.1 L216.8 809.5 L216.8 807.3 L217.2 805.6 L217.8 803.6 L217.6 802.8 L218.4 801.0 L219.1 799.2 L220.2 797.6 L220.8 795.8 L222.3 794.6 L223.5 793.2 L224.4 793.6 L226.0 795.0 L227.3 796.1 L228.8 796.9 L230.2 798.8 L232.0 799.2 L233.2 801.1 L233.9 802.2 L235.2 800.7 L236.1 799.7 L237.0 797.8 L238.3 796.7 L239.1 795.5 L242.0 796.3 L242.9 799.1 L244.0 800.5 L244.6 801.9 L245.9 803.2 L246.2 805.7 L247.6 806.5 L247.8 809.2 L248.8 810.8 L250.0 812.0 L251.2 813.7 L251.9 815.3 L252.7 817.3 L253.8 818.1 L254.9 820.4 L255.6 822.1 L256.6 823.7 L258.1 824.2 L259.4 825.8 L261.1 827.3 L262.0 828.0 L263.6 827.4 L265.9 827.5 L267.2 828.6 L268.6 828.2 L270.3 828.1 L272.0 828.2 L274.0 828.1 L275.5 829.0 L277.4 829.0 L278.8 827.8 L280.4 828.0 L281.8 829.1 L283.7 828.3 L285.3 828.1 L287.1 828.7" fill="none" stroke="#111" stroke-width="3.3" stroke-linejoin="round" stroke-linecap="round" />
</g>
<text font-size="14" font-weight="bold"><tspan x="244.3" y="779.2">4</tspan><tspan x="255.3" y="779.2">2</tspan> <tspan x="267.4" y="779.2" textLength="11.4" lengthAdjust="spacingAndGlyphs">%</tspan></text>
<rect x="198.9" y="894.4" width="86.5" height="73.8" fill="none" stroke="#111" stroke-width="1.5"/>
<path d="M192.3 968.20H198.9M195.1 965.74H198.9M195.1 963.28H198.9M195.1 960.82H198.9M195.1 958.36H198.9M195.1 955.90H198.9M192.3 953.44H198.9M195.1 950.98H198.9M195.1 948.52H198.9M195.1 946.06H198.9M195.1 943.60H198.9M195.1 941.14H198.9M192.3 938.68H198.9M195.1 936.22H198.9M195.1 933.76H198.9M195.1 931.30H198.9M195.1 928.84H198.9M195.1 926.38H198.9M192.3 923.92H198.9M195.1 921.46H198.9M195.1 919.00H198.9M195.1 916.54H198.9M195.1 914.08H198.9M195.1 911.62H198.9M192.3 909.16H198.9M195.1 906.70H198.9M195.1 904.24H198.9M195.1 901.78H198.9M195.1 899.32H198.9M195.1 896.86H198.9M192.3 894.40H198.9" stroke="#111" stroke-width="1.2" fill="none"/>
<path d="M198.3 970.8H286.0" stroke="#111" stroke-width="1.7" fill="none"/>
<path d="M198.90 971.1v6.3M205.41 971.1v3.4M209.22 971.1v3.4M211.92 971.1v3.4M214.02 971.1v3.4M215.73 971.1v3.4M217.18 971.1v3.4M218.43 971.1v3.4M219.54 971.1v3.4M220.53 971.1v6.3M227.03 971.1v3.4M230.84 971.1v3.4M233.54 971.1v3.4M235.64 971.1v3.4M237.35 971.1v3.4M238.80 971.1v3.4M240.05 971.1v3.4M241.16 971.1v3.4M242.15 971.1v6.3M248.66 971.1v3.4M252.47 971.1v3.4M255.17 971.1v3.4M257.27 971.1v3.4M258.98 971.1v3.4M260.43 971.1v3.4M261.68 971.1v3.4M262.79 971.1v3.4M263.77 971.1v6.3M270.28 971.1v3.4M274.09 971.1v3.4M276.79 971.1v3.4M278.89 971.1v3.4M280.60 971.1v3.4M282.05 971.1v3.4M283.30 971.1v3.4M284.41 971.1v3.4M285.40 971.1v6.3" stroke="#111" stroke-width="1.3" fill="none"/>
<text font-size="12" class="r"><tspan x="189.8" y="991.7" textLength="13.1" lengthAdjust="spacingAndGlyphs">10</tspan><tspan x="203.7" y="985.4" textLength="6.6" lengthAdjust="spacingAndGlyphs">0</tspan></text>
<text font-size="12" class="r"><tspan x="273.1" y="991.7" textLength="13.6" lengthAdjust="spacingAndGlyphs">10</tspan><tspan x="286.7" y="985.3" textLength="6.6" lengthAdjust="spacingAndGlyphs">4</tspan></text>
<text x="240.8" y="1005.6" font-size="12.4" class="r" textLength="35.2" lengthAdjust="spacingAndGlyphs" text-anchor="middle">FL1-H</text>
<text transform="translate(187.9,902.2) rotate(-90)" font-size="12" class="r" textLength="19.5" lengthAdjust="spacingAndGlyphs">200</text>
<text transform="translate(187.9,969.6) rotate(-90)" font-size="12" class="r" textLength="6.6" lengthAdjust="spacingAndGlyphs">0</text>
<text transform="translate(172.9,951.7) rotate(-90)" font-size="12" class="r" textLength="40.0" lengthAdjust="spacingAndGlyphs">Counts</text>
<clipPath id="h62"><rect x="198.2" y="893.7" width="88.7" height="77.4"/></clipPath><g clip-path="url(#h62)">
<path d="M200.4 968.4 L202.0 968.4 L203.9 968.0 L205.4 968.4 L207.3 968.0 L208.9 968.2 L210.8 967.8 L212.4 967.8 L213.3 966.5 L213.8 964.4 L214.4 962.8 L215.1 961.2 L215.4 959.3 L215.5 957.5 L215.8 955.7 L215.9 954.0 L216.3 952.8 L216.4 950.7 L216.6 949.0 L216.7 947.4 L217.1 945.7 L217.3 944.1 L217.2 942.6 L217.5 940.9 L217.8 938.8 L217.8 937.4 L217.8 935.8 L218.1 933.9 L218.2 932.4 L218.2 930.9 L218.4 929.0 L218.7 927.5 L218.9 925.6 L219.0 923.9 L219.1 922.5 L219.3 921.0 L219.3 918.9 L219.7 917.2 L219.7 915.8 L220.2 913.7 L220.1 912.4 L220.4 910.8 L220.6 908.8 L220.9 907.0 L221.1 905.3 L221.2 903.9 L221.3 902.2 L222.1 899.7 L222.8 897.8 L223.1 896.1 L226.0 895.5 L226.7 896.8 L227.3 898.6 L228.0 900.2 L228.8 902.0 L228.9 903.8 L229.0 905.1 L229.1 907.0 L229.3 908.3 L229.5 910.0 L229.7 911.7 L230.1 913.0 L230.1 915.1 L230.2 916.3 L230.5 918.3 L230.8 919.9 L231.1 921.4 L231.1 923.1 L231.3 924.6 L231.7 926.4 L231.9 927.5 L232.1 929.7 L232.4 930.7 L232.4 932.5 L232.7 934.4 L233.0 936.0 L233.3 937.7 L233.5 939.0 L233.8 940.5 L234.1 942.6 L234.2 943.6 L234.5 945.5 L234.8 946.9 L235.0 948.8 L235.3 950.6 L236.0 952.2 L236.5 953.3 L237.2 955.1 L237.8 956.6 L238.4 957.9 L239.0 959.6 L239.5 961.3 L240.8 962.8 L242.2 963.9 L243.5 965.1 L245.1 965.9 L246.6 966.1 L248.3 966.6 L249.9 966.8 L251.5 967.3" fill="none" stroke="#111" stroke-width="1.6" stroke-linejoin="round" stroke-linecap="round" />
<path d="M199.8 968.5 L201.8 968.9 L203.0 969.1 L204.6 968.7 L206.3 967.8 L207.9 967.7 L209.7 968.0 L211.4 968.0 L213.5 968.7 L214.7 967.5 L216.8 967.7 L217.7 967.3 L218.0 965.3 L219.0 964.5 L219.4 962.4 L220.3 961.5 L220.6 959.8 L221.5 957.4 L221.8 955.8 L221.8 954.2 L222.4 953.2 L222.6 951.1 L223.3 949.1 L223.5 947.3 L223.5 945.9 L223.5 943.9 L224.0 943.0 L223.8 941.0 L224.4 939.4 L224.4 937.2 L224.5 935.5 L224.7 935.0 L224.9 932.4 L225.2 930.9 L225.3 928.8 L225.6 927.8 L225.6 925.9 L226.2 924.6 L226.3 922.5 L226.5 921.3 L227.0 920.2 L227.5 918.6 L227.3 916.3 L227.6 914.8 L227.9 913.5 L228.7 911.2 L229.0 910.2 L228.8 908.4 L229.6 906.1 L229.8 905.6 L230.7 903.6 L230.8 902.5 L231.9 900.2 L233.0 897.4 L234.0 896.3 L235.0 897.7 L235.6 900.6 L235.9 901.6 L236.3 903.7 L236.4 905.2 L237.0 906.3 L237.3 908.0 L237.0 910.5 L237.9 911.7 L238.0 913.1 L238.0 915.9 L238.4 917.5 L238.5 919.4 L238.9 920.0 L239.1 922.2 L239.4 923.8 L239.2 925.4 L239.7 927.4 L239.8 928.5 L240.0 929.9 L240.5 931.9 L240.3 934.2 L240.8 935.0 L240.9 937.0 L241.1 938.1 L241.4 940.3 L241.4 942.4 L242.2 943.9 L242.4 945.2 L242.6 946.4 L242.6 948.6 L243.1 949.8 L242.9 951.4 L243.3 953.4 L244.3 954.8 L245.0 956.4 L245.4 957.3 L245.9 958.8 L246.7 961.3 L247.4 963.0 L248.9 964.0 L250.4 964.1 L251.8 966.2 L253.0 966.1 L255.0 966.8 L256.6 967.4 L258.4 967.3 L260.3 967.6 L262.6 967.9 L263.9 968.1 L265.8 967.2 L268.0 966.6 L269.3 967.4 L271.6 968.0 L273.4 968.4 L274.4 967.7 L276.2 968.7 L277.8 967.9 L279.8 968.2 L281.7 968.4 L282.9 969.2 L284.7 969.1 L286.5 968.5" fill="none" stroke="#111" stroke-width="3.3" stroke-linejoin="round" stroke-linecap="round" />
</g>
<text font-size="14" font-weight="bold"><tspan x="245.8" y="915.8">3</tspan><tspan x="257.3" y="915.8">8</tspan> <tspan x="269.0" y="915.8" textLength="11.4" lengthAdjust="spacingAndGlyphs">%</tspan></text>
<rect x="198.1" y="1035.6" width="86.7" height="74.1" fill="none" stroke="#111" stroke-width="1.5"/>
<path d="M191.5 1109.70H198.1M194.3 1107.23H198.1M194.3 1104.76H198.1M194.3 1102.29H198.1M194.3 1099.82H198.1M194.3 1097.35H198.1M191.5 1094.88H198.1M194.3 1092.41H198.1M194.3 1089.94H198.1M194.3 1087.47H198.1M194.3 1085.00H198.1M194.3 1082.53H198.1M191.5 1080.06H198.1M194.3 1077.59H198.1M194.3 1075.12H198.1M194.3 1072.65H198.1M194.3 1070.18H198.1M194.3 1067.71H198.1M191.5 1065.24H198.1M194.3 1062.77H198.1M194.3 1060.30H198.1M194.3 1057.83H198.1M194.3 1055.36H198.1M194.3 1052.89H198.1M191.5 1050.42H198.1M194.3 1047.95H198.1M194.3 1045.48H198.1M194.3 1043.01H198.1M194.3 1040.54H198.1M194.3 1038.07H198.1M191.5 1035.60H198.1" stroke="#111" stroke-width="1.2" fill="none"/>
<path d="M197.5 1112.3H285.4" stroke="#111" stroke-width="1.7" fill="none"/>
<path d="M198.10 1112.6v6.3M204.62 1112.6v3.4M208.44 1112.6v3.4M211.15 1112.6v3.4M213.25 1112.6v3.4M214.97 1112.6v3.4M216.42 1112.6v3.4M217.67 1112.6v3.4M218.78 1112.6v3.4M219.78 1112.6v6.3M226.30 1112.6v3.4M230.12 1112.6v3.4M232.82 1112.6v3.4M234.93 1112.6v3.4M236.64 1112.6v3.4M238.09 1112.6v3.4M239.35 1112.6v3.4M240.46 1112.6v3.4M241.45 1112.6v6.3M247.97 1112.6v3.4M251.79 1112.6v3.4M254.50 1112.6v3.4M256.60 1112.6v3.4M258.32 1112.6v3.4M259.77 1112.6v3.4M261.02 1112.6v3.4M262.13 1112.6v3.4M263.12 1112.6v6.3M269.65 1112.6v3.4M273.47 1112.6v3.4M276.17 1112.6v3.4M278.28 1112.6v3.4M279.99 1112.6v3.4M281.44 1112.6v3.4M282.70 1112.6v3.4M283.81 1112.6v3.4M284.80 1112.6v6.3" stroke="#111" stroke-width="1.3" fill="none"/>
<text font-size="12" class="r"><tspan x="189.0" y="1133.2" textLength="13.1" lengthAdjust="spacingAndGlyphs">10</tspan><tspan x="202.9" y="1126.9" textLength="6.6" lengthAdjust="spacingAndGlyphs">0</tspan></text>
<text font-size="12" class="r"><tspan x="272.5" y="1133.2" textLength="13.6" lengthAdjust="spacingAndGlyphs">10</tspan><tspan x="286.1" y="1126.8" textLength="6.6" lengthAdjust="spacingAndGlyphs">4</tspan></text>
<text x="240.1" y="1147.1" font-size="12.4" class="r" textLength="35.2" lengthAdjust="spacingAndGlyphs" text-anchor="middle">FL1-H</text>
<text transform="translate(187.1,1043.4) rotate(-90)" font-size="12" class="r" textLength="19.5" lengthAdjust="spacingAndGlyphs">200</text>
<text transform="translate(187.1,1111.1) rotate(-90)" font-size="12" class="r" textLength="6.6" lengthAdjust="spacingAndGlyphs">0</text>
<text transform="translate(172.1,1093.1) rotate(-90)" font-size="12" class="r" textLength="40.0" lengthAdjust="spacingAndGlyphs">Counts</text>
<clipPath id="h72"><rect x="197.4" y="1034.9" width="88.9" height="77.7"/></clipPath><g clip-path="url(#h72)">
<path d="M200.4 1110.0 L202.2 1110.2 L204.0 1110.1 L205.6 1109.5 L207.2 1109.8 L209.2 1109.9 L210.8 1109.4 L212.6 1109.8 L213.0 1107.5 L213.1 1106.1 L213.5 1104.3 L214.0 1102.9 L214.4 1101.1 L214.6 1099.7 L214.8 1097.7 L215.2 1096.0 L215.3 1094.5 L215.5 1092.7 L216.0 1091.0 L215.9 1089.6 L216.3 1088.0 L216.6 1086.0 L216.8 1084.2 L216.9 1082.8 L217.0 1081.5 L217.2 1079.3 L217.2 1078.3 L217.4 1076.1 L217.7 1074.6 L217.8 1073.2 L217.9 1071.8 L218.0 1069.9 L218.0 1068.2 L218.3 1066.8 L218.4 1064.9 L218.5 1063.2 L218.6 1062.0 L218.9 1060.3 L219.1 1058.6 L219.2 1056.5 L219.3 1054.9 L219.6 1053.5 L219.7 1051.6 L219.8 1050.1 L219.9 1048.2 L220.2 1046.3 L220.5 1044.4 L220.6 1043.1 L221.1 1041.4 L221.6 1039.8 L222.0 1038.0 L222.4 1036.2 L225.2 1036.3 L225.7 1037.8 L226.2 1039.7 L226.8 1041.2 L227.4 1042.7 L227.4 1044.5 L227.8 1046.4 L228.0 1048.4 L228.2 1050.0 L228.4 1051.5 L228.5 1053.0 L228.8 1054.8 L228.9 1056.9 L229.1 1058.5 L229.4 1060.1 L229.4 1061.9 L229.8 1063.6 L229.7 1065.2 L230.0 1066.8 L230.4 1068.7 L230.4 1070.0 L230.7 1071.7 L230.9 1073.6 L231.3 1075.0 L231.2 1076.7 L231.5 1078.4 L231.6 1079.8 L231.9 1081.9 L232.2 1083.1 L232.5 1085.0 L232.8 1086.7 L233.0 1088.5 L233.5 1089.6 L233.6 1091.3 L234.0 1093.1 L234.4 1094.7 L234.8 1096.1 L235.2 1097.9 L235.3 1099.3 L236.3 1100.9 L237.0 1102.3 L237.9 1103.8 L238.7 1105.3 L239.5 1107.0 L241.1 1107.4 L242.7 1108.4 L244.3 1108.5 L246.2 1109.2" fill="none" stroke="#111" stroke-width="1.6" stroke-linejoin="round" stroke-linecap="round" />
<path d="M198.5 1110.0 L200.6 1110.4 L202.4 1110.5 L204.3 1109.6 L206.0 1109.5 L207.2 1108.2 L208.3 1107.8 L209.7 1106.6 L210.8 1105.9 L212.2 1104.5 L213.9 1103.7 L215.3 1102.5 L216.2 1100.9 L217.4 1099.2 L218.2 1097.6 L219.4 1095.8 L220.2 1094.5 L221.1 1092.8 L222.2 1091.7 L222.7 1089.2 L223.2 1087.8 L224.5 1086.3 L225.3 1084.8 L226.0 1082.9 L226.3 1082.5 L227.2 1079.8 L227.6 1078.2 L228.1 1077.6 L228.7 1076.2 L229.1 1074.3 L229.8 1073.2 L230.4 1070.8 L230.8 1069.0 L231.7 1068.6 L232.0 1066.5 L232.2 1064.9 L233.1 1063.4 L233.4 1061.7 L234.0 1060.2 L234.3 1058.3 L234.7 1056.5 L235.4 1056.0 L236.1 1054.0 L237.1 1052.3 L237.9 1050.6 L238.9 1053.4 L239.4 1054.5 L239.7 1055.8 L239.9 1058.3 L240.4 1059.6 L240.9 1062.0 L241.1 1063.5 L241.4 1064.9 L241.5 1066.1 L242.2 1068.7 L242.1 1070.3 L242.4 1071.7 L243.1 1072.8 L243.6 1074.5 L243.8 1076.7 L244.2 1077.9 L244.8 1079.3 L245.0 1081.1 L245.3 1083.4 L246.1 1085.1 L246.4 1086.1 L247.3 1087.6 L247.7 1089.4 L247.6 1091.0 L248.5 1093.1 L248.8 1094.0 L249.4 1095.6 L250.1 1097.3 L250.7 1098.7 L251.6 1100.7 L252.4 1102.1 L253.1 1103.9 L254.3 1104.6 L255.3 1105.9 L256.8 1108.1 L258.3 1108.6 L259.9 1108.8 L261.6 1108.9 L263.6 1108.8 L265.2 1109.5 L266.9 1109.4 L268.4 1109.2 L269.8 1109.3 L271.3 1109.0 L272.8 1109.6 L275.0 1109.3 L276.6 1109.0 L278.4 1109.5 L280.4 1110.3 L282.0 1110.4 L284.1 1109.6 L286.0 1110.0" fill="none" stroke="#111" stroke-width="3.3" stroke-linejoin="round" stroke-linecap="round" />
</g>
<text font-size="14" font-weight="bold"><tspan x="251.9" y="1058.7">5</tspan><tspan x="263.5" y="1058.7">5</tspan> <tspan x="275.8" y="1058.7" textLength="11.4" lengthAdjust="spacingAndGlyphs">%</tspan></text>
<text x="364.4" y="243.4" font-size="22" font-weight="bold" textLength="58.8" lengthAdjust="spacing">CD34</text>
<text x="365.2" y="383.9" font-size="22" font-weight="bold" textLength="58.8" lengthAdjust="spacing">CD80</text>
<text x="366.0" y="526.5" font-size="22" font-weight="bold" textLength="59.0" lengthAdjust="spacing">CD86</text>
<text font-size="22" font-weight="bold"><tspan x="369.4" y="668.2" textLength="129.4" lengthAdjust="spacing">HLA-CLASS</tspan> <tspan x="511.4" y="668.2">I</tspan></text>
<text x="366.0" y="802.0" font-size="22" font-weight="bold" textLength="88.8" lengthAdjust="spacing">HLA-DR</text>
<text x="369.4" y="948.1" font-size="22" font-weight="bold" textLength="57.2" lengthAdjust="spacing">CD1a</text>
<text x="368.6" y="1089.7" font-size="22" font-weight="bold" textLength="58.8" lengthAdjust="spacing">CD40</text>
</g>
</svg>
</body></html>
